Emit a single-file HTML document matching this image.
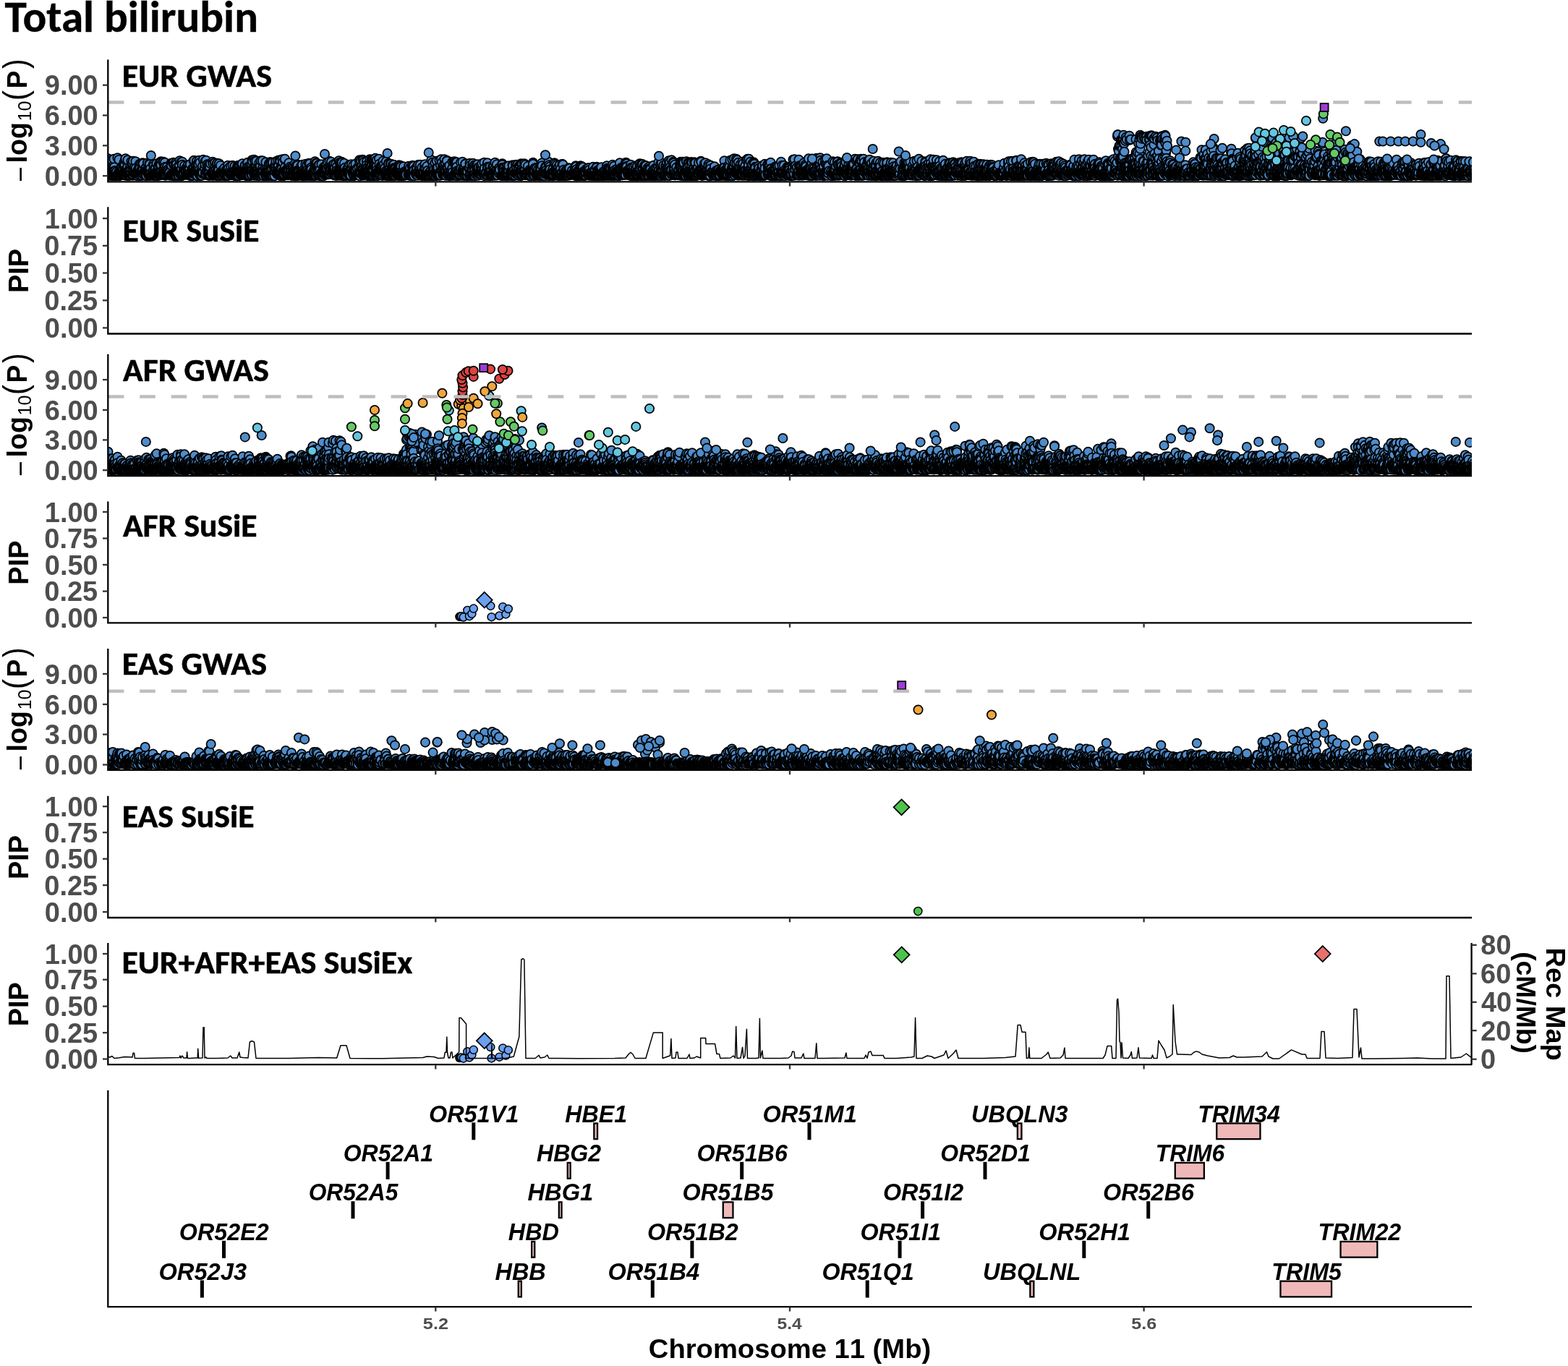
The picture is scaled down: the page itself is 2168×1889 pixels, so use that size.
<!DOCTYPE html>
<html><head><meta charset="utf-8"><title>Total bilirubin</title>
<style>html,body{margin:0;padding:0;background:#fff;}svg{display:block;}text{font-kerning:none;}</style>
</head><body>
<svg width="2168" height="1889" viewBox="0 0 2168 1889">
<rect width="100%" height="100%" fill="#fff"/>
<defs><marker id="mb" markerUnits="userSpaceOnUse" overflow="visible"><circle r="12.3" fill="#4e8ccb" stroke="#000" stroke-width="3.5"/></marker></defs>
<text x="6.47" y="43.70" font-family="Carlito,'Liberation Sans',sans-serif" font-size="59.99" font-weight="bold" textLength="350.47" lengthAdjust="spacingAndGlyphs" stroke="#000" stroke-width="0.35" style="font-kerning:normal">Total bilirubin</text>
<clipPath id="c0"><rect x="149.3" y="82.6" width="1885.7" height="168.7"/></clipPath>
<g clip-path="url(#c0)">
<g transform="translate(0 243.2) scale(.5)"><path d="M285-19l0-5 0-16 0 38 0-2 0 3 0-16 1 11 0-40 1 38 0-4 0 4 0 0 1 4 0-4 1 5 0-22 0 14 1 6 0-3 0 0 1 3 0 3 0-15 1-27 2 33 0 4 0-8 1 11 0-27 1 30 0-29 0-4 1 33 0-11 0-3 2-33 0 46 0-16 0 14 1-1 0-41 0 40 2 2 0-21 1 13 0-1 0 7 0-21 1 26 2-3 0-3 1 3 0-7 1 10 1-17 1-25 1 26 1 17 0-10 1 7 0-11 0-6 1-1 1 11 0-20 0 22 0-39 0 46 0-3 0-3 1-17 0 11 0-1 0 11 0 1 2-5 1-7 1 14 0-6 1 1 0 4 0 1 1-11 1 10 2-49 1 47 0 1 1-6 1 7 1-9 0-35 0 45 1-7 1 4 0-3 0 2 1 3 2-17 0 5 0 4 0 5 2-3 0-18 0 12 0 11 1-21 1 16 0 4 1-1 1-15 1 2 0 11 1-3 0-21 1-7 0 35 0-4 0-23 1 26 1-28 0 19 0 8 1-9 0-31 0 35 1-6 0 1 0-34 1 36 0-6 0 17 1-1 0-8 1 1 0-3 0-2 1 7 0 1 1-1 0-10 0 5 1 8 0-20 0-20 1 31 1 13 0-11 1 8 0-4 3 5 0-8 0 3 1-18 1 19 0-9 0-3 0 5 2 6 0-33 0 34 2-27 1-2 0 34 1-14 0 11 0-10 1-27 0 39 1-1 1-6 1-3 0-10 1-3 0 18 2-2 0-6 1-25 0 24 1 15 0-8 0 3 0-16 0 16 1 0 0 1 1-3 0 0 0 0 3 8 0-16 0 3 1 3 0-6 0 2 0 9 1-1 0-11 1-3 0 13 1-21 0 24 0-3 1-26 0 28 1-22 0 6 1 21 1-10 1 4 1 3 0-13 0 10 0-29 1 32 0 0 1 2 0-8 0-8 1-7 0 17 1-29 0 20 0 10 1-28 1 30 3-10 0 7 1-3 0 9 1-5 0 3 1-19 1-1 1 9 0-1 0 15 2-16 0 5 1-5 0-20 1 23 2-3 0 15 1-24 1 15 0 0 0-24 0 28 1-26 0 28 1 3 0-7 1 7 0-19 0 18 1-2 0-4 3 6 1-5 2-6 1 10 0-3 0 2 0-28 1 28 0-23 1 23 0 3 0-4 1 5 0-10 0-1 1 5 0-15 0 18 1-5 0 5 0 1 1-19 0 18 2-8 0 7 1-30 1 27 0 6 0-6 0 0 1 7 0-5 1-5 1-4 0 10 1-23 0 20 1-4 1 10 0-32 0 31 1-9 1-22 0 30 2-35 0 33 0-7 0 9 1-37 0 3 0 31 0-24 1 19 0 0 3 5 1 3 0-1 1-7 0-27 1 26 0-27 0 34 1-16 0 13 1-12 1 18 0 0 1-35 0 28 1-16 0 20 1-11 0 3 0 12 1-2 1 0 1-11 1-11 1 8 1 7 0-3 0 9 1 0 0-1 1-4 0 7 1 0 1-2 0-2 0-4 1-1 0 9 0-7 3 8 1-3 0-31 0 2 1 29 0-25 2 25 0 1 2-33 0 30 1 3 0-2 1-32 0 33 0 4 1-6 0-24 1 29 0 0 0-4 1 4 0-1 0-8 1-14 0 22 0 2 1-10 1 10 0-19 0 7 0 5 0-29 0 29 0-3 1 9 0 0 1 0 0-9 0 1 0-23 0 22 1-12 2 14 0 1 0-10 1 0 1 4 0 12 2-11 0 12 1-11 0-17 0-2 1-12 1 31 0 4 0 1 0-2 2-6 1 13 0-37 0 30 0 7 1-19 0 20 2-39 0 8 1 29 1-4 0 4 0-3 2-11 1 10 1-22 1 13 3 1 0 11 0-18 0 5 0 10 1 0 0-8 2-8 1-4 0 20 0-13 0-3 0 0 1 3 0-3 0 4 0 14 1-26 0 14 0 11 0-13 1 4 1 12 0-1 0-1 0-1 1-1 0 0 0-2 1-18 0 6 1 12 1-24 1 23 0 9 2-1 0 0 2-4 0 4 0-9 1 4 0-14 1 18 1 0 0 1 0-6 1-9 0-3 0 8 0-31 1 35 0 1 1-37 0 34 2-7 1 9 1-2 0-4 1-6 0-11 0 18 0-15 1 0 0 21 0 4 0 1 1-38 0 25 0 7 0-34 0 22 0 0 2 19 0-13 0 13 1-34 1 25 0-17 0 4 1-10 2-11 0 28 0 8 1 2 0 0 1 4 0-8 0-28 1 36 0-7 1 7 1-9 1-4 1 13 0-13 0 5 1 0 1-18 1 19 0 2 0-3 1-36 4 22 0 2 1-19 0 8 1 23 0 3 0 3 1 0 0-3 1-2 0 4 0-39 2 31 1-20 2 29 0-17 1-9 0 18 1-12 0 16 0 6 0-5 2-21 0 26 1-24 2 23 0-32 3 26 2 5 0-3 1 5 0-38 1 37 0 1 0-33 2 31 0-7 0 2 0 4 0-3 0 3 0-2 2 0 0-9 1-21 1 11 0 22 0-5 2-10 1 16 1-3 0-28 0 26 1 7 0-13 0 10 1-26 0-6 1 16 0 14 1-13 0 4 0 12 0-11 0-1 1 8 1-12 0 2 1-18 0 32 1 2 1-5 0 0 1 1 0-4 1 5 0-7 0-19 2 22 1 5 0 0 0 0 1-1 1-1 1-12 0 7 0 7 0 1 1-6 1-8 0 8 0-10 1 3 0 3 2 2 0-13 0 20 0-6 1 8 0-2 0-4 3-10 0 6 0 1 1 4 1 3 1 0 0 1 1-13 1-15 0 28 0-8 0 1 1-11 0 17 0-18 1 8 0 11 0-20 2 11 1 4 1-8 1 0 0 11 1-4 0-20 1 19 1 6 1-9 0 7 0-1 2-3 0 5 0-26 0 18 0 6 0 0 0-5 1 3 0 1 0-1 4 6 0-7 0-2 1 1 0-17 0 18 0-19 1 19 1 8 1-17 0 10 1 4 1-8 0 9 0-8 1 3 1 7 0-22 1 19 0-2 0-23 1 7 0 9 0-3 1-14 0 27 0 0 0 1 1-7 0 8 0-13 0-1 1-14 0 20 0-11 1-5 1 13 0-4 1 4 0 0 0-6 1-1 0-1 0 15 0 2 0-12 1 11 0-5 2-22 0 15 1 12 0-2 1-8 0-21 0 32 0-4 2-5 0-2 0 0 0 10 0-1 1-4 1-2 2 5 0-1 1 4 0-25 0 25 1-5 0-23 0 18 1 0 1 1 0 9 2 2 0-6 0-7 0 9 2-5 0-27 0 10 0 14 1-25 0 26 1 10 0 0 1-2 0-23 1 21 0-11 0 4 0 1 1-7 1 18 0-1 0-17 1 13 0-21 0 25 0-4 0 4 1-27 2 12 0 0 1 13 1-16 0-8 1-17 0 42 0-16 1-22 0 26 3 3 2-34 0 32 0 12 1-1 0-25 0 25 0-5 1-5 0 4 0-4 0-29 1 35 0-22 1 8 1 16 0-9 0 8 1-21 0-15 0 37 1-8 1 7 1-9 0 11 0-18 1 5 0 16 0-9 0 4 1 2 1-4 2-29 1 10 0 21 1 4 0-21 1 13 0-19 0 17 0 6 1-37 1 35 0-2 3 6 0-5 1-13 0 15 0-36 1 28 1 3 1 11 3-7 1-1 0-13 2-17 0 38 0-10 1-5 0 14 0-11 1 6 0-14 1 6 0 13 0-8 0 9 1-7 1 2 1-9 1 2 0 11 1 0 0-24 0 12 1-21 1 31 1-8 0 10 1-20 0-17 1 29 0 6 0-35 0 36 1-15 0-17 1 33 2-4 0 3 1-15 0-2 0-15 0 34 1-37 0 36 3-6 0 0 0 0 1-15 0 18 1-7 0 11 1-20 0-8 1 16 1-12 1 7 0-23 3 32 0-4 0 6 1-11 1 12 0-3 0 4 1-31 0-8 0 37 1-7 0-14 1 21 0-2 0-8 0 3 1 8 0-1 1 1 0 2 1 2 0-43 0 29 1 6 0-31 1 37 0-7 1 10 1-28 0 24 0 1 0-5 1-15 0 4 2-27 1 42 0-9 0-25 2 38 1-8 0 6 0-11 0 10 1-2 1-40 1-2 0 26 0-3 0 11 1 1 1 5 1-9 0 5 0 3 1 2 0-8 0 2 1 7 1-5 1 4 0-3 1 6 0-6 0 7 1 0 1-28 0 26 1-9 0-4 0-19 3 31 0-20 1 23 0 0 0-16 1 16 0-4 1-10 0-6 0 9 3 12 0-2 0-4 1 6 0-3 0-6 0-15 1 14 0 0 1 4 0 2 0-16 1 7 0 10 0 0 1 1 1-13 1 7 1-25 0 27 0-13 1 20 1-6 0 3 1-14 1 0 0-13 0 29 1-20 1-9 0-2 0 31 1-28 0 23 1-10 1 13 0 2 1-13 0 4 1-1 0 9 3-5 0 5 2-6 1-20 0 12 0 15 1-3 0-5 1 5 0-10 0-6 1 2 0 1 0-14 1 21 0 8 1-4 1 6 0-5 0 4 0 1 0-4 1 2 1-16 0 8 0 4 3-8 0 4 0 1 0 3 1 5 0-14 0-18 0 32 1-17 1 15 1-2 0-10 1 14 0-29 0 29 1-3 0-6 1-7 1 11 0-3 0 5 1 1 1-8 0-24 1 33 0-13 1 0 1 14 0 0 0-5 0-28 1 33 0-5 1-7 1-10 0 16 1-5 0-6 0 13 1 5 0-6 0 4 1 1 0-1 0 1 1-5 2-2 1 1 0 7 0-8 0-5 0 13 1-6 1 5 0-14 1 13 0-5 1-18 0-9 0 32 0-7 0-5 0-26 1 33 2-5 0-24 1 35 1-34 1 28 1-13 0-7 0 20 2 5 1-11 0 11 0 0 1-22 0-7 1 0 1 27 1-13 1 12 0 5 3-32 1 22 0 10 0-9 0 3 1 4 0-3 1-7 1 12 0-3 1 3 0 0 0-12 1 6 0-6 0-12 1 2 0 13 1-9 0 0 0-2 0-1 0 10 0-7 1 15 0-2 1-8 0 0 0 6 1-14 0 7 0-3 2-7 0 8 1 10 0-25 1 27 0-17 0 17 1-16 1-19 1 35 1 0 1-1 0-18 2-18 1 21 0 13 1 0 0-3 0 2 0 3 1-9 0-8 0 12 0-17 0 11 1-5 1-18 2 15 1 19 0-24 1 17 0-8 0 7 0-7 0-5 2-2 0 19 1-14 1-11 0 23 0 7 0 1 1-6 0-8 1-7 0 20 1-4 2 6 0-32 0 26 1-6 0 1 1-4 0 15 1-12 0-13 1 10 1 10 1-4 1 8 0 0 1-40 0 29 0-1 1 8 0 4 0-14 1-21 0 34 0-12 1-1 0 5 0 1 0 7 1-2 0 4 1-3 0-31 0 32 1 1 0-4 0-3 0 3 1-12 1-17 0 28 0-32 0 28 1 2 0-9 0-19 0 32 2-9 0 10 0 0 1-2 0-2 1 8 0-14 0 9 1 3 0-9 0-11 0 16 0-5 1 3 0-27 1 15 0 17 1-20 0 15 1 0 0 7 1-11 0 6 0 5 1-5 0 0 3-6 0 11 0-18 1 10 1-12 0 14 1-4 0-14 1 11 0-10 1 22 1-6 1-7 0-16 1 23 0-8 0 16 0-1 1-5 0-6 1 11 0-18 2-13 1 14 2 7 1 1 0 5 1 0 0 0 0-24 1 29 1-3 0-15 1 5 1-6 1 9 0-8 0 5 1 11 0-1 0-30 1 18 0 6 0 3 0-10 3 11 1-17 0 3 0 15 1 0 0-3 1 5 2 0 1 0 0-22 1-17 0 32 0-35 0 41 1-4 0 7 0-8 0-29 1 24 2-15 0-14 0 34 1-3 0 3 1-18 3 19 0-13 0-25 1 42 0-40 0 38 0-11 0 15 1-23 0 6 0 12 2-33 0 37 1-12 1 4 0 3 0 3 1-2 0-12 1 12 0 4 1-3 0 3 0-24 0 21 0-11 0 11 1-3 1 6 0-38 0 10 0 8 1 3 0 17 0-12 1 10 0-8 1 4 1 1 0 7 0-4 0-11 1 11 1-9 0 0 2-22 0 32 1-7 0-36 0 39 1-19 0 24 0-14 0 0 1 16 1-2 0-24 1 11 0-30 2 13 0 32 1-3 0-42 0 29 0 5 1 8 0 0 0-9 1-10 0 18 0-13 0-22 1-5 0 21 0 7 0 16 1 0 0-30 0-3 1 7 0-5 1-12 1 37 1-43 0 23 0-8 0 33 2-40 0 40 0-23 1 15 0-6 0 9 1-21 0-17 0 31 0-3 1 13 0-7 1 10 0-6 1-2 1-2 1 7 1-6 0-38 1 37 0 6 0-29 1 29 0-16 1 2 1 11 0-7 1-13 1 0 0 13 1-11 1 6 0 9 1-1 0 10 0-17 1 17 0-25 1-15 1 23 1 7 1-21 0 29 0-14 1 4 2-6 0 12 0-16 1 15 1 3 0 4 1-7 0-32 1 39 0-15 0 3 0 5 0 5 1 1 1 0 1-1 0 2 1 0 0 1 1-35 0 29 0-2 1 2 0 4 0-20 0-11 1 32 0-4 0 4 0-4 1 0 0 2 1-18 0 12 1 9 1-14 0-19 1 0 0 21 1 8 1-12 0 16 1-8 0-3 1 11 0-1 0 0 0-2 0-17 1-10 0 29 1-16 1 11 1-25 0 30 0-5 0-16 0 19 1-8 0 6 1-6 0-9 0 14 0 4 1 1 1-4 0 2 1-1 0-16 0 19 3-3 0-12 0 6 1 5 0-10 1 6 1 5 0-7 1-7 0 7 0 3 0-2 1-5 0 11 0-20 0 17 0-3 1 5 0 0 0-25 1 16 0-2 0 16 0-5 0-3 1 6 0-5 1-3 0-12 0-6 1 21 0-22 0 24 1-6 1-15 1 16 0 4 1 0 0 6 1 0 0-3 1-10 0 11 1-1 0-13 0 14 0-1 2-23 0 22 0 1 0 2 1-9 1 5 0 3 1-4 0 5 0-11 0 3 1 4 1-1 2 3 6 0 1-24 2 20 0 6 0-2 1-1 1-19 1 22 0-4 2-4 2 8 0-1 0 0 0-6 0-20 0 25 1-8 0 11 0-11 0-14 1-4 1 25 2-12 0-11 0 16 0 4 1-9 0 16 5-10 0 4 1-6 0-10 0 19 1-1 1-9 0-12 0 5 0 14 1 0 1-3 1 8 0-11 1-19 2 26 1-12 1 10 0-3 1-21 0 28 0-6 1-1 0 3 1-7 1 12 1-9 0 2 1-14 1 23 1-1 0-5 0 2 2 1 0-7 1 5 0-10 1 7 1-16 1-8 1 12 0 20 1-20 0 13 1 7 0-7 0 6 1-5 0 4 2-25 0 14 0 10 1-11 0 1 1-2 1 10 0 4 0 0 2-3 1 4 0-9 0 7 2-8 0 1 0 8 0-10 0 4 2-6 0 5 1-1 0-6 1 12 0-41 1 42 1 2 0-10 0 2 0-1 1-28 0 37 2-5 0-16 0 13 0-19 1 16 1 11 1-13 0-6 0 14 0 2 2-33 2 31 0-5 0 10 0-8 2-10 0-4 0 16 1-35 0 29 1 10 0-14 1 6 0-11 0 11 0 5 0-1 1-6 0-6 0 16 0-7 0-14 1 16 0 1 2 5 1-42 1 40 0-7 0 6 0-5 1 4 0 4 1-28 0 27 2-44 2 9 1 24 1 9 0-21 2 20 1-22 0 15 0-18 1 21 0 4 1-18 0-23 0 44 0-4 1 4 0-6 1 6 1-18 0-15 1 27 0 4 0-8 1 11 2-42 0 2 0 34 0-17 2 13 0 3 1 5 0-19 1 12 2-3 1-16 0 29 1-2 1-3 1-8 0 4 1-2 1 5 3-16 0 21 0-38 1 28 2 9 1-37 1 38 1-39 1 4 0 31 1-28 0 29 0-2 0 4 0-1 1-7 1-9 0-18 0 26 0-3 1 8 0-19 0 1 1 18 0-32 0 36 0-23 0 20 1-4 0-5 0 7 0 7 2-4 2-4 1 0 0-2 0 8 0-13 1 2 0 11 0-9 1 10 2-2 0 1 1-35 0 26 1-10 3 15 0 5 1-38 1 31 0-11 0 8 0 0 1-2 1 9 1-15 0 18 1-13 1 12 0-20 0 21 1-12 0 12 1-33 0 1 0 22 1-4 1 11 1-9 0 9 1 4 0-2 0-9 1-4 1 15 0-11 4-10 1 0 0 20 0-22 1-12 1 6 0 27 1-6 0 0 3-6 0-3 1 17 0-10 1-5 0-5 0-9 1 13 0 14 1-33 1 30 0 0 1-21 1 17 0 9 1-30 0 16 1 14 1-7 2-22 1 26 1-23 1 2 0 16 1 1 0-5 1 2 0 6 0-28 1 9 0 22 2-23 0 19 1-1 3 2 0-8 0 7 1-20 0 11 2-6 0 16 1 1 0-8 1-7 0-16 2 22 1 7 1-4 0-2 1 3 1-29 0 35 1 2 0-21 2 17 2-6 0 3 1-1 3 7 0-25 0-10 0 11 1 4 1 14 0 6 2-7 0-6 1 8 1-13 0 11 0 3 1-9 0 12 0-15 0-2 0-5 1 24 0-26 1 24 0-2 0-5 0 5 1 2 1-7 0-5 0 10 0-12 0 13 2-1 1 3 1-1 0-4 0 2 0-2 0 4 0-25 1 24 0-17 1 12 0 6 0-24 2 8 1 10 1 7 0-36 0 24 0 5 1 4 2-8 0 4 1 3 0-10 0 8 1-25 0 30 1-8 0 8 1-8 0 8 2-10 1 3 0 1 0-6 1-8 0 1 2 4 4 16 1-1 1 1 1-33 0 3 0 8 1 4 0 15 1 3 1-10 1 10 0-6 0-16 0 9 1 1 0-1 0-7 0 8 1 7 0 1 0-3 0-6 1 9 0 2 2-6 0 8 0-6 1 5 0 1 1 0 0-7 0 3 0-13 0 9 1 2 0 5 0-12 1 6 0-3 0 9 0-25 0 20 1 7 1-21 0 6 0 1 1 2 0 5 0 6 0-15 1 11 0-9 0 8 0 4 0-4 1-8 0-14 4 26 1 0 0-10 1 11 0-2 0-1 0 1 1-6 1-1 0 8 1 1 0-6 1-7 0 12 0-28 1 19 0-17 1 18 0 10 1-2 2-14 1 9 1 1 1 5 0-8 0-1 1 3 0-24 2 20 0-10 0-5 1 19 2 3 0-27 0 24 1 3 0 2 1-2 0 1 0-2 1-4 0 8 0-25 1 5 0 13 1 2 0-2 0 1 2-19 0 17 1 1 0-6 1 14 0-15 1 6 0-25 1 16 0 13 1-27 0 30 0-6 1-12 0-5 0-7 0 19 0 1 0 7 0-14 1 6 3 5 1-9 0 12 0-14 0 6 1 1 0 1 0-23 0 28 1 3 1-5 0-8 0 11 1-26 0 29 1-5 2 1 1 0 1 4 1-1 1-24 1 17 1-1 1 9 1 1 1-4 0 5 0-17 1 10 0 4 0-10 0 12 0-5 1-2 0-6 0 8 2 4 0-2 0-1 0 5 1-15 2 11 1-3 0-2 0-7 1-21 0 34 0 0 0-14 0-16 0 31 1-1 1-13 0 14 1-7 1 2 0 7 0-21 1 9 0-3 4 10 0-18 0 22 0-17 0 15 1-18 0 16 1-5 1 9 0-2 0 1 1-3 1 3 1-10 0-4 0 11 0-14 2 11 0 6 0-5 0 5 0 0 1 2 1-3 0-8 1 3 0-12 0 19 1-20 0 21 0-17 1 13 0-17 0 1 1 19 0-3 2-32 0 8 0 21 2 7 1-9 2 7 0-14 2 16 1-19 1-1 0 15 0-12 0-8 1 13 0-1 1-11 0 17 1-9 0 8 3-2 1 1 0-2 1-1 1 3 0 3 0-33 0 34 1-25 0 30 0-4 1-15 1 2 0 9 0 4 1-22 0 10 0 2 0-4 2 13 0 3 1-2 0-4 1 5 1 0 2-11 1 5 0-10 0 9 0 10 1-6 1 4 0 1 1-2 0 0 1-33 1 25 2-22 1 15 0 14 0 1 1 1 0-11 0 7 1-7 1-17 0 13 1 16 1-15 0 14 1-6 0 3 0-6 1-13 1 20 1-11 1 13 0 2 0-7 1-24 1 28 1-8 0-8 2 18 0 0 1-2 0-6 1-1 0 3 1-26 1 32 1-30 2 30 0-16 1 17 0-8 2 1 0-1 1 7 0-7 0-2 1 9 0-13 1 13 0 0 0-1 1-6 0 1 2 0 0-10 0 10 0 5 1 0 2-8 0-3 1 12 0-7 1-14 0 17 2 1 0-17 3 14 1 4 1 0 0-2 2-3 0-7 3 7 0 0 1 4 2-9 0 8 1-4 1-14 0 20 1 2 0-3 1-24 0 19 1-1 0-16 1 25 0-17 0 17 0 1 2-5 0 5 0-1 0-4 1-8 0 10 1 2 1-12 0 11 0-2 0-1 0-6 1 10 0-3 1 4 1-1 0-13 0 0 1 13 0-8 0 7 1 1 1-12 0-15 0 23 1 4 0-6 2 5 0-25 0 3 2 22 0-16 0 7 1 7 0-2 1-5 0-13 0 13 0 4 1 6 0-3 0-3 1 7 0-3 1 2 0-7 1 6 1-12 2 13 1-15 0 12 0 2 1-6 0-2 0 2 1-11 0 0 2 0 2 16 0-5 0-14 1 19 1 0 0-19 1 20 0 1 1-16 0 10 0 0 3 4 0 2 0-4 1 1 0 1 0 0 1 1 0-5 1 0 1 6 0-1 0-9 0 8 1-5 1 5 0 2 0-12 0 10 1-22 0 20 0 4 1-2 1 2 1-3 0-11 1 10 0 4 0-14 1 10 1-9 0-3 1 17 0-2 1-3 0 2 2-22 0 2 0 22 1-8 0 9 0-7 1-8 0 9 1-8 0 10 0 3 1-5 2 4 0-13 0 15 1-8 1 2 0 4 1 0 0-2 0-5 0 5 0 3 1-17 1-4 0 0 1 2 0 11 0 3 1-2 0-16 0 23 0-1 0-4 2 2 2 4 0 0 2-12 1 11 1-2 0 2 1-11 0-1 0 12 1 0 0-1 0-2 1-4 1 5 0-4 1-4 1 10 1-4 0 2 0-25 1 22 0 1 0-16 1 18 1-8 0 10 0-4 0-2 0-4 1 1 0-4 0-6 0 1 1 9 0-7 0 11 0-1 1-1 0 6 0 1 2-19 1-2 0 21 0-7 1 0 1-12 1 14 0 5 1 0 0-1 1-1 0-5 1 3 1-26 0 11 1 19 0-13 0 9 1 5 1-1 0-5 0-16 0 19 1-24 0 19 1 2 1 0 0-10 1 9 0 6 1-6 0-1 0 5 1-9 1 4 0-5 2 7 1-7 0 9 0 3 0-19 0 7 1 1 1 11 0-8 1 6 1-14 0 8 0 9 0-3 0 2 1-8 1-3 0 7 1-17 0 7 0 1 0-22 2 19 1 13 0-10 0 12 0-4 1-17 0 5 0 6 0-4 1 14 1-19 1 14 0-2 0 7 0-6 0 1 2 1 0-15 0 6 1 5 0-6 0 0 0 12 0 1 1-2 1 2 0-21 0 3 0 14 0-6 1-6 1 0 0-7 0 21 1-14 1 4 0-21 0 33 1-34 0 14 1 6 1-17 0 7 0 2 1 11 1 5 2-5 0 4 0 7 1-1 2-2 0 4 0 0 1-2 0-5 1 6 0-4 0-4 0-1 1 11 0-8 1-4 0-11 0-7 1 11 0-3 1 19 0 1 1-20 0 23 1-14 0 9 2 3 0-11 0 13 1-12 1 11 0-9 0-15 0 24 1-10 1 11 0-8 1 8 2-9 0-19 0 19 1 5 1-5 0-4 0 13 0-19 1 18 1 1 0-10 0-1 1-15 0 14 0-15 1 26 0-10 0 11 0-3 2-11 0 14 0-5 0 1 0 3 1-7 0 5 2-7 0-1 0-1 1-22 0 29 0-28 0 9 1 6 1 1 1-12 0 28 0-1 1-1 0 0 0 3 0-4 1 0 0 3 0-3 0-29 0 23 0 9 2-31 0 30 1-30 1 32 0-18 0 17 1-7 0 4 1 4 1-5 0 4 0-5 1 0 0-21 0-1 1 25 0 2 0-8 1 7 0-13 0 13 0-27 2 17 0-16 0 28 1-9 1 0 1-1 1 9 0-15 0 7 1-13 1 21 1-3 0-6 0-4 1-4 1 17 1-8 0-1 0-16 1 5 1 9 1-7 1 16 1 3 0-3 0 2 1-1 0-8 1 3 0 5 0-7 2-4 1-2 0 9 0 4 1-6 0-21 0 29 1-3 0-14 0 15 1-4 1-2 1 8 0-1 0-3 1-17 0 15 1 2 0-8 1 4 1-3 1 10 0-20 1 18 1-4 1 1 0 5 1-25 0 22 0-6 0-3 1 9 0 3 0-13 0-24 1 33 0-10 0 13 3-7 0 7 1 1 0-27 0 21 0 0 1-27 1 20 0 14 1-10 0-1 1-25 1 30 0 1 0 2 1-9 2-13 0 21 1-25 0 24 1-2 1 6 1-2 0 2 1 0 1-1 1-26 0 1 1 23 0-15 2-17 1 13 1 4 0 17 0-3 1 2 0-11 0 13 1-10 1-31 0 37 1 4 1-5 1 5 0-37 0 15 1 11 1 3 1-9 1 13 0-13 1 2 0-28 2 41 3-36 0 34 1-11 0-14 0-6 0 29 1 0 0 1 1-16 0 3 1-12 0 24 0 5 1-1 0 1 0-1 0-4 0-1 0-1 0 7 2-2 2-20 0 17 3 4 1-5 0 6 1-1 1-15 0 2 2 10 1-26 1-1 0 28 0 2 0-20 1-3 0-13 0 38 1-21 1-6 1-9 1 36 1-18 0 1 0 13 1-34 1 4 0 34 0-13 1 10 1-32 1 34 1-10 0 6 0 0 0 6 1-13 0 10 0 1 1-14 1-1 1-3 0 20 1-10 0-30 0 29 1-3 0-2 1 3 2 12 0-3 0-8 1-25 0 19 0-7 2-11 0 35 0-2 1 2 1-8 0 4 0-11 0-13 1 23 1-6 0 8 1-13 1 9 0 8 0-38 0 0 0 38 1-10 0 9 0-8 0-18 2 23 0-33 1 35 0-16 1 11 0-13 0 19 0-11 1 1 1 0 0 9 0-4 0 1 0 5 1-23 0 20 0-19 0 21 1-37 0 36 1-8 0-27 0 30 1-3 0-7 0 14 1-6 0-5 0-22 0 35 2-3 0 4 0-2 2-17 0 6 0 8 2-19 0 17 1-15 1 18 0 0 1-3 0-30 1 24 1-1 1-1 0-2 1 2 0 7 0-5 2 7 0-35 1 23 0-21 1 26 0-4 0 7 0 5 1 0 0-10 0-2 0 16 1-2 1-7 0 7 0 2 2-2 0-10 0-8 0 4 1 6 1 7 1-29 0-1 1 18 0 2 1 9 0-15 0 18 0-2 1-1 0-31 0 22 2 8 0-6 0 9 0 1 2-1 1-2 0-8 0 11 0-3 1-1 2-26 0 6 1 21 0-4 1-1 0 10 1-4 0-16 0 19 1 1 0-5 1 4 0-17 0 7 1-18 0 9 3 9 1 3 3 7 1-3 0-7 0 7 1 1 1-1 1-22 0 23 1 1 1-1 0 0 0-5 1-5 1 6 1-2 0 5 0-4 0 8 1-1 1-15 2 12 0 0 1 1 0-14 1 11 1 6 0-3 0-2 0-13 1 10 0-1 0 2 1 1 1 5 0-1 0 0 1-10 0-3 1 4 1 3 0-8 0 7 2-5 0-1 2 14 0-1 0-2 0-10 1-2 1 8 0 5 0-3 1-5 0-13 0 16 1 0 0-5 1-11 0-18 0 27 0 5 0-13 1 22 0-14 1 12 0-1 0-1 1-3 1-5 0 1 0 11 1 0 1-16 0 15 0 0 1-2 0 2 1-1 0 2 1-16 0 17 0-25 1 22 0-6 0 5 1-24 2 18 1-15 1 20 0 2 1-40 0 33 1 2 0 8 1-2 0-10 1 6 1 4 0 0 1-18 0 14 0-3 1-15 0-21 0 35 1-17 0 27 1-5 2-3 0-18 0 3 1-25 0 22 0 19 0-2 1-2 0-1 1 10 0-33 1 26 1 1 0-1 1-5 0-3 1-30 0 32 1-14 0-6 0 24 0 6 1-7 1-4 0-28 1 27 0 4 0 8 1-11 0 15 1-7 0-3 0-26 1 14 0 18 0 2 2-3 1 4 0-15 1-11 0-3 0 9 0 17 2 1 0-1 1-2 1-14 0 6 1 11 0-4 0 2 0 5 1-38 0 30 0 5 0-4 0 0 0-3 1-6 0 13 0-5 1 6 0-31 1 16 1 7 0-4 1 4 1-2 0 12 0-23 1 12 1 7 0-24 1 25 0-12 0 2 2 12 0-42 2 34 1-5 0 11 0-43 1 32 1 3 1-13 0 22 0 3 0-7 0-23 1-17 1 31 0 15 0-5 1-5 1 1 1-29 1 36 1 1 1-6 0 2 0-17 0 8 1 11 1 0 0-7 0-22 1 30 1 3 0-4 0-8 1 8 1-5 0-29 1 28 0-26 0 24 1 11 0-32 0 31 1 2 0 0 1-7 0-18 0 6 1-3 0 0 0 14 1 0 0 6 0-4 0 3 3 2 1-6 2 6 1-26 0 17 0-5 1 6 0 1 0 2 1 2 0 0 0-3 0-15 1 17 0 0 1 4 0 1 2-2 1 2 0 0 0-1 1-17 0 12 1-6 1 11 0-1 0 1 0-25 0 23 1 3 1-5 0-24 1 23 2 4 0 2 1-2 1-7 1-24 0 12 1 19 1-1 6-1 0-28 1 8 0 12 1-8 0 12 1 1 0 2 1-28 0 21 1-8 0 13 0-23 3-7 0 17 1 19 0 1 0-18 0-1 1 9 0-2 1 12 0-1 1-11 0 4 0 0 0-2 0-3 1 12 0-11 1 1 0 11 1-5 0-2 0-6 1 5 1 0 2 8 0-9 1 5 0-21 0 14 1-11 0 13 1 9 0-13 0 10 0-14 2 14 0 1 1-10 1-15 2 17 0-18 0 23 1-3 0 6 1-7 0 8 1-9 1-19 0 28 1 1 1-2 0 2 0 0 1-3 0 3 1-1 1-13 0-25 0 28 0 5 2 0 0 1 1-24 1 22 1 3 0-6 0 6 2 3 0-8 1-20 1 28 2 1 0-7 1-11 0 8 0 0 0 5 1 0 1 1 2-6 1-1 0-14 0 22 0-7 0-5 1 12 0-12 0 2 0-9 0 0 2 18 0-4 1-14 0 21 0-7 2-14 0 6 1 11 0 4 1-8 0 1 1 3 1-7 0 6 1 6 0-9 0 7 1-9 0 8 3-25 0 6 1 11 0-34 1 43 2-2 0 3 0-5 1-40 1 19 1 10 1-11 3 26 1-2 0-5 0-15 2 21 0-3 1-6 2-2 0-31 0 44 1-27 0 26 2-25 1 2 1 21 0-7 0-9 1 16 0-12 1 5 0-15 1 23 0 0 1-7 0-5 0 12 0-10 0 12 1-11 0-6 1 8 1 8 0-8 0-16 1 20 0-4 0-13 1-13 1 18 0 11 1 5 0-8 2-21 0 11 1 14 0-13 1-8 0 15 0-14 0 24 1-12 0-1 0 9 1-2 0 5 0-13 1 12 1 1 1 1 0-11 0-4 0 14 1-7 1 9 0-47 0 31 0 12 2 2 0-15 1 17 1-14 1 11 0-24 0 1 1 10 0 3 1 10 0-12 0 15 0 0 0-22 2-12 0 34 1-7 0 4 0-3 1 3 0 3 0-46 0 24 3 13 0 5 0-14 2-4 0-23 0 33 1 8 1 2 0-12 0 12 0-42 0 36 0-30 1 30 0 8 1-3 0-41 2-4 0 48 1-23 1-6 1 26 0 2 0-42 0 7 1 31 1-1 1-30 0 28 1-21 0 28 0-18 1-7 1 26 0-4 0-44 1 16 0 24 0-41 1 31 0-24 0 34 1-9 1-2 0 1 3 5 1-25 0 33 0-3 2 0 1-17 0 26 3-10 0 8 0-6 0 3 0-5 1-26 0-10 2 33 1-19 0 23 0 5 1 2 0-8 0-38 2 39 0-20 0 16 1-1 0 13 0-8 2 1 0-13 0 14 0-20 2 13 5 2 2 11 0 1 0-5 1-2 0 7 2-40 0 31 1-3 0 7 0 1 1-6 2 2 0 7 0-7 0 4 1-34 0 30 1 0 1 4 0-14 1 17 1-25 0 22 2 1 2-37 0 1 0 37 1-4 0-25 1 20 1 9 0-16 0 8 0-22 0 31 1-12 0 2 3-22 0 31 1-16 0 4 1 5 0-28 1 31 0-1 0-27 1 13 0 12 0 6 1-25 1 13 0 7 2 3 1 0 0-12 0 11 0-13 1-2 1 15 0 5 0-2 1-26 0 18 0 10 0-18 1 15 0-24 0 28 1-13 0 2 1-31 0 31 0 5 1-2 0-30 1 27 0-8 1 3 0 6 0 8 2-16 0 7 0 6 0-1 1-2 0 5 0-12 0-7 0 16 1-12 1 7 1 2 0-25 1 26 0-5 1 1 1 7 0-36 1 28 0-5 0 14 0-17 0 18 1-3 0-19 1 24 0-3 0-12 1 10 0-2 0-14 0 20 0-20 1 9 0-3 1-7 0 19 0-6 1-6 1-3 0-11 0 23 0-20 0 20 0-25 1 12 0-2 0 18 1-9 1-12 0-7 2 29 1-44 1 34 0 1 0-4 1 3 0 5 0 7 1 0 0-13 1-28 0 35 2-17 0 14 0-10 1-25 0 35 1-36 0 36 1 9 1-1 0-13 1 14 0-10 0 2 1-27 1 33 0-11 0 7 1-28 1 33 0-41 0 25 0 8 1-9 0 15 0-1 1-14 0 10 0-38 1 46 0-1 1-3 0-38 0 40 0-8 2-2 1 12 1-25 1 13 0-34 1 45 0-30 1 4 0 14 0-24 0 27 1-2 2-4 0-1 1-6 0 2 1-6 0 13 1 13 0-5 0-13 2-3 0 19 1-28 0 23 1-9 0 10 0-33 0 39 1-40 0 39 1 2 0-10 0-10 1-21 0 0 0 30 2 6 0-39 1 40 1-15 0 11 1-13 0 21 2-10 0-24 1 18 1 11 0 5 0-22 1 20 0-6 1 8 1-10 0 4 1-34 0 16 1 22 0-16 2 12 1 4 0-22 0 17 0 4 1-9 0 12 0-2 1 2 0 1 0-10 1-12 0 19 0-33 0 11 0-2 1 22 0-5 0 5 0 3 1-12 1-1 1-23 1 36 0-39 1 33 0 7 0-3 1-14 1 15 0-25 1 16 0 6 1-9 1-14 0-8 1 24 0-13 2 24 1 2 0-2 0-9 0-2 1 13 1 0 1-2 0 0 0-12 0 10 0-33 3 33 1-31 1 24 0 4 1 2 1 3 0-1 1 2 0-20 0 21 1-17 0 13 1-9 0 3 0 6 1-25 0 21 0-4 1 9 0-35 0 31 0-29 2 15 0 21 0-2 0-5 1 0 0 0 0-2 1 1 0 0 1-4 0 11 1-6 0-10 1-9 0 7 0 19 1-19 0 11 1-1 1-6 0 14 0-8 0 2 0-7 1-1 0 4 0-2 0-24 1 25 1 10 2-11 0 12 0-7 1 4 0-3 0 5 0 0 1-34 1 16 0 20 0-26 1 24 0-5 0-1 0-6 0 7 1 1 0-14 1 4 0 12 2 3 1-19 0 12 0-17 1 21 0 3 1-6 0 1 0-10 0-1 1 7 0-19 3 17 1-8 0 14 1-6 1 9 0-2 1 3 0 1 1-35 0 30 1-14 2-20 3 40 2-10 0-10 2 20 0-9 0-3 1 12 0-2 1-19 0-4 1 8 0-19 2 10 0-4 0 21 0 8 1-29 1 7 0 21 0-41 1 24 0 5 1-16 1-10 0 17 0 14 1 6 0-3 0-16 1 3 0 9 2-28 0 30 0 3 1-10 0 3 1-10 0 8 0 6 1 5 0 1 0-20 2-17 0 37 1-8 1 4 0 0 1 1 1-4 0-7 1 11 1-22 0 24 0-9 1-1 0 12 0-3 0-15 0 7 0-6 0 13 1-15 1 10 0 1 2-32 0 24 1 6 3 5 0-16 1 18 0 3 0-1 0 0 0-15 0 9 2 8 0-42 1 35 2-18 0 11 0 3 0 9 1-12 1-1 1-32 0 35 0 8 1 3 0-3 1 2 0 0 1-11 1 0 1-6 0 13 0-8 0-11 1 5 0 13 2-3 0-31 0 19 2 10 0 6 1-16 0 11 0 6 2-15 0 11 1 7 0-18 1-6 0 25 0 0 1-1 0 1 0-28 0 27 1-22 1-16 0 3 1 36 0-19 0-8 3 5 0 20 0-4 2 4 1-26 1 19 0-12 0 13 0-1 0 8 1-33 0 11 3 24 1-23 0 17 1-2 0 5 0-28 0-15 1 11 0 25 1 10 2-4 0-22 0 22 1-4 1 5 0-7 0 9 1-4 0 1 0-26 0 17 0-13 1 20 0-39 1 43 1-21 0 21 1-5 0-19 0 18 1-7 0-9 0 21 0 0 1-22 0 9 1 5 1-9 1 11 1-1 0-34 1 17 1 21 0-21 0 18 0 6 2-4 0-16 0 22 0-8 2-5 1 4 0-3 1-27 0 13 0 26 2-2 1-12 0-6 0 10 0-4 3-4 0 13 0 6 1-4 0-1 0-5 0 4 0 2 1 2 0-7 0-12 2-22 1 35 0 8 0-8 2-12 1 12 0 5 1 3 0-30 1 16 0-19 0 27 0 4 1 0 1-16 0 7 1 4 0 5 0 2 1-16 0 14 1-18 2-4 0 17 1 4 0 0 2-8 0 11 1-14 0-10 0-12 1 17 0 6 0 7 0-8 1 13 0-33 0 11 1 18 0-15 0 18 1-13 1 11 0-6 0 9 1-22 0 18 0 1 0-7 0 11 1-10 0 5 0-26 1 21 0 2 2 4 0-18 0-10 1 30 0-36 0 25 1 12 2-3 1-4 0-27 0 12 1 21 0-31 1 23 0-5 1-10 0 15 1-7 1 4 2 7 1-5 1 10 0-14 1-20 0 29 1-30 0 30 1-2 0 3 1-15 0 5 0-7 0 14 0 2 1 3 1-14 0-19 0 30 2 0 1 4 0-36 0 29 0-5 1 14 0-5 1 0 0-25 1-3 0-3 0 27 1 2 0 4 0-20 2 21 2-4 0 1 0-22 0 2 1 24 0-6 1-19 0 16 1 9 0-4 0-24 0-7 0 27 2 3 1-22 0 24 0 2 0-15 1 11 0-35 2 31 0-11 0 1 0 15 2-14 1 3 1 14 0-4 0-10 2 7 0 6 1-34 0 31 0 1 1-36 2 28 1 12 0-9 0-26 0 34 0-6 0 5 1-18 0 8 0 2 0 9 3-3 1 3 0-15 1 10 0-30 0 36 0-3 0-24 1-11 1 12 1 25 0-2 0-5 1 2 0 4 0-4 0 0 2-7 1-12 0 22 0 1 2-1 0-1 1 5 0-4 1-11 0 15 1-3 1-18 0 8 0-20 1 26 0-7 0 10 0 0 0 4 0-3 3-7 0 8 1-29 0 16 0 6 0-24 0 29 0 1 3-29 1 28 0 0 0-5 0 9 1-11 1 8 0-11 0-9 1 20 0 0 0-26 2 23 1-26 1 31 0-5 0-25 1 21 0-10 1 11 0-10 0 3 0 6 1 3 1 2 1 4 0 0 1-1 0-1 1-18 0 20 0-4 1-26 0 29 0-29 0 22 1 1 0 5 0-2 0-13 1 9 0-1 2 6 1 0 0-17 1 20 0-1 0 1 1-27 0 22 1 5 1-3 0 2 0-4 1-8 1 0 0 6 0-23 1 17 0 2 0 5 1 4 2-27 0 16 0-11 0 16 0-2 1 1 0 0 0 5 0-6 1 4 0 4 0-19 1-1 0 21 0-10 1 2 1 4 0 1 1 1 0 0 0 2 1-3 0 5 1 0 0-4 1-2 3-5 1 2 0 8 1-22 0 12 0-2 1-9 1 1 0 16 1 1 1 1 0-2 0-25 2 21 0 5 1 3 1-3 0-3 2 3 1 4 0-3 1-3 0 5 0-2 1-4 0-1 1 4 0 1 0-1 0-6 0 6 2-2 1-15 1 14 0-11 0-5 1-12 3 21 2 13 1-4 1 4 0 0 1-20 1 17 1 1 0-2 0 1 1-33 0 34 0-4 0-31 1-2 0 28 0-11 1 0 0-3 0 20 1-3 0 7 1-8 0-3 0 8 1-7 1 3 0 7 0-16 0 17 2-40 1 39 0-1 2 1 0 2 1-5 1-10 0-4 0-22 0 36 0-15 1 14 0-8 1 7 1 3 0-6 1-2 0 12 1-2 1-1 2 2 0-11 0 11 1-42 0 31 0-1 1 8 0-37 0 41 1-23 1 9 1-1 0 16 1-18 0-3 1 18 0 0 0 2 1-27 0 28 1-25 0 22 1 0 1-23 0 21 0 0 0 3 0 2 1-10 0-4 1-6 1 14 0 5 0-15 1 15 0-45 0 33 0-4 1 16 0-26 0 19 1 7 1-1 0 2 0-20 1-7 1 27 0-16 0 14 0 1 2-7 1 8 1-36 0 33 0-16 0 15 1-14 0 7 1 2 1-20 0 10 0 5 1 11 0-2 1-13 1 14 0 1 1 0 0-7 0 9 1-10 0-6 1 15 0-31 0 31 1-7 0 8 2-12 1 2 0 1 0 0 1-4 1 12 1-15 1-21 0 38 0-12 0-3 1 13 0-6 1-8 0 14 0-4 1-19 1 14 0 6 0-7 1 7 1-2 0-9 0-15 0 30 0-5 0-33 2 25 0 8 0-8 1 10 0-34 1 36 1-3 1-28 0 28 0 5 1-12 1 10 0-4 2 1 1-11 0 15 1-2 1 1 0-6 1 7 0-16 0 9 1 8 1-11 0-15 1 23 0-8 0 11 1-10 0 9 0-32 1 28 2 2 0-3 0-16 1 5 0 4 1-20 0 22 1 11 0-10 1 2 0 5 1-8 1-8 1-4 0 19 1-10 0 10 0-27 1-2 1 23 1 4 1-6 0 6 1 0 1 1 0-12 2-18 1 31 1-3 0-1 1 2 0 3 0-28 0 30 1-10 0 11 0-5 2 1 0-1 1-25 0 14 0 14 0-4 1-3 0 2 0 4 1-2 1 0 0 4 3-1 0-7 0 3 0 5 1-33 1 29 1-9 0-12 0 13 1-12 0 24 1-9 0-22 2 16 0 13 1-19 0-11 1 25 0 1 0-21 0 18 1-18 1 9 1 11 0-1 1 4 2-5 0-11 0-18 1 17 0 19 2-10 0 9 1-3 0-16 0-15 2 22 0 3 1-27 1 24 0 15 1-5 0-21 1 17 1-23 0 25 1 4 0-26 2 18 0-4 0 10 0-30 1 18 0 0 1 12 0 2 1-7 0 10 1-4 0-10 2 8 0-26 0 27 1 5 1 0 0-15 1-4 0 11 0 0 0 4 0-23 1 26 0-8 0 6 1-7 0-12 1 9 0 14 2-11 0 7 3-3 1-9 1 8 0-7 1 13 1-21 1 16 0-12 1 14 0-3 1-23 2 27 0-11 0-15 1 25 0-12 2 4 0 5 1 6 0-13 0-2 2 16 0-10 1 9 0-10 0-1 0 5 0 7 1-27 0 26 0 0 1 2 1-45 1 33 0 10 0-6 0 7 1-1 0 0 1-1 1 2 0-2 0 2 1-17 1 11 0-18 2 20 1-2 0-22 1 25 1-15 0 17 1-23 1 25 0-46 2 32 1 10 1-30 0 26 0-6 1 5 2 7 0-7 1-32 0-2 1 18 0 21 1-11 0-7 1 11 0 9 2-8 0-27 1 20 0 17 0-9 0 5 1-42 0 34 1-3 0 6 0-19 0 18 1-3 0 6 0-5 2-2 0 4 1-18 1 23 0 3 0-10 0 5 1 5 1-19 0 21 0-10 1 0 0-6 0-24 1 37 0-12 0 10 1-6 0-4 1-30 0 36 1-8 0 7 0-3 1 5 0 6 1-16 0-12 0 13 1 14 0 2 1-25 0 18 0 1 1 5 2-38 1 22 0 8 1-3 0 11 0-16 1-11 1 25 1-41 0 19 1 15 0 9 0-20 1 17 0-11 1-6 0 21 1-6 0-26 0 26 0-15 1 14 0 7 1-5 0 0 2-11 0 12 1-9 1-7 0 13 1-5 0-6 1-7 0-7 0 24 2 4 0-16 0 18 0-3 0-4 1-22 0 24 0 0 1-30 0 28 0-15 0-6 1-3 0 32 0-7 1 8 0-2 0-4 0 4 1-4 0 6 0-21 1 21 1-26 1 16 1 11 0-11 1-18 0 23 1-19 1 5 1 20 0-7 0 4 2 3 1-1 1-3 0-1 0 0 1-6 0 11 1 0 0-8 0-22 1-12 1 38 0 2 0-2 1-14 0 13 0-12 0 15 1 0 1-29 0 17 0 13 1-13 0 13 0-18 1-1 0 10 0 7 0-10 0-22 0 33 1 0 0-24 1-6 1 24 1 8 0-16 1-2 1-3 0 18 2-3 0 2 0-7 0-28 1 38 1-20 1-22 0 42 1-38 0-2 0 40 3-45 0 43 1 1 1-6 2-9 0-24 1 15 0 20 0-13 0 7 1-16 1 12 0 5 0 2 0-23 1 14 2-19 0 25 1 2 0-99 1-5 0 0 0 113 1-52 0-21 1 66 0-4 0 0 1 8 0-64 1-15 1 79 1-45 0 38 0-74 1 65 0 17 0-14 0-23 1 29 0-4 0-23 1 26 0-35 0-53 0 60 1 29 0-37 0-35 0-14 1 63 0 5 0-71 0 79 1-2 0-3 1-73 0 80 0 18 0-47 0 28 0-55 1-26 0 101 1-1 0-60 0 8 0-47 1 10 0-23 0 96 1 12 1-23 0 15 0-77 0 23 1 56 0-21 0 7 0-10 0 33 1-25 0 9 0-18 0 7 1-68 1 69 0 19 1 3 0 6 0-14 0-93 0 96 0-15 1 20 1-95 0 64 0 36 1-27 1 25 0-4 1 3 0 1 0-28 0-3 1 28 0-22 0-4 0 24 0-7 1-13 0 24 0-12 0 15 0-23 1 9 0 15 0-20 0 11 1-10 0-7 0-85 0 80 1 21 0-89 0 83 0-30 1 0 1 41 1-96 1 55 0 41 0 4 0-9 0 6 1-7 1-10 2 9 0-16 0 23 0-41 1 21 0 24 0-23 0 22 0-1 1-26 2 10 0-21 0 20 0 2 1-4 0 21 0-1 1-23 0 25 0-48 0 33 1-22 0 1 0 10 0 16 0-20 1 21 0-11 1-13 0-29 0 57 0-96 1 35 0 64 0-20 1-36 0 56 0-3 1-19 0 24 2-64 1 51 0-24 0 33 1-86 0 72 0 4 1-7 0-9 1 24 0 2 0-37 1 15 0 3 0 19 0-97 0 40 0 50 0-22 0 18 0-22 1 15 1-25 0 39 0-101 0-4 0 38 1 46 0 13 0-73 0 81 0 6 0 2 1-6 0-101 0-2 1 105 0-102 1 100 1-97 1 77 0 14 1-7 0 10 1-24 0 15 0-24 1 40 1-103 0 65 1 23 1 16 1-9 0 5 1-98 0 102 0-101 0 102 1-8 1 4 1-30 1-75 0 84 0 7 0 11 0-92 0 96 1 0 1-20 1 22 0-42 1 5 0-18 0 47 1-14 1 10 1-86 0-11 1 45 0-34 0-1 1 98 0-18 0-65 0 81 1-14 0 1 0 10 0-6 1 11 0-109 0 96 1-64 0 24 0 20 1-77 0 2 1 74 1-74 1 100 0 4 0 5 0-31 1 9 0-3 0 14 1-36 0 31 0-18 0-18 0 49 0-8 0-12 1 19 1-81 0-18 0 87 1-86 1 41 1 50 0-4 1-28 0 42 0-4 0-44 1-59 0 97 1 6 0-4 0 1 1-27 1 35 1-29 0-76 0 53 0 49 1-52 0 36 0-78 1 89 0-19 0 17 0 11 0-20 1 19 1-69 0 1 0 44 1 15 0-27 0 28 0-39 1 32 0 5 1 10 0-16 1-80 0 89 0 8 0-1 0-19 1 8 0 10 0 2 0-99 1 14 0 72 0 6 0-2 1 3 0 4 0-96 0-6 0 92 1-28 0-46 1-24 0 1 1 100 0 6 1-99 0 101 0-25 1-25 0 49 0-49 3 27 1 6 0-83 0 92 1-89 0 91 0-47 1-59 0 107 0-98 0 5 1-11 0 20 1 28 0 28 1 23 0-59 0 26 0 40 0-16 0-29 1 43 0-19 1-15 0 33 0-90 1 14 1 74 0 4 0 0 0-4 1 9 0-24 0-10 1 26 1-7 0 5 0-18 0 0 1 21 1-4 0 0 0-3 1 9 1-37 0 41 0-35 0 33 1-6 2 2 1 5 0-2 1-1 1 2 0-4 0-25 1 6 1 20 1-4 0-21 0 26 1-13 0-4 0 13 2-6 0 8 0 3 1-11 0 15 1-18 0 14 0-20 0 19 2-3 0 4 1-23 0 23 0-7 1-2 1 8 0 3 0-7 2 7 1-17 0 11 0-3 1-13 0 17 1-5 0 8 0 0 2 3 0 1 0-11 0-6 1 8 0-17 0 22 0-14 1 2 0-11 0 14 1 10 0-5 0 0 1 3 0-14 1-13 0 23 2-8 1 8 0 0 1 2 1-22 0 15 0 11 0-4 0 4 1-7 0 3 1 5 0-4 1 4 0-16 0 6 0 12 1-1 0-12 1 7 0-2 1-22 0 16 1-5 1 6 0-1 3-6 0 19 2 0 0-7 0 7 1-3 1-6 0 7 3 2 1-6 3 1 0-8 0 6 1-15 0 12 1 7 1-12 1 16 0 0 1-5 1-33 1 15 0 20 1-15 0 7 0 6 1 4 0-20 0-12 1 31 1-17 0-14 0 11 1 13 0 1 0 3 1-16 0-3 1 9 1-1 1 1 0 15 1-4 0-16 1-1 0 6 1-7 0 19 1-6 0 6 1 1 0 0 0-22 1 10 1 7 1-13 1-31 0 40 0 2 2 6 0-3 0-1 0-1 0-13 1 11 0-39 0 42 1-65 3 68 1 3 0-26 0 19 1 4 0 2 1-5 0-19 0 11 0-37 0 22 0-29 1 29 2 27 0-1 0-12 1 14 0-25 0-22 1 46 0-34 0-35 1 70 0-44 0 44 0-9 1-26 1 2 0 11 1 15 0 3 1-1 0-54 1 47 0 4 0 9 0-32 0 30 2-3 1-7 0-37 1 36 2 4 1 9 1-18 0-6 0 20 1-43 0-21 0 39 0 11 1 8 0 8 1-42 0 44 1-28 0-4 1-7 1-40 1 69 1-32 0-30 0 52 0-34 1 37 0 18 1-4 0-34 1 27 1-5 0-21 1 6 1 28 1-46 0 3 2 40 0-42 0 30 0-23 1 15 0 14 0-3 0-9 1-25 0 18 2 29 0 0 1-9 0 9 0-5 0-17 1-1 0 24 0-5 0-2 1 8 0-49 1 28 0 16 0-10 1 4 0-10 1-50 0 67 1-41 0-3 1 24 0 9 1 9 0 5 0-24 1-7 0 3 0-8 1 30 0 1 0-71 1 56 0 20 0-12 0-8 0 18 1-31 0 0 1 33 0 0 2-12 0 13 0-42 1 32 0 5 1-18 0-22 1 39 0-40 0 24 1 14 0 1 1 2 1-8 1 2 0-20 0 21 0-27 1 1 0 34 1-11 1-8 0 18 0-10 0 4 1-2 2 8 0-3 3-15 0-17 1 35 0 1 1-20 1 18 0-61 1 22 0-32 0 46 1 17 0-1 0-49 0 37 1 15 1-31 0 36 0-5 0-20 0-17 1 47 0-44 0 3 1 38 1-14 0 7 1-3 1-2 0 0 0-9 1 11 1-2 0-13 0 23 2 4 1-13 0 8 0-8 2-40 1 4 0 49 0-13 0 6 1 5 1-60 0 60 1-8 1-12 2 23 0-22 0 18 0 3 0-49 0 24 1 23 0-36 0 35 1-34 0-14 1 49 1-44 1 46 0-24 0 7 1 2 0 7 1 5 1-14 0 16 1-4 0-6 0 2 0-2 1-3 0 0 1-24 0 37 1-6 0-37 0 43 0-20 0 10 1-6 0-1 1 7 1-26 0 29 0-1 0 7 0-39 0-28 1 16 0 42 0-19 1 10 0 11 0-13 0-19 1 29 0-6 0-42 0 59 1 1 0-5 0-1 0-4 0-45 1 53 0-4 1 2 0-35 1-36 0 72 0 3 0-13 0-53 1 42 0 5 1 15 0-40 0 33 2-23 0-3 0 3 1 7 0-49 0 74 1-47 0 46 0-49 0 42 0-31 0 23 1-29 0-16 0 57 0 7 0-26 1 18 0-62 1 59 0-47 0 46 0-50 1 42 0-16 1 35 1-8 0-1 0-21 1 27 1-48 0-5 0 55 0-6 0-6 2-2 1-1 0-8 1-9 0 32 1-47 0 45 1 2 1-24 0 14 0-53 0 14 0-2 1 29 0-6 0-41 0 2 0 11 1-46 0 98 0-64 0-36 1 103 0-17 1-3 0-31 0 42 1-24 1 11 1 16 1-27 0 7 0-48 2 17 1 26 0-2 0-38 0 69 0-72 1 73 0-15 1 14 0-12 0 7 1 3 0-4 0-58 0 47 1 19 0 2 0-36 0 32 0-22 0 15 0-8 1-1 0 19 0-23 1-21 1 37 1-4 1 0 0-34 0-34 2 29 0 50 1-23 0 20 0-20 1 18 0-97 1 77 1 13 0 0 0-80 1 91 0-42 0-4 0 38 1-4 1-13 2 7 0-16 1 20 1 7 0-43 1 45 1 8 0-11 0 2 1 0 0-21 1 27 1-20 1-47 0-39 0 68 1 14 0 5 0-6 1 9 0-27 1-32 1 32 0 24 0 10 1 6 0-5 1-48 0 31 0-26 1-54 0 104 0-8 2-23 0-54 0 64 0 4 0-3 1-49 0-31 1 99 0-38 1 2 1 34 0-78 0 72 0-67 0 69 0-36 1 47 0-48 1 42 1 6 0-1 0-75 0 64 0 10 1-21 0-36 0 8 1 20 0-2 1 28 0-69 0 20 0-26 1 21 0-33 0 79 1-4 0 16 0-79 1 35 0 45 0-7 1-5 0-5 0-29 0 35 1 10 0 1 0-9 1 8 0-27 1-21 0 48 1-6 0-36 0 18 1 23 0-60 0 28 1 31 1-3 0-93 0 91 0-21 0 15 1-14 1 10 0 14 0 0 0-3 2-29 0 23 0-16 1 27 0-4 0-6 0-33 1 41 0-8 1-12 0-26 0 41 0-20 0 5 0 7 1 15 0-39 1 16 0-18 0 28 1-55 0 68 0-65 1 32 0-15 0-9 1 58 0-8 0 7 1-51 0 36 0-15 1-26 0 33 2 25 0-8 0-20 0 1 0 18 0-10 1 14 0-10 1 4 0-2 1-7 0-5 0-2 1 1 0 25 0-64 1 20 0 40 1-13 0 11 0-34 1 12 0-15 1 1 0 19 2-82 1 44 1 48 0 6 2-14 0-20 1 40 1-1 0-3 0-68 1 66 1-33 2 27 0 3 0 6 1-37 0-18 0 38 1-22 0-22 0 60 1-60 1 59 0-60 1 12 1 33 0 12 0 6 1-52 1 4 1 38 1 9 0 2 1-72 1-19 0 42 0 40 1-4 1-78 0 90 0-2 0-31 1 18 0 6 0-39 0 46 1-30 0 33 0-32 0 15 1 17 0 2 2-24 0-58 1 77 0-62 0 62 1-6 0-19 0 23 0 6 0-27 1-27 0 55 1 0 0-8 0-40 0 16 1-72 0 91 1-16 1-30 0 47 0 9 1-17 0-39 1 55 0 4 0 0 0-60 1 47 1 1 0-7 1-5 1 13 0-10 1 22 0-13 0-17 1 15 2 9 0-6 0-40 0 27 1 17 0 7 1-2 1-8 1-47 0 29 1-38 0 37 1 1 0 8 1 1 0 2 0-14 0-6 0 38 1-4 0-62 1 54 0-20 0-44 1 34 0 41 1-17 1-30 2 18 3 23 0 2 0-5 0-7 0-22 1 31 0 4 1-4 0-12 1-8 1 14 1 2 0-24 2 8 1 23 0 2 1 1 0-45 0-23 0 30 1 36 1-11 0 12 0-1 0-9 1 10 0-47 1 46 1-49 0 44 0 6 1-11 0-4 0 15 0-1 0-15 2-9 0 23 0-23 0 13 0-52 1 54 1-48 0 3 0 40 1 17 0-6 1-8 0 9 0-6 0 11 1-2 2-3 0-35 1 25 0 7 1-32 0 38 0-18 1 13 0 2 1-31 0 5 0 25 1-82 1 84 0 3 0-12 0 8 2-19 1-27 0-7 1 16 1-17 1 57 0-12 1 6 1 5 1-34 1 17 3 20 0-4 1-18 0-31 0 19 1 13 0 2 0 18 1-45 0 10 0 10 1 20 0 3 0-44 0 48 0-1 1-10 0 11 0-1 1-26 0 10 0-17 0 32 1-7 0-12 0-15 1-42 0 8 0 67 0-35 0 14 0-12 1 36 1-17 0 15 0-11 1-44 0 54 0-31 0-41 0 41 2-24 1-9 1 21 1 18 0-7 1-11 1 7 1 3 0 34 0-64 1-23 0 88 1-39 0 7 0-30 1 37 1 23 0-34 1 22 0-56 1 69 1-15 0-2 1 9 1 5 0-46 0 50 0-8 0-5 1 2 0-3 1 6 4-15 0 21 0-33 0-18 2 44 1 1 0 4 1-38 1 6 0 23 0-37 1 50 1-8 0-21 1 25 0 3 0-7 0-6 1 3 1 10 0-56 0 37 1 16 0 5 2-21 0-20 1-32 0 60 1 12 0-12 0-6 1-12 0-34 0 53 1 12 0-5 1-1 0-38 1 38 1-12 0 12 0-29 0-26 1 14 0 21 0 15 0 4 0-9 1 14 0-25 0-32 0 3 0 36 1 19 0-62 0 33 1 27 1-31 0 31 1-23 0 23 2-59 0 8 0 15 2 35 0-4 1-39 0 38 0 1 1-51 0 33 0-25 0-5 0 25 1-19 0 49 0-83 0 66 0 11 0-1 0-12 1 12 0-7 1 9 0-3 0 9 0-56 1 38 0 3 1-9 1 2 0 10 1-26 0 33 0-6 0-12 1 4 0 2 0 8 2-16 0 15 0 8 1-16 1-5 0 12 0-6 0 16 3-20 0 11 0-11 1 20 1-4 0-14 1 19 0-31 1 17 0-24 1 4 0 20 1 4 0-19 1 22 1-13 0-26 0-1 1 45 1-7 0-35 1 36 0 4 1 3 0-28 1 26 1 1 0-16 1 17 1-12 1 10 0-25 0 14 1 2 1 4 0-11 1 7 1 0 0 7 2 3 1-11 0-12 1 13 1 12 0-27 0 20 1 7 0-10 0 4 0-1 0-5 3-13 0 3 1 10 2-2 0 4 1-9 0-21 2 12 0-11 1 12 0 24 0-17 1 20 0-3 0-30 0 2 0 24 1 2 1-7 0-27 0 38 1-26 1 15 0-14 0 11 1 4 0 4 1-11 0-1 0 19 1-1 0-16 1 15 1-10 1-19 0 29 0-3 1-28 1 33 0-1 0-24 1 14 0 0 0 4 2 5 1 0 0-16 1 16 1-2 1 0 0 4 1-11 0 8 0-16 0 5 1 6 0-32 0 30 0-3 1 10 0-8 1-13 0 16 2-3 0 1 2 7 0-19 1-17 1 34 0-4 1-1 1-9 0 15 0 0 0 3 2-23 1 8 0-3 0 14 0-4 1-23 0 28 1-6 1-8 1 17 0-34 0-3 0 31 0-12 1 19 0-14 0 3 1-28 0 10 0 9 1 8 1-4 0 15 0-11 1 8 1 3 0-41 3 6 0 16 1 14 0-1 0-8 0-7 0 11 1 10 1-40 0 38 0-11 0-5 0 16 1-22 0-16 0 35 0 6 1-1 0-33 1 33 0-33 0 20 1-4 0 18 0-24 0 22 1-2 0-13 0 13 0-18 1 15 0 3 0 0 0-3 0 2 1 3 0-1 1 0 0-36 2 28 0 0 0 2 0-13 0 18 1 2 2-15 0 13 0-31 0 31 2-2 2-7 1 9 1 1 0-10 1 2 2-34 1 30 0-8 1 0 1 17 0 2 0-5 1-3 0-15 0 19 0 6 1-11 1-4 1 15 0-7 1 6 0-3 2 0 1-5 1 8 1 3 1-27 2-10 1 32 1-15 0 12 1-16 0 4 1 20 0-39 1 9 2 25 0 5 1-10 0 8 0-26 0-11 2 26 0 6 1-6 3 13 0-35 1 35 0-5 0 4 3-20 0 14 0-13 0-9 1 14 1 10 2-12 0 10 0 6 1 1 1-4 0-2 0-30 1 30 0-13 1 14 0 3 0-9 0-9 1 15 1 1 0 0 0-18 1 12 0-4 0 3 0 6 1-25 0 9 2 8 1 9 1-6 0-6 0 10 1-15 0 17 1-2 0-3 0 1 1 6 0 1 0-30 1 0 0 23 0 6 3-3 1 3 0-25 2 20 0 4 1-6 1-26 1 10 0-2 4 26 1-7 0 4 0-2 0 3 1-4 1-4 0 4 1-12 0 4 0 10 1 2 0-13 0 4 0 2 0-6 1-1 1 16 1-35 0 19 1-2 0 15 0 3 0-6 1 2 0-15 1 13 0 7 1-3 0-10 0 1 0 4 1-29 0 25 0 2 0 7 0-5 1-5 1 12 0-3 0-1 0-25 0 18 1 4 1 3 0 1 1 0 0 0 1-9 0 2 0-3 2-24 0 37 1 0 0-2 0-2 0-1 2-2 0 6 0 1 1-8 1 7 1 2 0-3 1-15 0 10 0 0 0-24 1 24 1-3 0 5 2 2 0 4 0-2 2 1 0-38 1 27 0 6 1-15 0-14 0 18 1 14 2-3 0-24 1 1 0-2 1 26 0-1 1-4 0 9 1-9 1-16 0 12 0 13 0-6 1-12 1-10 0 18 0-32 1 38 0-11 1-4 0-19 1 36 0-24 0 26 0-35 1 33 1-38 0 39 2-9 0-17 0 20 1 7 0 0 0-9 0-18 1 23 1-1 0 4 2-2 0-37 1 38 1-4 1-5 1-4 0 14 0-1 0-9 2 2 0 5 1-23 1 1 0 3 1 3 0 5 0 16 0-29 1 29 0-5 1-4 0-35 1-4 0 39 0-39 1 38 0-5 1 7 0-33 3 34 0 0 1-15 0-5 1-12 0 36 0-7 1 1 1 0 1 5 0-2 2-37 0 23 1-6 1 24 0-1 0 0 3 2 0-19 1 15 0 0 0-12 0-2 0 16 1-22 0 8 0 10 0-10 1 12 1-12 1 13 0-7 1 6 0 5 0-27 1 25 0-11 1 4 2-35 1 41 0-13 0 13 0-35 0 34 1-5 1-5 0-6 0 14 1 1 0-34 1-2 0 36 0-4 1-22 0 18 1 4 0-2 0 10 1-5 1-15 0 11 0 8 0-2 1-22 0 7 0 13 1 6 0-15 2 11 0-37 1 2 1 31 0 6 0-23 1 20 0-1 0-3 2-4 1 4 0-8 0-15 0 24 0-23 1-9 0 0 0 35 0 3 0 1 1-13 1 11 0-10 1 9 0-12 0 14 0-23 2 11 0 11 1-37 1 39 0-16 1 1 1 12 1-1 0-16 1 18 1 0 0-4 0 5 1-13 0 11 0-19 1 21 0-17 1 19 0-8 2-32 1 25 0 3 2 8 0-10 1 4 0 5 0-2 0 5 1-1 1 2 0-9 2 9 2-6 0 1 0 0 1-32 1 21 0 11 1 3 0 0 1 2 0-16 0 10 2-3 0 7 0 1 0-8 1-3 1 11 2 0" fill="none" stroke="none" marker-start="url(#mb)" marker-mid="url(#mb)" marker-end="url(#mb)"/></g><g fill="#4e8ccb" stroke="#000" stroke-width="1.75"><circle cx="208.8" cy="214.9" r="6.15"/><circle cx="408.4" cy="215.4" r="6.15"/><circle cx="449.0" cy="213.0" r="6.15"/><circle cx="535.6" cy="211.9" r="6.15"/><circle cx="592.7" cy="211.0" r="6.15"/><circle cx="754.0" cy="214.2" r="6.15"/><circle cx="911.0" cy="215.8" r="6.15"/><circle cx="1123.0" cy="219.6" r="6.15"/><circle cx="1171.0" cy="218.0" r="6.15"/><circle cx="1206.7" cy="206.0" r="6.15"/><circle cx="1242.7" cy="209.5" r="6.15"/><circle cx="1252.0" cy="214.9" r="6.15"/><circle cx="1626.2" cy="207.4" r="6.15"/><circle cx="1633.4" cy="195.5" r="6.15"/><circle cx="1639.3" cy="196.7" r="6.15"/><circle cx="1639.3" cy="208.6" r="6.15"/><circle cx="1631.0" cy="218.2" r="6.15"/><circle cx="1678.6" cy="192.0" r="6.15"/><circle cx="1673.9" cy="199.1" r="6.15"/><circle cx="1788.2" cy="188.4" r="6.15"/><circle cx="1801.3" cy="188.4" r="6.15"/><circle cx="1800.0" cy="203.9" r="6.15"/><circle cx="1828.7" cy="196.7" r="6.15"/><circle cx="1860.9" cy="181.2" r="6.15"/><circle cx="1872.8" cy="199.1" r="6.15"/><circle cx="1876.3" cy="209.8" r="6.15"/><circle cx="1878.7" cy="219.4" r="6.15"/><circle cx="1866.8" cy="205.0" r="6.15"/><circle cx="1907.3" cy="195.5" r="6.15"/><circle cx="1912.0" cy="195.5" r="6.15"/><circle cx="1922.8" cy="195.5" r="6.15"/><circle cx="1933.5" cy="195.5" r="6.15"/><circle cx="1943.0" cy="195.5" r="6.15"/><circle cx="1953.8" cy="195.5" r="6.15"/><circle cx="1964.5" cy="186.0" r="6.15"/><circle cx="1964.5" cy="196.7" r="6.15"/><circle cx="1978.8" cy="197.9" r="6.15"/><circle cx="1991.9" cy="199.1" r="6.15"/><circle cx="1996.6" cy="206.2" r="6.15"/><circle cx="1983.5" cy="201.5" r="6.15"/><circle cx="1918.0" cy="219.4" r="6.15"/><circle cx="1945.4" cy="220.5" r="6.15"/><circle cx="1982.3" cy="220.5" r="6.15"/><circle cx="1829.2" cy="163.8" r="6.15"/></g><g fill="#62c6df" stroke="#000" stroke-width="1.75"><circle cx="1740.6" cy="182.4" r="6.15"/><circle cx="1749.0" cy="184.8" r="6.15"/><circle cx="1760.8" cy="183.6" r="6.15"/><circle cx="1775.0" cy="180.0" r="6.15"/><circle cx="1784.6" cy="182.0" r="6.15"/><circle cx="1735.8" cy="202.7" r="6.15"/><circle cx="1778.7" cy="201.5" r="6.15"/><circle cx="1778.7" cy="209.8" r="6.15"/><circle cx="1806.0" cy="167.0" r="6.15"/><circle cx="1745.0" cy="195.0" r="6.15"/><circle cx="1770.0" cy="192.0" r="6.15"/><circle cx="1790.0" cy="198.0" r="6.15"/><circle cx="1755.0" cy="215.0" r="6.15"/><circle cx="1765.0" cy="222.0" r="6.15"/></g><g fill="#66c866" stroke="#000" stroke-width="1.75"><circle cx="1765.6" cy="201.5" r="6.15"/><circle cx="1752.5" cy="208.6" r="6.15"/><circle cx="1759.6" cy="205.0" r="6.15"/><circle cx="1819.2" cy="193.2" r="6.15"/><circle cx="1839.4" cy="186.0" r="6.15"/><circle cx="1849.0" cy="189.6" r="6.15"/><circle cx="1852.5" cy="196.7" r="6.15"/><circle cx="1838.2" cy="200.3" r="6.15"/><circle cx="1829.9" cy="157.4" r="6.15"/><circle cx="1812.0" cy="200.0" r="6.15"/><circle cx="1845.0" cy="212.0" r="6.15"/><circle cx="1860.0" cy="222.0" r="6.15"/></g><g fill="#a03cd6" stroke="#000" stroke-width="1.75"><rect x="1825.6" y="143.1" width="11.0" height="11.0"/></g>
</g>
<path d="M149.8 141.5H2035.0" stroke="#bebebe" stroke-width="4.4" stroke-dasharray="21.6 21.82" fill="none"/>
<path d="M149.3 82.6V251.3H2035.0" stroke="#000" stroke-width="2.3" fill="none"/>
<path d="M142 243.2H149.3" stroke="#333333" stroke-width="2.3"/>
<text x="61.80" y="256.80" font-family="'Liberation Sans',Arial,sans-serif" font-size="38.00" font-weight="bold" textLength="73.96" lengthAdjust="spacingAndGlyphs" fill="#4d4d4d">0.00</text>
<path d="M142 201.3H149.3" stroke="#333333" stroke-width="2.3"/>
<text x="61.80" y="214.90" font-family="'Liberation Sans',Arial,sans-serif" font-size="38.00" font-weight="bold" textLength="73.96" lengthAdjust="spacingAndGlyphs" fill="#4d4d4d">3.00</text>
<path d="M142 159.5H149.3" stroke="#333333" stroke-width="2.3"/>
<text x="61.80" y="173.10" font-family="'Liberation Sans',Arial,sans-serif" font-size="38.00" font-weight="bold" textLength="73.96" lengthAdjust="spacingAndGlyphs" fill="#4d4d4d">6.00</text>
<path d="M142 117.7H149.3" stroke="#333333" stroke-width="2.3"/>
<text x="61.80" y="131.30" font-family="'Liberation Sans',Arial,sans-serif" font-size="38.00" font-weight="bold" textLength="73.96" lengthAdjust="spacingAndGlyphs" fill="#4d4d4d">9.00</text>
<path d="M602.3 251.3v6.3" stroke="#333333" stroke-width="2.3"/>
<path d="M1092.0 251.3v6.3" stroke="#333333" stroke-width="2.3"/>
<path d="M1581.6 251.3v6.3" stroke="#333333" stroke-width="2.3"/>
<text x="168.88" y="120.30" font-family="Carlito,'Liberation Sans',sans-serif" font-size="45.03" font-weight="bold" textLength="207.00" lengthAdjust="spacingAndGlyphs" stroke="#000" stroke-width="0.6" style="font-kerning:normal">EUR GWAS</text>
<g transform="translate(37.2 -0.35) rotate(-90)"><text x="-252.44" y="3.88" font-family="'Liberation Sans',Arial,sans-serif" font-size="37.50" textLength="21.76" lengthAdjust="spacingAndGlyphs">−</text><text x="-225.82" y="0.00" font-family="'Liberation Sans',Arial,sans-serif" font-size="39.00" font-weight="bold" textLength="56.34" lengthAdjust="spacingAndGlyphs">log</text><text x="-167.80" y="6.20" font-family="'Liberation Sans',Arial,sans-serif" font-size="25.30" textLength="27.78" lengthAdjust="spacingAndGlyphs">10</text><text x="-139.67" y="0.00" font-family="'Liberation Sans',Arial,sans-serif" font-size="46.00" textLength="14.32" lengthAdjust="spacingAndGlyphs" font-weight="normal">(</text><text x="-122.89" y="0.00" font-family="'Liberation Sans',Arial,sans-serif" font-size="39.00" font-weight="bold" textLength="24.87" lengthAdjust="spacingAndGlyphs">P</text><text x="-95.34" y="0.00" font-family="'Liberation Sans',Arial,sans-serif" font-size="46.00" textLength="13.56" lengthAdjust="spacingAndGlyphs">)</text></g>
<clipPath id="c1"><rect x="149.3" y="286.3" width="1885.7" height="175.2"/></clipPath>
<g clip-path="url(#c1)">

</g>
<path d="M149.3 286.3V461.5H2035.0" stroke="#000" stroke-width="2.3" fill="none"/>
<path d="M142 453.4H149.3" stroke="#333333" stroke-width="2.3"/>
<text x="61.80" y="467.00" font-family="'Liberation Sans',Arial,sans-serif" font-size="38.00" font-weight="bold" textLength="73.96" lengthAdjust="spacingAndGlyphs" fill="#4d4d4d">0.00</text>
<path d="M142 415.4H149.3" stroke="#333333" stroke-width="2.3"/>
<text x="61.30" y="429.00" font-family="'Liberation Sans',Arial,sans-serif" font-size="38.00" font-weight="bold" textLength="73.96" lengthAdjust="spacingAndGlyphs" fill="#4d4d4d">0.25</text>
<path d="M142 377.5H149.3" stroke="#333333" stroke-width="2.3"/>
<text x="61.80" y="391.10" font-family="'Liberation Sans',Arial,sans-serif" font-size="38.00" font-weight="bold" textLength="73.96" lengthAdjust="spacingAndGlyphs" fill="#4d4d4d">0.50</text>
<path d="M142 339.8H149.3" stroke="#333333" stroke-width="2.3"/>
<text x="61.30" y="353.40" font-family="'Liberation Sans',Arial,sans-serif" font-size="38.00" font-weight="bold" textLength="73.96" lengthAdjust="spacingAndGlyphs" fill="#4d4d4d">0.75</text>
<path d="M142 302.0H149.3" stroke="#333333" stroke-width="2.3"/>
<text x="61.80" y="315.60" font-family="'Liberation Sans',Arial,sans-serif" font-size="38.00" font-weight="bold" textLength="73.96" lengthAdjust="spacingAndGlyphs" fill="#4d4d4d">1.00</text>
<text x="169.58" y="334.20" font-family="Carlito,'Liberation Sans',sans-serif" font-size="45.03" font-weight="bold" textLength="188.78" lengthAdjust="spacingAndGlyphs" stroke="#000" stroke-width="0.6" style="font-kerning:normal">EUR SuSiE</text>
<g transform="translate(38.7 0) rotate(-90)"><text x="-405.03" y="0.00" font-family="'Liberation Sans',Arial,sans-serif" font-size="39.30" font-weight="bold" textLength="61.03" lengthAdjust="spacingAndGlyphs">PIP</text></g>
<clipPath id="c2"><rect x="149.3" y="489.7" width="1885.7" height="168.5"/></clipPath>
<g clip-path="url(#c2)">
<g transform="translate(0 650.2) scale(.5)"><path d="M284-25l1-1 1 25 0-5 0-34 0 8 1 20 0 9 0-3 1 1 0 5 0-8 1 3 0 4 2-9 0-7 0 4 0 0 1 8 0-1 1-1 0 6 1-6 0-23 0 27 0-22 1-3 0 28 1-4 0 3 0-2 0-4 0 6 1-10 0-35 1 26 0 18 0-9 0 2 0-5 1 2 0 8 0-47 1 46 1-13 2 7 1-21 2 24 0-7 0 9 1 5 0-11 0-17 1 18 0 10 0-16 1 1 1 16 0-12 0 10 1-12 0-18 0 26 0 5 1-18 0 6 1 0 1 5 0-2 0 7 1-2 0-9 1 14 0-6 0-7 1-15 0 16 1-9 0 15 0 4 0-27 0 12 1 12 0-4 0 0 1-1 0 5 0 1 0-7 1 8 3-6 1-28 0 25 0 5 0-1 0-12 1 17 1-5 1-3 0 4 0 1 0-4 1 4 1 6 0 0 0-4 1 0 0-3 0 6 0-1 1-2 0 3 0-5 1 2 0 3 0-17 0 9 0 8 1-18 0 6 0 4 1-18 1 26 1 1 0-1 1 0 0-2 1-13 0 11 0-5 0-2 0-8 1 16 0-6 1-1 0 6 0 5 1-2 0-13 0 15 0-3 2-15 0 12 0 2 0-2 1 0 1 5 0-12 0-5 2 18 0-9 1 9 1-9 2 6 0-2 0-9 1 7 0 7 1-3 1-1 0 3 0-8 0 8 1-6 0 1 0 6 0-3 1 0 1 0 0-4 1 3 0 1 0-16 1 14 0 3 0 0 1-25 1 27 0-20 1 18 0-6 0 0 1 2 0 4 0-2 1 3 0-3 0 0 1-13 1 17 0-13 1 12 0-5 1 1 0-3 1 6 2 0 0-7 0 6 0-14 0 13 1-1 3 5 0-5 0-1 3 5 0-26 2 22 0 0 0-4 0 6 0 0 0-9 1 10 1-1 0-3 0-22 0 19 0-13 1 20 1 1 1-19 0 16 0-14 1 9 0 9 0-1 1 0 0 0 1 0 0-16 0 15 0-8 1-11 0 16 0 0 0-1 2-16 0 17 0-1 1-6 0 2 0-1 1-4 2 11 0 3 0-6 0 3 1-5 0-1 0 10 0-3 1-9 0 11 1-4 0 3 0-16 0 13 1 4 0-1 0-26 0 27 0-6 0-23 0 23 1 7 0-3 0 2 0-21 2 15 0-8 0 6 2 1 0-27 0 26 1-3 0 7 1-6 0 9 0-17 1 8 1 10 1-6 1-23 0 29 1-28 0 20 0 6 1 2 0-12 0 10 0-10 1-4 0 12 1-3 1-22 0 29 1-8 0-4 0-10 0 19 0-5 1-5 0 12 0-1 2-1 0-21 1 24 0-20 1 21 0-9 0-9 0 17 1-19 0 18 0-14 1 13 0-3 1-6 1 10 0-1 0 1 0-1 1-5 0-7 0 15 0-10 1 6 0-2 0 6 1-19 0-22 0 39 1-3 0-1 0-2 1 7 0-4 1 3 0 1 0-3 1-16 0 8 0-34 0 33 1 9 0 1 0-10 1-4 1 7 0 3 0 2 1 2 3-11 0 8 0 2 0-11 1 14 1-2 0 1 0 1 1-6 0-9 0 4 1-3 0 15 1-1 0-4 0-9 1-3 0 10 0 3 0 2 1-8 0-12 0 16 0 1 1 0 0 5 1-8 0 7 1-8 0 7 0-15 1-10 0 20 0 6 1-12 0 4 0 7 0-10 1-33 0-2 0 37 1-29 1 17 0 16 0 6 0-43 1 28 0 5 0-16 1 19 0 6 0-9 0 9 1-8 0 3 0-5 1 10 0-13 1 5 0-23 0 30 0-3 0 4 3-1 0-10 1 7 0-13 1 7 0 11 1-2 0-15 0 1 3 14 0 2 0-2 1-5 1-11 1 16 1-19 0 14 2 2 0-22 0 26 1-1 0-15 0 16 1-21 0 21 0-33 1 15 0 16 1-13 0 11 0-1 0-9 1 6 0 3 1-24 0 29 1-24 0 14 0 3 0 4 0-11 0 3 1 2 0-15 0 19 0 1 0 2 1-10 2 12 0-6 0-8 1-3 1 10 0-20 1 26 0 1 0-11 0 1 0 5 2-37 2 33 0 8 0 2 1-12 1-2 1 9 0-19 1 20 2-31 0 30 0-8 1-31 0 6 0 24 0-3 1 6 0-2 0-11 0-4 1 1 0 22 0 0 1-23 0 19 1 6 0 2 0 0 1-18 2 13 0-5 0-3 0 10 0 1 0-2 0-1 1 1 0-22 1 17 0 1 0 9 1-4 0-40 1 40 0-13 0 16 0-3 2-14 0 14 1-11 0 9 0 4 1-10 0 8 0-12 0-8 1 24 1-1 0-2 1 1 0-19 1-4 0 21 0-6 1-2 1 6 0-24 1 23 0 5 0-12 0 10 0-3 1-14 0 11 1 4 0-9 1 5 1-2 0-2 0 9 0 3 0-3 2-19 0 15 1-10 1 15 2 3 1-12 0 13 0-3 0-1 0-2 0-2 1-4 0 9 1 0 0 1 0-8 1 6 0-7 0-15 0 3 1-15 0 36 0-6 1-16 0 9 0-10 0-16 1 35 1-8 0-1 1 6 0 4 0-16 1 21 0-10 1 1 1 3 1 3 0-9 2 7 0 2 0-5 0 4 0-2 0-14 1-8 0 6 0 21 0 0 2-4 1 3 0 0 0 2 1-7 0 7 0-14 0-19 1 24 0 2 1 6 0-4 0 2 2 1 0-4 0-5 1 10 1-35 0 36 0 0 1-10 1 6 0-13 1 9 0-25 1 33 0-8 1 0 0-23 0 22 1-4 0 0 0 2 1 3 0 7 0-8 1-12 0 9 0 5 1 2 0-2 1 5 1-32 0 30 1-1 1-20 0 23 0-4 0-8 0 10 1-24 0 25 2-9 0-7 0 19 1-18 0 16 1 1 0-8 0 2 1-1 0-24 0 31 1-1 0-8 0 5 0-3 1 1 0 1 1 3 1-14 1 12 0-5 1 8 0-10 1 5 0 5 0-4 1 3 1-1 1-2 0 5 0-13 1 11 1-5 0 6 0 1 1 0 1-5 0-3 0 1 1 5 1 3 1-20 0 17 0-20 0 22 2-36 0 31 1-6 0 4 0 8 0-28 1 10 0 15 0 3 1-20 0 18 1-5 0 5 1-11 0 10 1-10 0 6 2-10 0 3 1-8 0 18 0 2 2-11 0 3 0 3 0-31 2 36 1 0 0-4 1-8 0 13 0-6 1-33 0 32 1-11 0 15 0-25 1 21 0-8 0-10 0 9 0 8 1-18 1 25 0-4 1-9 0 8 1 1 0-15 1 0 0 12 0 2 1-12 1 5 1 13 0-1 0 0 2-6 1-10 0 2 0 14 0 0 2-6 0 6 1-9 0 2 0 8 0-17 1 13 0-4 1 4 0-3 0 6 0 0 1-36 0 37 0-1 0-8 0 7 1-8 0 1 0-4 1 11 0 2 0 1 1-3 0 2 1 1 0 0 0-3 2-5 0 2 0-21 0 26 2-12 0-25 1 29 0 0 0 0 1-1 0 7 0-8 0 7 2-37 0 36 1 3 0-10 0 5 3-5 0 8 1 3 0-6 1 3 0-3 1-25 0 23 0 5 1-16 0 20 1-9 1 7 0-1 0-1 1 1 0-1 0-11 0 6 0-11 0 12 1 4 1 4 1-11 0 1 0 6 1 3 0-4 2 1 1-2 1-8 0-1 1 2 0-4 0 13 2 0 1 1 0 1 1 1 0-18 0 16 1-2 0 4 0-11 1 0 0 1 1 9 0-6 0 5 1-35 0 33 1-1 1-3 1 7 1 0 0 2 1-15 0 9 0 4 1-20 1 19 1 3 0-7 0-2 0 8 0-12 1 13 0-12 1-9 0 20 0-2 0 0 1-2 1 3 0 2 0-9 0 5 1-1 1-7 0-6 1 17 1-21 0 20 0-5 0 1 1-6 0 3 0-30 1 28 0 8 0-14 1 12 0 3 1-1 0 0 1-27 1 29 0-18 0 13 2 5 0 1 1-3 0-2 1 2 0 2 1 0 0-10 1 3 0 2 0-3 2 4 0 3 1 0 0-17 1 14 1 1 0-11 0 13 0-1 1-11 0 5 0 8 0-7 0-1 1 5 1-7 1 2 0 8 1-5 0-20 0 24 0-1 1-4 0 3 1 4 2-3 0-2 1 4 0-11 1 1 0-15 1 21 0-24 1 3 1 15 0 7 0 4 1 0 1-9 0 8 0-2 1-6 0 9 0-8 0-11 0-15 0 25 0-23 1 32 0-17 2 9 0-9 0 14 0-19 0 21 0-31 1 22 1 10 0 0 0-6 0-13 0-13 1 10 0-3 0 22 1 1 0-15 0 15 0 1 0-2 1 0 1-5 0-3 0 9 1-3 0 0 0 3 1-13 0-5 0 20 1-3 1-4 0-3 0-1 0 9 0 1 0-1 1-35 0 36 0-33 1 23 0 7 1 3 1-31 0 31 0-6 2-25 0 28 0-22 0 16 2 5 0 0 0-8 1 5 0-1 0-21 0 21 1 7 0 1 0-6 2 6 0-12 1-5 0 4 0 3 1 9 0-1 0 3 0-17 0 9 1 7 0-5 1-17 0 22 0-19 0 15 2-10 0 9 0-10 0 9 1 1 0-4 1-6 0 9 0 7 0-13 1-6 0 8 0 9 0-10 1 3 0 8 0 0 2-1 0-14 0 15 0 0 1-5 0-4 1-3 1 11 0-2 0-1 1-2 0-5 0 5 0-5 1 8 1-1 1-3 1-14 0 22 1-31 0 26 0 2 0 3 2-5 0 4 0-10 0 8 1 0 0-6 0 1 1 7 0-2 1-13 0 8 1 3 0 3 0-1 1 0 0-12 1 13 0-17 1 18 1-1 0-4 1-5 0 6 0 1 0 4 0-5 0 5 0-1 1-15 0 2 1 12 0-2 0 0 1-11 1 9 0 3 1-10 1 0 0 11 0 1 1-1 1-6 0-3 1 8 1-1 0-3 1-7 0 0 0 2 1 10 0-3 1-9 0 6 1 3 0-10 0 8 0 5 1-7 2 4 0-13 0 3 0-3 0 15 0-3 1-6 1-6 0 15 0-6 0 4 0-3 0 7 1-7 0-2 0 10 2-5 0-2 0 4 1-1 0-15 2 12 0-3 0-11 0 11 0-29 1 32 0-1 0 5 1-37 1 3 0 23 0 10 0 0 1-20 0 14 0 9 0-7 1 3 1-5 0-2 0 1 0 2 0 5 0 1 0-3 0-1 1-6 0 8 1 1 0-3 0-4 0 7 1-16 0 19 0-6 0-7 0 11 1-12 0-12 0 15 0 9 1-2 0-3 0-19 0 23 1 4 1-6 1-2 0 1 0 6 0 0 1-19 0 18 0 0 0-12 1 10 0 0 0-9 0-3 0-10 1 21 0-17 1 12 0-2 0-15 0 20 2 6 0-11 1-4 0 16 0-3 0-14 1 5 0 4 1 5 0 0 1 3 0-5 1 2 1-1 0-3 0 1 0 2 1-1 0 1 0-18 1 22 0-28 0 13 0 11 1-7 1-10 1-21 0 15 0 23 0 4 0-8 1 5 0 2 1 1 2-17 1-20 0 9 0 24 2-9 0 10 0-5 0 4 1-4 0 2 0 0 2-11 0-19 1-1 1 34 0-27 1 28 0 2 2-10 0 0 0-23 0 18 1-22 0 28 1-1 0 7 0-21 0 16 0 1 1-17 0 0 0-7 1 30 0-8 2 6 0-25 0 10 0 18 1 0 0-8 0 0 0-11 1 5 1 6 1-12 0 11 0-22 0-23 1 47 1 1 0 2 0-1 1-8 0 0 1-8 0 11 2-56 1 30 0 26 0 3 1-14 0-11 1 19 0 4 0-18 0 17 1 8 0 0 0-8 0 10 2-57 0 43 1-9 0 10 0-6 0 12 1-3 1-12 0 20 0 1 1-51 0 50 0-4 0-5 0 9 0-31 1 20 0-8 0 4 0-12 1 27 0-20 0 10 1 12 0-3 2 0 1-1 0-27 0-1 2 28 0-57 0 57 2-1 1-15 0 18 1-17 2 8 0 6 2-40 1-32 0 70 0-2 0-20 0 19 1 10 0-26 1 24 0 0 1-2 0-2 1 2 0-1 0-40 1 7 0 32 0-19 1 25 0-28 1-1 0-24 0 30 1 19 0-10 0-10 0 15 1 7 0 1 0-7 0-2 1 4 1 4 0-51 0 34 0-25 1 35 1 4 0-9 0-21 2 17 0 17 0-25 1-38 0 33 0 28 0-6 0-17 0 1 1-14 0-38 0 71 1-1 0-37 0 11 5 27 1-27 1 31 0-5 1-2 1-4 0-22 0 27 1 7 0-74 2-8 0 66 1 11 0-28 0 8 0 14 1 2 0 0 2 7 1-48 0 33 1-63 1 60 0-1 0 12 1-27 1-24 0 10 1 39 0-12 1-12 0 32 3-35 0 25 1 10 0-15 0 0 1-2 0 1 0-4 1 9 0-26 0-41 1 60 0 16 0-50 3-23 1 55 0 15 1-61 0 69 0-5 0 1 1-12 0 0 1 15 0-6 1-10 0 15 1-9 0-7 1 6 0 3 1-12 0 7 1-15 1 28 0-1 0-8 1 10 2-3 0-51 2 26 0-17 0 22 0 23 0-7 0-11 0 6 1-23 0-25 2 57 1-8 1 9 0-20 0 3 1 18 2-31 1 2 1 22 1-15 0 12 1 1 0 3 0 8 0-31 0 15 2-20 1 17 0-9 0 27 0-2 0-25 2 19 0 6 0-2 0-1 2-9 0 10 0-3 1-1 0 8 1-9 1 7 1-13 0 7 0-1 0 7 1-20 0 16 0 3 1 1 1-8 0-23 1 28 0-9 1 14 0-9 0 6 0 1 0 1 1-8 0-11 0 4 1 17 0-3 0 1 1-6 1-12 1 18 0-14 2 16 0-18 0-9 1 18 0-3 0 8 0-6 0-3 1 5 0-9 0 8 2-10 0-20 1 38 0-9 0 1 1 5 0 2 0-11 1 9 0-7 0 1 0 9 1-2 0 2 0-34 2 26 1-23 0 29 0-1 1-3 0-9 1-24 0 37 0-3 0-4 1 0 0 2 3 3 0 4 1-2 1-2 0 1 0 2 0-32 1 9 0 25 2-1 0-7 0 6 0-3 1-2 0-4 0-1 1 10 0-13 0 14 2-25 0 22 1 3 0-2 1 1 1-29 0 23 0 3 0-2 0-21 0 25 1-2 0 0 2-6 0 1 1-5 1-3 0-18 0 32 1 2 0-2 1-2 1 4 0-2 0-15 0 18 0-11 0 4 1-19 0 26 0-8 0 8 1-4 0 2 0-3 0-17 0 20 1 0 0 2 0-21 2 18 0 0 1-7 1 8 1-1 0-27 1 24 0 2 0 0 0 3 0-1 1-12 1 13 0-1 1-8 0-1 0 11 0-1 1 1 0-2 0 3 1-11 0 5 0 1 1-6 0-24 0 31 0 3 0-5 1-1 0-6 0 11 1-17 0 9 0 9 0-8 1 5 0-9 0 13 0-2 1-5 0-8 0 9 1-1 0 2 1 1 0 2 0-13 0 1 0-7 1 20 0-9 1-24 0 25 2 6 1 0 0 1 0-21 0 22 1-2 0 1 0-14 0 6 0-7 2 16 0-15 1 4 1 7 0 0 0-7 1 8 0 3 0-4 1 4 0 1 0 0 1-32 1 31 0-6 0 3 1 0 0 0 0 3 0-9 2-7 0 15 0-2 0 3 0-5 1 5 1-31 0 30 1-2 0 3 0-5 0 6 1-8 0 6 0-17 0 6 1 1 0 10 0-20 2-12 0 28 0-5 0 7 1 3 0-6 0 1 0 4 1-4 1-1 0-20 0 24 0-7 0 7 0 0 0-6 2 8 0-2 1 2 0-6 0-4 0 6 1 3 0-5 1 1 0-2 0-8 0 15 1 0 0-11 0 10 0 2 2-1 1 1 0-6 0 1 1 0 0-27 0 15 0 14 1-20 1 18 1-1 0 5 1-13 0 3 0-1 0 7 0-17 1 21 0-2 0-3 0 6 1-31 0 27 0-6 0-1 1-6 0 7 0 6 1-7 0 9 0 0 1-2 0 0 0-8 1-2 0 12 0-21 1 14 0 1 1 2 0 5 1-5 0 0 0-15 0 9 1-18 0 22 0-10 0 18 0-30 1 21 0-5 0 12 1-10 1 7 0-13 0 18 0-3 1-2 0-2 1 4 0 2 1-5 0-14 0 0 1 14 0 5 0-2 1-17 0 11 0 8 0-1 1-5 0-25 1 31 1-24 1 23 0 0 1-4 0-10 1-29 0 43 0-32 1 18 0 14 0-2 0-4 1 5 1 3 1-14 0 5 0 8 0-2 0-44 0 11 1 22 0-10 1 20 0-12 0 4 0-2 0-37 1 50 0-11 0 7 1-52 0 50 0 6 0-104 0 21 0 80 0-40 1-59 0 76 1-61 0 85 1-6 0 9 0-8 0-17 1 13 0 9 1-3 0-9 2 13 0-90 1-11 1 98 0-12 0 13 0-16 0-2 0 12 1-6 0-79 0 94 0-61 0 36 1 24 2-2 0-55 0 58 0-56 0 6 0 7 1 43 0-95 0 9 0 74 0 6 0-12 0 14 1 0 0-3 1-83 0 84 1-25 0 27 0-5 1 6 0 3 0-5 0-10 1 14 0-2 0-2 0-46 0 41 0 8 1-30 2 14 0-2 1 20 0-1 0-4 0 6 0-1 0-73 1 69 0-1 0-18 0 19 1 4 0-2 0-96 1 94 0 0 0-4 0-69 1 63 1 9 1 0 0-1 0 6 1-22 2 17 0-9 0 3 0-3 1 14 2-25 1 23 1-92 3 77 1-38 0 52 0 2 0-12 1 8 0-14 0 19 1-16 1 5 0 12 0-1 1-7 0-9 0-39 1 53 0-76 0 68 0-3 1-6 0 17 0-66 0 59 1 10 1-13 0-3 0 8 0-7 0-30 0 31 1 14 0-6 0 4 0-6 0 7 1-30 0 23 0-34 1 24 1-70 0 84 0-8 0 9 1-3 1 4 1-97 0 74 0 25 0-6 0-6 1 6 0-11 0 7 1 8 0 1 1-2 1-62 0 30 1 28 0-6 0 3 0 9 1-1 1-3 0-16 0-33 0 52 1-7 0-36 1 40 0-73 1 67 0 8 0-19 1 20 0-11 2-56 0 19 0 9 1 36 0 2 0 2 1-6 0-72 1 71 0-9 1-11 1 26 0-6 0-5 1 6 0-40 0 43 1 1 1 1 0-2 1 3 1-1 0 0 1-7 0-40 0 46 0-29 1 23 1-13 0 10 0-10 0-1 0 3 1-36 0 40 1-33 0 30 0 19 0-9 1-18 0-15 0 24 1 12 0-74 0 76 1-23 0 23 0-18 0-38 0 46 1-16 1-17 0 4 0 26 0 17 0-55 1-41 0 95 0-40 0 33 0-17 0 23 1-12 0 10 1-11 0-11 1-1 0 27 0-2 1-17 0-27 1 7 0 0 0 32 0-2 2-15 0 19 0-3 0-11 0 15 1-13 1 7 0-6 0 10 1-9 0 1 2 4 0 1 0 9 0-9 1-1 0 6 0-7 1 5 1-6 0-7 0 12 2-32 0-1 1 11 0 13 1-31 1-21 0 31 0 22 1-4 0 15 0 1 1-16 0 17 1-4 0 2 1-11 0-4 0 15 1-66 1 59 0 8 0-6 1 9 0-44 1 0 0 32 1 10 0-3 0-9 1-9 0 1 1 19 0-2 1 2 0-47 1-1 0 44 0 0 0-2 1 7 1 1 0-8 0 2 0-21 1 2 0 14 0 8 0 0 0-56 0 26 0-34 0 41 0 14 1-15 1 5 0-17 0 38 1-36 0 8 0-56 0 60 1 15 0-48 0 53 0-60 0 66 1-11 0 2 0-66 1 58 0 14 0-3 1 1 0 3 0-40 0 23 0 10 0 7 1-22 0 15 0-3 1-2 0 4 0 1 0 4 0-65 0 25 0 31 0 13 1 0 0-18 1-9 0-49 1 74 1-3 1-46 0 38 1 9 0-36 0 24 1 16 0-4 1-9 0-31 1 30 0 5 0 1 1 1 0-51 0 48 1 2 0-17 1 4 0 20 0-11 1-8 0 15 1-10 0 4 2-1 2 5 0 3 1 2 1-55 1 52 1-11 0-40 0 54 0-12 1 12 0-89 1 78 0-42 0 47 0-27 0 21 0 13 1 0 0-10 0 2 0-42 1 50 0-71 1 56 0 3 0-26 0 34 1 3 0-6 0 3 0-61 1-9 0 75 1-81 0 36 0 40 1-53 1 37 0 22 1-34 0 13 0 12 0 8 1-17 0 13 1-63 0 62 0 5 0-25 1 23 0-60 0 33 0-5 0 16 1 15 0-18 0-52 0 71 1-55 0-2 0 56 1-7 2 5 0-28 0 33 0-16 0 15 0-46 1-4 1 27 0 22 2-7 0 2 0-5 0-3 1 14 1-50 1 41 0-11 1 0 0 19 0-7 0 2 1-38 0 42 0-85 0 72 1-22 0 37 0-17 1 19 0-42 1 15 0 15 0-10 0-2 1 14 0 1 1-10 0-9 1 18 0-11 0 0 0-7 1 18 0 5 0 3 1-4 0 3 1-11 0 5 1 7 0-11 0 7 0-19 2-14 0 26 1 5 0-18 0 26 0-27 0-42 1 54 0-14 1 29 0-11 1 1 0 1 1-45 1 41 0 8 1 5 2-25 1 2 0 8 0-19 0 9 1 16 0 9 0-24 1-47 0 23 1 43 0-12 1-19 0 35 0-6 0-21 0 27 1-14 1 4 0-15 0 16 1 8 0 1 1-11 1-24 0 16 0 17 1-25 1 25 1-73 1 67 0-33 0 32 1-75 1 69 0 0 0-13 0 23 1-30 0-15 1 13 0-42 1 43 0 27 0 10 1-19 0-67 0 82 2-7 0 10 1-95 1 88 0-3 1-37 0 25 1 0 0 17 1-22 0-14 0 33 1 2 0-8 1 14 0-3 1-4 0 5 0 0 1-4 1-63 1 55 0-6 0-38 0 49 0-27 1-40 0 57 0 3 0-12 0 21 1 2 0 4 0-29 1 21 0-6 0 13 0-20 0-4 0 17 1-51 0 60 1-82 0 21 1 37 0-67 0 42 0 45 1-13 0-39 0 9 0 8 1 39 0-7 0 8 1-10 0-25 1 14 0 6 1-4 0 14 1-31 1-4 0 3 0 29 0-6 1-21 0-44 0 46 1 9 1 9 0 10 0-58 0-4 1 66 0-16 0 7 0 8 0-11 0-1 1-13 1 22 1-42 0 6 0 21 1-23 0-30 0 59 0-1 0-18 1 1 0 23 1-6 0-19 0 32 0-17 0 14 0 1 1-40 0-47 0 72 0 17 0-15 1 11 1-68 0 69 1-1 2-65 0 53 0 9 0 6 0-83 1 58 0-3 1 23 0 3 0 1 1-9 1 12 0-26 1 23 0-33 1 25 1-1 0-24 1 25 0-57 0 65 0-39 1 21 1 19 0-1 0-32 0 0 0 2 2 33 0-71 0 47 1-44 0 59 0 0 1 9 0-7 0-40 0-15 0 42 1 15 0-26 1 26 0 0 0-14 1-33 1 51 0-25 1 20 0-3 1 10 0-27 0-26 0 30 0 18 0-63 1 67 0-22 1-11 0 18 1-20 0 36 1-5 0-31 0 2 1 32 0-51 1 41 0-17 0 11 0 4 0-56 0 44 0-39 0 31 0 30 1-51 0 40 1 9 0-69 1 36 0 30 0-67 0 53 1-4 0 10 1 11 0-80 0 83 0-44 0 20 0 21 1-75 0 48 1 21 0-74 0 85 2-63 1 57 0 0 1 5 0-38 0 20 0-8 1 14 2-43 1 54 0-17 1 20 0-22 1 13 0-30 0 18 0 5 1-67 0 79 1-25 1 28 1-41 0 21 0 16 1-12 1 9 1-9 0-3 0-6 0 15 1 9 0-13 0-18 0 24 1-9 0-6 0 1 1 5 0-28 0 19 1 25 0-31 0-6 1 34 1-15 1 7 0 12 1-30 0 29 0-3 0-1 0-33 1 26 0-20 0 11 1 14 1 2 1-5 0 2 0 5 0 3 0-6 1-14 0-3 0-2 0 21 0 1 0-9 0-8 1 0 0 2 0 11 0-27 2 10 0-14 1 30 0-7 0-3 0 11 0-6 1-17 0 18 1 5 1 7 0-11 1 9 0-10 1 6 1 0 0-1 0-36 0 36 1-34 0 27 0 3 1 11 0-10 0 5 0-24 0 19 0 9 1-5 0-6 1-24 0 36 1-25 1 23 1-21 0 19 1-3 0-21 0 1 1 23 0-20 0-25 1 36 0-21 0 17 1 16 0-8 0 5 0 5 1-1 0-14 1 6 1-6 1-1 0 13 0-6 1 2 0-2 1-2 0 7 0-23 1-15 0 36 0-4 1-25 0 32 1-6 1-4 0-19 0 23 1-3 1 10 0-7 1-19 0 18 1 1 1 8 1-1 0-31 1 27 0 6 0-3 1-6 0-25 0 8 0 17 1-1 1 8 0-16 1 15 0-12 1-1 0 8 0 1 0-10 1 14 1-1 0-8 0 12 0-9 1-23 1-1 0 6 2 16 0 10 1-17 0 11 1 4 0-8 1-22 0 29 0-5 0-11 1 19 0-12 1 13 0-26 0 25 0-42 0 41 1-11 0 9 0-18 1-24 0 31 0-14 1 25 0-9 1-2 0 9 2-6 1-9 1 20 0 0 0 0 1-15 0 11 0-15 1 2 0 16 2-43 0 17 1 23 1 3 0-5 0-7 1 6 2 1 0-20 0 8 1-4 0 9 0-17 1 6 1-13 0 19 1 10 1-5 0 10 2-10 0 11 1-38 1 13 0 20 2-23 0 30 0-15 0-2 0 11 1-20 0 19 0 0 0-2 0 10 0-39 1 38 0-8 2-13 0 14 1-32 0 33 1-2 0-10 1 18 0-5 0-21 0 22 1 3 0-6 1 5 2-5 0-34 0 30 1 0 0 7 0 2 0-6 0-2 1 5 1-10 0 4 1 7 0 1 0 2 0-10 0 12 0-6 0 2 0-10 0 13 0-5 0-6 1 8 0 1 0 3 0-9 0 9 2-11 0 4 0 5 1-2 0-23 0-1 1 26 1 0 0-1 0-5 0-14 0-21 0 42 0-10 0 0 0 10 1-7 0 5 1 2 0-12 0 1 1 3 0-5 0 6 1-14 0 20 1-41 0 33 0 9 1-7 1-32 1 22 1-10 0 25 0-5 0 6 1-15 0 9 0 6 0-41 1 40 0-15 0 2 0-12 0 20 3-8 0 15 0-25 0 11 1 6 0-6 0 13 1-22 0-1 0 24 0-26 1 13 1-25 1 37 2-3 0 4 0-2 0 1 1 0 1-11 0-5 1 9 0 4 0 4 1-4 1-32 0 36 0-3 1 1 0 1 0-45 0 16 0 17 0 10 0-9 1-8 1 14 0-13 0 20 1-10 0 8 1-10 1 6 0-5 1 9 1-8 0 2 0 2 1 0 0-5 1-31 0 40 0-18 1 14 0 5 0 1 0-7 1-7 0 14 2-6 0-3 1-7 1-23 0 22 0 13 0-1 0-6 2-4 0 14 1 0 0-10 1 5 0-10 1-16 0 27 0-6 0-33 1 26 0-2 0-1 0 16 0-10 2-12 1-2 0 27 0-3 0-9 1 10 0 1 1-7 0-16 1 25 1-21 0 20 0-1 0-22 0 21 1 0 0 0 1-1 1-2 0 3 0-14 1 14 0-7 0 1 1-5 1 9 0 1 1 3 0-24 1 21 0 2 0-1 0 2 1 1 0 0 1-1 0 0 0 2 1-1 1-8 0-9 0 6 1 6 0-3 1 5 1 4 0-14 1 0 0 13 2-14 0 15 1-18 0-14 0 32 0-15 1 9 0 3 1-40 0 31 0 0 1 4 0-2 1-9 1 13 0-36 0 42 0 0 1-3 0-5 0-13 1 16 1-5 0 2 0-13 0 10 1 2 0 8 1-22 0 18 1 4 0-3 0-5 1-8 0 16 0-9 1 4 0 2 0 3 1-16 0 13 1 2 3-10 0 12 0-7 1 5 0-1 0-29 2 22 1-1 0-6 1 7 0 4 0-1 1 3 0 1 0-8 1 2 1 3 1-13 0 16 1-12 1-5 1 16 0-41 0 41 1 2 1-4 1 5 0 0 0-3 1-7 1-22 1 23 1-23 1 30 0-10 0-14 1-22 0 47 0 0 1-4 1-5 0 10 1-3 0-39 1 33 0 10 1-12 0 11 0 0 0-2 1-10 0 12 1-11 0 11 0-25 1 24 0-7 1 1 0 3 0 5 1-16 1 16 0-39 1 36 1-7 0 3 0 0 0-39 1 41 0 5 0-6 2-3 1-16 1 15 0-11 0 7 1 11 1-32 0 35 0-2 0-53 1 43 1-7 0 16 0-20 0 13 0 7 1-13 1 16 1-25 0 25 0-9 2-2 0-18 1 19 0-6 0-3 0 15 1-10 0-2 0-2 1 14 0 3 1-3 0-4 0-23 0 30 2-1 0-3 0-8 0-2 1 2 0 4 0-2 0-9 1 17 0-8 0 0 1-1 0 2 1-3 0 1 0 6 1-32 0 21 0-23 1 17 1 20 0 3 1 0 0-41 1 26 0 2 0-5 3 8 2-24 0 27 0-5 2-1 0 12 1-6 2 4 1-11 0 10 0-4 0-5 0 3 1-1 0-3 0-4 2 8 0 4 1 0 1-10 0 5 0 1 1 9 0-4 0-1 0-10 0-6 1-12 0 20 0 2 0 8 1-6 0-2 0-28 0 39 1-23 0-8 1 30 0-7 0 3 0-4 1-13 0 19 1-6 2-6 0 6 0-32 1 36 0 5 1-20 0 20 0-10 0 11 1-14 0 2 0 7 0 5 1-26 2 11 0 13 0-4 0-8 1 7 2-6 1-8 1 12 0 9 0-8 0-13 1 8 0 11 1-14 1-7 0 13 0 0 1-6 0 0 2 0 0 5 0 2 1-3 0-13 0 13 0 10 3-5 0-21 0 10 0 17 0-14 1 0 0 14 1-11 0 11 0-11 1-33 0 44 0-5 0-6 2-28 0 39 1-8 1 6 0-3 0 6 0-2 0 1 0-4 0 5 1-5 0-13 0 12 0 6 1-13 0 10 0-3 0 5 1-39 1 24 0-3 1 10 0 2 2-1 0-3 0 5 2-3 1 7 1 0 0 0 0-4 0-2 1-15 0 17 0 2 1 4 0-17 0 17 2-7 0-2 0-4 2 10 1-3 0-20 0 17 1-1 0 5 0-16 1 5 1 5 1 10 1-8 0-3 0 10 2-2 1 4 0-8 1-2 0-2 0 5 0-4 0 10 1-1 1-2 1-2 1 1 1 2 2 2 0-15 0 15 0-10 2 9 1-7 2-19 0 26 0 1 1-8 0 8 1 0 0 0 0-26 0 19 1 6 1 1 0-13 0 14 1-3 0 3 0-7 1 4 0-11 0 8 0-13 0-1 1 16 0-13 0 10 1-1 1 4 1-9 1 0 0 12 0-3 0-17 0 18 1-2 0-22 1 15 1 11 0-36 0 30 0 3 0-6 1 7 0-4 0 4 1-1 0 4 0-23 1 14 0 8 1-4 0 0 0-1 1-26 0-9 0 1 1 15 0 9 1 8 0-8 1-23 0 29 1 8 0 0 0-2 0 3 0-5 1-29 1 9 1 18 0 0 1 5 0-2 1-8 1-31 1 36 0 2 0 5 1-5 0-5 0 3 1-17 0-2 0 19 0 7 1-16 1-6 1-1 0 18 0-4 0 10 1-22 0-3 1 14 1-5 0 6 0 3 0 6 0-19 1 18 1-1 0-6 0-32 1 36 0-6 1-24 0-15 0 38 0-35 3 47 0-14 0 11 1 0 0-12 1-28 0 21 1 16 0-15 0-3 0 21 1 1 2-19 0 2 1 12 1-11 1 14 0 0 1-15 1 10 1 8 0-5 1 2 1 3 0-3 1 0 0-16 1 12 0 5 0-8 0-14 0 16 0 3 0-3 1-5 0-11 0 16 1-4 0 9 0-39 1 37 0-4 1 8 1-3 0-6 1 9 0-6 1-3 0 2 0 2 1 4 0-39 1 29 0-11 2 23 1-37 1-11 0 39 1 3 0-5 0 7 0 0 0 5 2-14 1 8 0-3 1 7 0-9 0 7 0 0 1-7 0 10 0-1 0-3 0-1 1-1 0 2 1-10 0 12 1-8 0-6 2 15 1-14 0 9 1 6 0-8 1-7 1 15 0-22 1-14 0 30 1 4 0-34 0 30 0 6 0-12 1-24 0 21 1 15 1-45 0 31 0 9 1-11 0 8 1 0 0 7 0-3 1-6 0-18 1 28 0-10 1 5 0-39 0 27 0 15 0-1 1 4 0-1 2-6 1-8 0-24 1 33 0 1 0-6 1 1 1 1 0-2 2 8 0-9 1-36 0 48 0-22 3 17 1 4 1-18 0 15 0 2 1-15 0 17 1-1 0-3 2 0 1-8 0 11 1-3 1-33 0 3 1 26 1-3 0 6 0-21 0 15 1-16 0 24 0-36 1 32 0-8 1 4 0 11 0-12 0-4 0 10 0-18 0 20 1-4 0 6 1-22 0 14 0 8 1-1 0-17 1 4 0 12 1-2 0 1 0-1 1 4 0 1 0-18 1-2 0-27 0 38 0-9 1 9 0 0 1 4 0 3 3-7 0 8 0-8 0 6 1 4 2-6 0-7 0-11 0 23 0-4 1-5 0 3 1 6 0 0 1-9 0 9 2-2 1-5 0-5 0-4 1-14 1 9 0 21 1-26 1 17 0-5 1 0 0-1 1 10 0-5 1-1 0 0 0-12 1 10 0 4 0-34 2 44 0-7 0 4 1-4 1-7 0 8 0-17 0 7 0 5 1 5 0-7 0 5 0-5 0 3 0 6 1-7 1-21 0 30 0-24 0 13 2 9 1-49 1 52 0-3 1-1 0-31 0 34 1-6 0-4 0 7 0 4 0-8 1 8 0-17 0-22 0 37 1-2 0-24 1 12 0 4 1 6 0-4 1-13 2 19 0-12 1-10 2-1 0 20 1-2 1 1 0-3 0 2 0 10 1-25 0 23 0-3 0-10 1 12 0-4 1-28 0 27 1 5 0-13 1-12 1 0 0 27 1-40 0 18 2 17 0-39 0 36 1-29 1 33 0-9 1 11 0-27 0 23 0-4 2 0 0 8 0 1 1-5 0-7 1 12 0-15 1 14 0 0 1-6 0 9 1-1 0-10 0 1 1-14 0-8 0 17 1-21 0-8 0 8 0 31 3 5 0 0 0-5 0-4 1-22 0 9 1 17 0-6 1 3 0 8 0-9 0-17 1 9 0 16 1-34 0 24 0 6 1-7 0 1 1 8 0-13 0 13 1-24 0 15 1 11 0-2 0-16 1 3 0 7 1 4 1-21 0 6 0-4 0 22 1-19 0 17 1-13 0 8 0-4 0-5 1 7 0-3 0 7 1-5 0 10 0-11 0 12 0-2 1-10 0 13 0-2 0-5 1 0 0-14 0 8 0-17 0 14 1 15 0-2 0-29 1 23 0-1 1 2 0-16 0 17 0-7 1 12 0-3 0-8 0 1 1 10 1-16 1 16 0 0 1 1 1-22 0 22 0-4 0-4 0-9 0 16 0 0 1-6 0 0 1 2 0 4 0-7 1 4 0-20 0 14 0-33 1 38 2 2 1-4 1-5 0-24 0 22 0 10 0-13 0 15 1-11 0 14 2-20 1 9 1 5 0 5 0-6 1 3 1-5 0-12 0 21 0 0 0-26 1 23 0-3 0-9 2 7 0 0 1-38 0 31 1-2 0 16 1 0 0-11 1-10 0 20 1-22 0 17 0-20 1 26 0-44 0 39 1-6 0 7 0-13 2-13 0 30 0-6 0 1 0-1 1 0 0 4 0-8 1-21 0 20 0-14 1 19 0-2 0 8 1-17 0 10 1 1 0 0 0-2 0-18 0 19 1 7 0-24 1 0 0 17 0 5 1-2 0-13 0 9 1-7 0 5 1-5 0 15 0-4 1-16 0 20 0-1 1-17 0 6 0 3 0 2 1 4 0-8 0 0 1-2 1 9 0 4 0 0 1-5 0-19 0 24 1-22 0-16 1 16 0 20 1 2 1-19 0 9 0 10 0-7 0-1 0 8 0-23 0 13 1 9 0-14 0 16 0-5 1-11 0 11 1-2 0 1 0-36 1 3 0 18 0 18 1-7 2-21 0 27 1-13 1 10 1-31 0 22 1 15 0-3 0-19 0 13 1 9 1-4 0-12 0 16 1-9 0 9 0-2 1-2 0-32 0 36 1-13 0 1 0-13 0 4 0-10 0 21 0-18 1 10 0 1 0 16 0-7 1-25 1 15 1 13 0 3 1-5 0-9 0 16 1-34 0 0 1 30 1 1 0-13 1 15 0-9 1 0 1 11 0-11 1 2 0-5 1-3 0 5 0 6 0 1 1-11 1 10 0 1 1 3 1-14 1 8 0 2 0-17 0 14 0-8 1 3 1-5 0 14 2-9 1-13 0 21 0 0 0-5 1 3 1-14 0 21 1-7 1 6 0 0 0-30 1 1 0 5 0 25 3-5 0 0 1-1 0-7 0 12 0-4 0 5 1-4 0-1 0 1 0 4 0-1 0-2 0-14 0 2 1-3 0 13 0 3 1 2 1-7 0-7 3 3 0 8 1-2 0 5 0-30 0 24 1-2 0-14 0 23 1-17 1 14 1-1 1-5 0 4 0-1 0-2 1-44 2 46 0-24 0 27 0-41 1 32 0 9 1-13 0-17 0 32 1-1 2-12 1-29 0 20 1 22 0-26 1-7 0 26 0 4 0-10 0 9 0-8 1-2 0 9 0 6 0-29 0 15 0-13 1 21 0-19 1 11 0-6 1-5 1 23 0 2 1-8 0-11 1 12 0 1 0 3 1-14 1 15 0 0 1-10 0 8 1-5 1 7 0-3 0-4 0 8 0-31 1 3 0 18 0 0 0-7 0 16 0-17 1-13 0 27 1-2 1-7 0 3 1 3 1 5 0-25 1 20 0 4 1-4 0 5 0 2 0 0 1 0 2 0 0 0 0-11 0-11 1 18 1 5 0-26 0 16 0-3 0-7 1 15 0 3 0-23 0 8 0-22 0 26 1-5 0 15 1-8 0-11 2 13 0-8 0-16 0 17 1-10 0 13 1-6 0 10 0 2 0-43 0 48 1-3 0-31 1 20 0 3 1 10 0-6 0 3 0-4 1-8 0 14 1-19 1 12 0 1 1 5 0-5 0-9 2 5 0 3 1 11 0-6 0 1 1-2 1 1 0 2 0-1 1-23 0 28 0-18 1 4 0 13 0-26 1 26 0-7 0 5 0 0 0-8 1-2 1 8 0-33 0 37 1 0 0 0 0-1 1-22 1 20 0 0 0-15 0 5 0 6 1 4 0-7 0-6 1 5 0-3 0 10 1-6 1-7 0-2 0 19 0-15 1 13 2-1 0-6 2 9 0-40 0 31 0-16 1 13 1 7 0-5 0 4 0 2 1-1 0-5 0 8 0-16 1-18 0 14 2 21 0-3 0 4 1-7 0 2 0 6 1-8 1 7 0-2 0-3 0-11 0 8 0-3 1 11 1-3 0-10 1 11 1 2 0-2 0 0 1-2 2-2 0 5 0-5 1-23 0 24 0-10 2 11 0 4 0-3 0-3 1-1 1-22 0 19 1 0 0-4 1 6 0 7 1-2 0-13 0 12 1 0 0 4 0-12 0-2 0 10 1 5 0-5 1-8 0 9 0 2 0-3 0 5 1-16 0-8 0-2 0 19 1-13 0 20 1-18 0 11 1 7 0-1 0-1 1-8 1 8 0 1 1-5 0-7 0 8 1-17 0 11 1-2 0 13 0-8 0 7 1-22 0 10 1 0 0 8 0-3 1-3 0 6 0-1 1-5 1 0 0 10 0-2 0 0 2-4 0 5 0-20 1 14 0 5 0-1 0-8 1 9 0 0 2-23 0 19 0-10 0 16 1 0 0-1 0-10 0-7 2 7 0-27 1 38 1 0 1-1 1-14 0-4 1 18 0-5 0 3 0 2 1-17 1 14 0-17 1 11 2 7 0-5 1 8 0-14 0 3 1 11 0-34 0 14 1 8 2 12 0-4 0-22 0 26 1 1 1-48 0 45 0 3 0-30 1-12 0 42 0-9 0 3 0-40 0 45 0 1 2-3 0-7 1 8 0-14 1-12 0 22 0 6 0-11 1 2 1-1 0 7 0-29 2 18 1 12 0 2 0-20 1 17 1-1 2 3 0-8 0 4 0-15 1 8 0 11 0-6 0-10 1-2 1 17 1-32 0 31 2-28 0 8 0 22 0-7 0 7 0-2 1 1 1-5 1 5 0-11 0 9 1-19 0 12 0 11 1-13 0 11 1-36 0 35 0-17 0 10 1 5 1 2 0-2 0-39 1 33 0 9 0 0 1-1 1-4 0 7 0-1 1-18 0 11 0-7 1 5 0-1 0 10 1-11 1 11 0-3 0-41 0 26 1 19 1-27 0 0 0-1 0 10 0 6 1 6 0-10 1-2 1 14 0-2 1 4 0-8 1-5 0 11 0-9 1-14 0 7 1 6 0 6 0-15 0 17 0-1 1 5 0-3 0-4 0-27 0 25 0 0 1 3 0 7 0 0 0-29 0 11 1 8 1 11 0-5 1-14 1 9 0-3 1 4 0 3 1-3 0-3 0 12 0-31 0 27 0-6 1 1 0 7 0-12 1 8 2-2 0-1 0-9 1 14 0 0 0-24 0 25 1-25 0 2 0 17 0 7 1-23 0 19 0 1 0-6 1 10 0-41 0 41 1-22 0 8 0 3 1 8 0-11 1 8 0-9 1 13 0 2 1-1 0-1 1 0 1-33 1 31 0 3 1 1 0-12 0-5 1-9 1 24 2 2 0-21 0 3 1 15 0-1 0 2 0-27 0 9 1 14 0 5 1-9 1 3 0 4 0-1 0-23 0 28 1-14 0 10 0 1 0-8 0-1 2 8 1 4 0-3 0-21 0 23 1-3 0-1 0-3 1-2 0-2 1-2 0 8 1 5 0-5 1-2 1-2 0 9 0 1 1-2 0-28 1 6 1 5 1 11 1-3 0 8 1 2 2-5 0 3 0-8 1 8 0-31 0 2 1 20 0 12 0-3 1-13 0 0 1 10 0 5 1-5 0 3 1-1 0-12 1 14 2-2 1 1 1 2 1-13 1-1 0 12 0 3 1-8 0-20 1 24 1 3 1-7 0 7 0-1 0 0 1-6 0 7 0-1 1-6 0 3 0-1 1-4 0-1 0 6 1-24 0 25 0 4 2-13 1 12 1-17 0 16 0 0 0-6 1 5 0-2 0-12 0-3 0 15 1-4 0-2 2 8 1-10 1 9 0-18 1 12 1 0 0-18 1 26 1-24 0-14 1 23 0 16 1-11 0 9 1-12 0 14 0-20 1 11 1 3 0-14 0 9 1-19 1-11 0 32 1-5 0 7 1-2 0-6 1 9 0-14 1-2 0 20 1 0 0-24 0 13 0 13 1-21 1 20 0-1 2-4 0 0 0 0 1-10 1 9 0-6 1 13 0-10 0 10 0-3 0-6 1-9 0 14 0-2 2-4 0-4 0 7 1 7 1-8 0-23 0 25 1-9 1 12 2-25 0 17 0 11 1-21 0-1 0 11 1 11 0-30 0 28 0 3 0-15 1 11 0-9 1-12 1 25 0-3 0-1 0-5 3-4 0-12 0 11 0-5 1 16 1-14 0 3 1-21 1 28 1 5 1-4 0 5 1-16 0 9 0 5 1 3 1-11 1 7 0-4 0-6 2 3 0 11 1-9 0 6 0-19 1 15 0-29 0 16 0 16 1-29 0 28 0 0 1 1 0 2 0-3 1 3 0-28 1 22 0 4 0-1 0-1 0-15 1 1 0 8 0 6 0 1 1-3 0-11 0 12 0 7 0-16 1 14 0-2 1 0 0-32 1 24 1 10 0-2 0 0 1 0 0-22 1 1 0 18 1 0 0-10 0-9 2 25 1 1 0-14 1-5 0 9 0 3 1 0 0 7 1-2 1-2 1-8 0-14 1-18 0 16 1 12 1 7 0-15 1 16 0 2 1-18 0 17 1 5 0-4 0 4 1-15 0 16 0-4 0 5 1-28 0-8 1-1 0-10 1 30 0 13 0 3 1-17 0 10 0 6 1-3 0-12 1 7 0-8 0 17 0-5 1-14 0-3 0 18 0 1 0-7 1 3 0-8 0 8 0 2 1 5 1-2 0-8 0-19 1 28 0-1 0-13 1 10 0-6 0 8 1 1 0-11 0-22 2 27 0-6 0 9 1-44 1 38 1 9 0-14 0 16 0-5 0 6 1-1 0 0 0-4 1-13 0 17 1-5 0 4 1-1 0-45 2 30 0 15 0-19 1-7 0 10 0 17 1-2 0-7 1 11 0-2 0-8 0 8 1 1 0 0 0-5 0 5 0-18 1-4 2 14 2-6 0 7 0 5 1-7 0-23 0 7 0 18 1 4 0-3 1-39 0 41 0-2 1-2 1 1 0 5 0-4 1-8 1 10 0 3 2-27 2 20 0-18 1 26 0-2 1-2 1-19 0 14 0 4 1-12 1 13 0-6 0-8 0 15 1 1 1-5 0 4 0 0 0-15 0 15 0-2 0 2 1-1 1-11 0-23 1 32 0 2 0-9 1 13 0 0 0-4 1-4 0-8 0 16 0-1 1-17 0 7 0-2 1 13 0-6 0 4 1 1 0-9 0 0 1-12 0 17 0-1 0 6 1-29 0 0 1 22 0 0 1-6 0 8 0-3 1 4 0-1 0-3 0-34 1 37 1 0 0 4 0-17 0-4 1-2 0 16 1 2 0 6 0 1 1-12 0 9 0 0 0-4 0 7 0-23 1 22 0 0 0-8 0-7 0 15 0-10 1-19 0-8 1 26 0-27 0 27 0 11 1-16 1 8 1 1 0 4 1 0 0-3 0-5 1 10 0-3 1-8 0 7 0-23 1 25 0 1 1-3 1-42 1 21 0 18 0 6 1-12 0-34 0 30 0-32 0 42 0-21 0 27 1-51 2 38 0 8 0-2 0 2 3 5 0 1 1-31 0 11 0 17 1 2 1 1 0-25 0 25 0-3 0 3 1-1 0-20 0 20 1-8 0-2 1 9 0-11 1 9 2-15 0-13 0 0 1-12 0 23 1 18 0-14 0-20 1 27 0 0 0-31 1-12 0 52 0-8 1-5 1 3 1 5 0 6 1 0 1-11 0 11 0-9 1 0 0-23 2 28 0 4 0 2 0-27 0 23 1-2 1 3 0-34 0 29 0 6 0-10 0-2 1-5 0 17 0-12 0 11 0-38 0 31 0-7 0 5 2 6 2-22 0 21 0 5 0-7 1-26 1 32 1-24 1 22 1-12 0 6 2 8 0-14 0 15 0-2 0-1 1 2 0-5 0-14 0 8 1 6 0 7 1-14 0-2 0-7 0-17 2-8 0 41 0 1 1 7 1-13 0 10 0-32 2 21 0 8 1-3 1 5 0-3 1-19 0 20 1-17 0 4 1 5 0-38 1 49 0-18 1 5 0-35 1 43 0-15 0 16 1 5 1-4 0 0 1-8 0 13 1-1 0-1 0 0 1-50 0 1 1 44 0-18 2 17 0 5 1 2 1-14 0 8 0 8 1 0 0-6 0 3 0-2 1-12 0 0 0-40 0 52 0-14 0 14 1-48 0 27 0 13 1-43 0 6 1 48 2-4 0-13 1 17 0-17 0 17 0-27 0 12 0 3 1-17 0 22 2 3 1-6 0 12 0-3 1-6 0 1 1-6 0 3 0-1 0-20 0 3 1 9 1-1 1 10 0-6 1 11 0 2 0-6 1-6 1 7 1-12 0 13 1-11 0 5 0-2 0 13 2-1 0-12 1-2 1 14 0-27 0 28 1-64 0 67 1-19 0-4 0 5 0 18 0-36 2 29 0-1 1-10 1-9 0 23 0-7 1 4 1-8 0 14 1-1 1-24 0 7 0-19 1-13 1 38 1 2 0-18 0-42 0 65 0-12 1-40 0 48 0 8 0-6 0-62 0 63 0-10 1 14 0-7 0 7 1-16 1-36 0 46 0 6 1 0 0-46 0 20 1 2 0-35 0 59 1-4 0-16 1 6 1-11 0 12 0 0 0 1 0-27 1 29 0-6 0 17 0-32 0-7 1 33 1 1 1 4 0 0 0-16 0 18 0-12 1-3 0 12 0-10 1-35 1-1 0 46 0-10 0 6 1-1 0-33 1 6 0 22 1-16 0 28 0-2 0-4 0 0 1 7 1-19 1 15 0-24 0-15 0 30 1 4 1-2 0-13 0-20 1 25 0 4 1 14 0-23 0 14 1-55 1 57 0 9 0-13 1 11 0-6 1-28 0-33 0 62 1-14 0 14 0-31 0 6 1 3 0 24 1 1 0 0 0-12 1 16 3-8 1-65 0 59 1 13 1-40 0 33 0 8 2-2 0-40 1 36 0-6 0 8 1-53 0 49 0 7 0-5 1-14 0-10 1 24 0 2 2-13 1 7 0 3 0-9 0-10 0 9 1 14 0-44 1 17 0 8 0 5 1-11 0 20 1-50 0 55 0-47 1 47 0-6 0-38 0 33 1 13 0-11 1 4 0 0 0 5 1-24 0 12 1-25 1 36 0-8 0 11 0-27 1 26 0-1 1-17 0-42 0 60 2-18 0 17 1-11 0 8 0-46 1 12 1 2 0-12 0-12 1 46 1-2 1-20 0 20 0 9 0 2 1-9 1-38 0 44 2-1 0 7 2-67 0 43 1 13 0-11 1 13 0 5 0 5 0-10 1 9 0-62 1 16 2 36 0 9 0-9 0 0 0-15 0-25 1 52 0-4 0 2 0-11 1-7 0 4 1 18 0-8 0-27 0 32 1-22 0 7 0-13 1 16 0 14 0-4 0-2 1-7 0-10 0 19 0 4 1-10 1 8 0-30 0 4 0 22 1 2 1 4 0 0 0-20 1 19 0-30 0 19 0 6 1-10 0-15 1 30 0 1 1-13 0 6 1-8 1-3 0 12 0 5 0-1 2-45 1 19 1 26 0-5 0-6 0 6 1 0 0-15 0 19 1-12 0 12 1 3 0-56 1 43 1 12 0-20 2 10 0 8 0 0 0 0 2-12 0-8 1-12 0 33 1-7 0 7 0-3 0-19 0 16 0 8 0-12 0-14 1 23 0-2 0 0 1 5 0-19 1-1 0 2 0-21 1 32 0-1 0-57 1 63 0-14 1-11 0 28 1-31 0 0 0-34 1 62 1 0 0-14 0 17 1-51 1 51 0-5 2 1 0-22 0-38 1 22 0 33 0 8 1-6 0-57 0 51 1 9 0-57 0 50 0 7 0-23 0 22 2-53 0 36 0-20 1 41 1-36 0-11 0 47 1-4 0-28 2 2 2 26 1-8 1-8 0 15 0-6 2-21 1 26 0-19 0 11 1 0 0 11 1 4 0-1 0-35 0 32 0-3 2-5 1-39 2 48 0 1 0 0 1-6 1 6 0-10 0 12 1-19 0 12 0-24 1 9 1-3 0-11 0 27 1-3 0 11 1-35 0 21 0-52 0 20 0 30 1 12 2-6 1-38 0 49 1-24 0 10 1 0 0-14 0 23 1-37 0 31 0 4 1-2 0-15 1 18 0 4 1-58 1 15 0 26 0-4 0 11 0-69 1 68 0-20 0 18 2-10 0-21 1 23 0-21 1 25 1 18 0-38 0 9 1-20 1 31 0-7 0 18 0 5 0-2 1-20 0 2 1 21 0-65 0 45 0-1 1-28 0 46 1-2 1-55 0 59 1-3 3-20 1 10 0-1 1 15 0-3 1-5 0-27 0 4 2 6 0 26 0-71 1 68 0-7 1-30 0 7 1 23 0-5 1 5 0-30 0-2 1 25 0 5 0-25 1-26 0 40 1-34 0-12 0 62 1-5 0 3 1-30 1 6 0 28 1 3 0-66 0 67 1-10 0 7 0 0 0-10 2 13 1-33 0 27 1 2 0-24 0 7 0 21 0-75 1 70 0-8 0-12 0-4 1 18 0 2 0-1 1 5 0-2 1 6 0-9 0 8 1 3 2-23 0 22 0-11 1 2 0-10 0 8 0 11 0-12 0 11 1-4 0 6 1-2 1-22 1 16 0-2 0-5 0-10 0 6 0 8 1 6 0-3 1-31 0 19 1 17 0-21 1-3 0 5 0 3 0 5 0 13 0 1 1-14 0-19 0 31 0-4 1 6 1-11 0 10 1-20 0 16 0 5 1-3 1 2 0-5 0-12 1 11 1-15 0 23 0-28 0 26 1 1 0-12 1-4 1 10 0 0 1-18 0 25 2-68 0 2 3 62 0 3 0-20 1-17 2 24 0 3 1-10 0 19 2-12 0 14 1-37 1 37 0-9 1 1 0 6 1-19 0-13 0-11 0 28 0 15 0-3 1-18 1 13 0-2 0-28 0 35 1 1 1-4 0-32 1 17 1 8 1-5 1-16 0 32 1-6 1-9 2 16 0-8 2 0 0-24 1 30 0-17 2-9 0 9 0 21 1-3 0-3 1-4 0 10 0-13 0-24 2 26 0 8 1-3 0-3 0-11 1 18 0-7 2 5 0-13 1 12 0 5 0-38 1 34 0-4 0-5 1-13 0 24 1-41 0 30 0 11 0-9 0-41 0 43 1 9 1-38 1 24 0 11 0-31 1 29 0 5 0-1 0-2 0-4 0 3 0-49 1 44 0 3 1 1 0-14 0 11 0-2 0 0 1 5 0-6 0-13 1 22 1-47 0 44 1 3 0 0 1-53 1 46 0-18 1 23 0-4 0-4 0 4 0-31 1 40 0-3 0-8 1-10 0-7 1 16 0 6 0-7 1-2 0 5 1-5 0 11 0-4 0-4 0-4 1 2 0 11 1 1 1-47 0 42 1 2 0 1 0-27 0 31 1-20 0 18 0-2 0-11 1 11 1-4 0-21 0 16 1 12 0-20 1 6 0 0 2 14 1-1 0-7 1 4 0-13 1 13 0 1 0-3 1-9 0 13 0-14 0 7 1 8 0-4 1-8 1 11 0-10 1-7 0-4 0 15 1 7 0-1 0 1 1 0 0-6 0-1 1-30 0 27 0 11 0-4 1-6 0 7 1 0 1-5 0-17 0 25 0-15 1 13 0-15 0 15 1-4 0 0 1-21 0 25 0 0 1-13 1 10 0-6 1-9 0-14 0 29 1-3 0 1 0-9 0-29 1 44 0-14 0-35 1 36 0 11 1-2 1 4 0-10 0-5 3 13 1-4 0-13 0 17 1 0 0 1 0-13 0 11 0-2 1-10 0 14 0-11 1 11 0 2 0-1 1 1 0-34 0 23 0 8 2-2 1 4 0-3 3 0 1-12 0-4 1 11 0 5 0 3 0-4 1-1 0-3 1-3 0-4 0 15 0-17 2-6 1 24 0-18 0-3 0 11 0 1 0-27 1 32 0-15 1-2 0 5 1 16 0-14 0 14 0-58 1 44 0 12 0-12 1-5 0-2 1 5 0 9 0 2 0 4 1-2 0 2 0-8 1 9 1-5 0-13 0-1 0 6 1-5 1 17 0-3 0-19 1-32 0 53 0-3 0 6 1-24 0 7 0 8 0 5 0-7 1-3 1 13 1-11 1 3 2-55 0 30 1 30 0-2 2-1 0 5 1-6 0-55 0 55 0-1 0 1 0 1 1-24 1 16 2 11 0-24 0 12 0 8 1-10 0 7 0 4 1 2 0 0 0-3 0-31 1-13 0 25 0 20 1 6 0-10 0-7 0-12 1 20 0-18 0 14 0 1 0-4 1-13 0 16 1 1 0 10 0 2 0-8 0-1 1-6 0 3 1-34 0 28 1 10 1 1 0-2 0 7 1 0 0-67 1-4 0 67 0-4 0-54 1 59 0 3 0-44 1 47 1-18 1-11 0 26 0-15 1-15 1 13 0 19 1-28 1 5 0 17 0 6 1-21 0-21 0 33 1-2 1 10 0-11 0 6 1-1 1 0 0 3 1-20 1 10 0 7 0 0 0 6 0-30 1 2 0 1 2 18 0 6 0-25 1 6 2 15 1 9 0-48 1 34 0 12 1-21 0 20 0-22 1 15 0 7 1 3 0-9 0 4 1-13 0 1 0-2 1 18 0-6 1-41 0 34 1 13 0-10 0 1 1-11 0 17 1-26 0 18 0 9 0-24 1 24 0-26 1 29 1-21 0-4 2 22 0-15 0 12 1 1 0-21 0 19 0 0 0-11 1 18 0-8 0 3 1 4 0-1 0-20 1 18 1 3 0-4 1 0 0-17 1 22 0-3 1-13 0 11 0-1 1-3 0 8 1 0 0-10 0-1 0 3 0 9 1-6 0-3 0 7 1 2 0-4 1-2 0 3 0 2 0-23 0 10 1 12 0-2 0 2 0-5 0 2 2 2 0-14 1 6 0 8 1-7 0 9 0 1 1-1 0-14 0 14 1-2 0-1 0 4 1-4 1 2 1-4 1 5 0-6 0 6 0-2 1-14 0 15 0-3 1 4 1-16 1 17 0-10 0 9 0-2 2-3 0 0 0 1 1-8 0 7 0-24 0 23 2 4 1-2 0 2 1-5 0 5 0 2 1-5 0 4 1-33 0 32 0 3 1-9 0-10 0 17 1-1 0-14 0-21 1 38 0-2 0 0 1-5 0-4 0-3 0 6 1 1 0 2 0-4 0 0 1 4 0-4 1 2 0 6 1 0 1-1 2-9 0 1 1-14 0 10 0 6 1-22 0 25 1-5 0 3 1-17 1 17 0-1 0 3 1-5 1 5 0-12 0-9 1 26 0-21 0 3 1 16 0-27 0 12 1 7 0 6 0-1 1-33 0 36 0-20 0 7 1-1 0 0 0 7 1 8 1-1 0-4 1 3 1-8 1 5 0-29 0 28 0 5 0-31 1 29 0 1 1-1 0-8 1-8 0 11 0 7 0-4 1 5 0 1 0-12 1 10 0-5 1 2 1-15 0 15 0 3 1-8 0 10 1-16 0 13 1 2 0-9 1 10 0-2 0-7 0 5 2-2 0-5 1 8 0-2 0-7 1 6 0-2 0 2 0 0 1 3 0-13 0-8 1 17 0 5 1-7 0 6 0-16 0 5 0 13 1-8 0 5 1 2 0-1 0 2 0 0 1-32 0 7 2 25 1-13 0 11 0-7 0-7 1-7 1 10 0 3 0 4 0 4 1-7 0 2 0 8 0-2 0-3 0 3 0 1 1-7 1-4 0 5 1 5 0-6 1-1 3 0 0-20 0 28 0-2 0-4 1 0 0 0 1 0 1-17 0 14 0-22 0 31 2-1 0-16 1 12 0 2 1-3 0-9 2 15 0-6 0-5 0 10 1-1 0-5 0-4 2-23 0 2 0 31 1-15 1 9 1 7 0-17 0-20 1 14 0 24 0-13 1-3 0 6 0 0 1 8 0-1 1-5 0 2 0 4 1-6 0 2 0-15 2 13 0-30 0 22 2 14 1-1 1-21 1 18 0 5 0-8 0-13 1 14 1 5 1-24 0 24 0-8 0-11 0-9 0 18 0-5 0 12 1 4 0-1 0-3 0 2 0-22 1 9 1 3 0-6 1-15 0 28 0-12 0-4 0 17 0-13 1 2 1 7 1 6 0-9 0 10 0-12 1-2 0 7 0 6 1-1 1-8 0 8 1 4 0-2 0-16 1 2 0-32 0 43 1 4 0-5 0-17 1-4 0 9 1 19 0-15 1 8 0 5 1-5 0-5 1-1 0-3 0 14 0-4 1-3 1-5 1 0 0 8 0-34 1 23 0 8 0-12 1 20 0-3 1 2 1-7 0 3 1-1 1 4 0-10 1-6 0-1 0 13 1 2 0 0 1-7 0 7 1-37 0 37 0-8 1 10 0 0 1 1 0 1 0-8 1 5 0-13 0 14 0-19 1 21 1-16 0 14 0-9 1 2 0-12 0-17 0 38 0-16 1 13 0-1 0-7 1-14 0 25 1-15 0 5 2 11 0-13 0 10 0-24 0 21 1-9 0 7 0-17 1 21 0-33 0 31 0-2 0 0 2 5 0 2 1-12 2-3 1 9 1 6 0-5 1-4 1 3 0 5 0-2 1 3 2-11 2-11 0 19 0 2 1 0 0 1 0-17 1 13 0 3 0-13 3 8 0-7 1 13 0-7 0 3 0-5 1 5 1-8 1-9 1 19 0 3 1-21 0 21 0-11 1-4 0 6 0 8 2-12 0 13 0-2 0-7 0 6 1-3 1 3 0-28 0 20 1-20 0 9 0 10 1-3 0 13 1-5 0 2 0-32 1 6 0 28 0-8 0 7 1 3 0-2 0-4 0-22 0 25 1-10 1 7 0-1 0-5 0 10 1-2 0-13 0 13 0 0 0-4 0-20 0 25 1 4 0-7 0-5 0 7 2-35 0 39 0-7 1 4 0-6 1 8 1 1 0-2 0-5 1 2 0 2 1 3 1-1 0 0 1-11 0 1 0 1 1-3 0 11 2-14 0-1 0 14 0-1 0-7 1 9 0-18 0 18 0 2 0-24 0 23 1-20 0-12 1 5 0 10 0 17 1-8 0 8 0-11 0 5 1 4 0-2 0 5 1-11 1-4 1 7 0 8 0-17 1 16 1-13 0 3 0-10 0 21 1-4 0-22 0 12 0 14 1-12 0-19 0 22 0 8 1-11 0-5 1 13 0 0 0-12 1 14 0-7 1 1 0-7 1 8 0 8 0-16 2 15 1-18 0 11 0 6 0 1 0-6 1 4 0-8 1 4 0-13 0-1 0 15 0-18 1 23 1-2 0-17 0 13 0-17 0 7 0 2 1 4 1-1 0 3 1 2 0-24 0 23 0 7 1 0 1-12 0 10 0-7 1-6 1-8 0 6 0 13 1-7 0 11 1 1 0-10 1-20 1 14 0 10 1-13 0 16 1 2 0-18 0-13 0 17 1 3 0 2 0 2 1-7 0 10 0 5 0-4 0 3 1-2 0-10 0 2 1 4 0-1 0-2 1 9 0-16 0-28 1 44 1-14 1-25 0 39 1-22 0 13 0 8 0-1 0-5 1-13 0 19 1-14 0 9 0-5 1 0 0-19 0 21 1-33 1 19 0 4 0 1 1 9 0 5 1-11 0 16 0-3 1-6 0-26 1 25 0 5 3 0 0-12 0-8 0 9 0 14 1-2 0-37 0 21 2-7 0 1 0-14 1 39 0-1 0-11 0-17 1 28 0-3 0 0 2-1 0-15 1 20 0-4 1-1 0-18 1 16 1 8 0-11 0 10 0-5 1 0 1 2 0-34 0 32 1 5 0-2 1-13 2-23 0 36 1 0 2-4 0 0 1-5 0-17 0 19 2 7 0-16 1 17 0-2 0 3 0-24 0 17 1 3 0-7 0-26 1 27 0 10 0-3 0 3 2-1 0 0 1 2 1-1 0-15 1 4 1-6 1 3 0 7 1-7 0 2 0 12 0 1 1-5 0 5 0-6 1 1 1-17 0 6 1-9 0 25 0-10 1-14 1 10 2 9 0 3 1-21 0 17 0-5 1-16 0 26 0-2 1 1 0-29 0 28 0 3 0-19 1 18 0-15 0 13 1 1 0-17 0 15 0 1 1 2 0 1 1-10 0-12 2 17 0-10 0-5 0 8 2-11 0 18 0 1 0 1 0-3 1 0 1-18 0 24 2-4 0 4 0-16 0 12 1-6 1 6 0 4 0-12 0-5 0 4 0-26 0 30 1-2 0 7 0 1 1 1 0-18 0 17 1-8 0 10 0 0 0-8 1 5 0-4 0 6 1-17 0 15 0-2 0 5 1-5 0 1 1 3 0 1 1-1 0-3 1 4 1-6 1-8 0 2 0 7 1 3 0 1 0-14 0-20 1-4 1 33 0 3 1-4 0 4 1 3 2-7 1-4 0 4 1-18 0-8 1 32 0 1 2-3 0-36 0 27 0 13 0-36 1 27 1 7 0-1 2-25 0 17 0 4 0 3 1-11 0-9 1 22 0-1 1-4 0-3 0 8 1-2 0-35 0 17 1 20 1-9 0 0 1 6 0 2 0-12 0 9 1-14 0 13 0-16 0-1 0 24 0-42 1 35 1 1 1-11 0 8 0-6 1 9 0 4 1 0 0-22 1 10 0 8 0 4 0-12 0 14 0 0 0-17 1 9 0 8 2-21 0 14 1 5 0 0 1-6 0 6 0-9 2 3 0-14 0 20 1-14 0 9 1 4 0-13 1 13 0-7 1 5 0 0 0-10 0 15 1-3 1 2 2-17 1 17 1-17 1 17 1-5 0 5 0-7 0 4 0-35 1 35 1-4 1-3 0 4 1 2 0-14 0 14 0 1 0-2 1 0 0-8 0 8 1-3 1-7 1 5 0-14 0 22 0 2 0-25 1 14 0 11 0-5 0-7 1-7 0 17 0 3 1-12 1 2 1 4 0 6 1-10 3-9 0 15 0 4 1-8 0 0 0-2 1 1 0 1 0-8 0 9 1 5 0-7 0 6 1 0 1-2 0-5 1-27 1 28 1-1 1-12 0 6 1-10 1-9 0 26 1-29 1-2 1 40 0-10 0-3 1 11 0-8 1 4 0 6 1-10 1 2 0 3 0 2 0-21 0 18 1 0 1 5 0-3 1-2 0 6 0-2 1-1 0-8 0 6 2 1 1-6 0-8 1 15 0-14 0 12 1-3 1 0 0 3 0 3 0 2 0-3 1-24 1 22 0-15 0 15 1-11 0 14 0-7 0 9 0-26 0 20 1-21 0 0 0 17 1 1 0-3 0 5 1 2 1 0 0 3 0-1 0 1 1-36 1 33 1-32 0 11 1 10 0 5 1 7 0 1 0 2 1 1 0-10 0 5 0-6 0-15 1 25 0 0 1-9 1 9 0 0 2-12 0-8 2-13 0 33 2-1 1 0 0-3 1 1 0-12 1-22 1 34 1-13 0 9 2-13 1 10 0 10 0-1 0-4 1 3 0 1 0-2 0 3 0-6 1-7 0 10 1 1 0 1 0-3 0-1 1-3 0 0 1 4 0-2 0-3 1 8 1 0 0-5 0 7 0-14 0 8 3-7 0 4 0-1 0-7 1 15 0 1 0 1 1-7 0 5 0-16 0 7 1 8 1 0 0-3 1 4 0-6 0 6 0-10 1 11 0-2 0-13 1 13 0-1 1 0 0 1 0-15 1 7 1 0 0 7 1 1 0 0 0-17 0 17 1-2 1 1 1-28 0 12 1 18 0 1 0-18 0 3 1 7 1 7 0 1 1-9 0-2 0-1 1 12 0 1 0-30 1 30 0-4 0-5 1-5 0 10 0 3 1-21 0 19 0-12 1 7 0 2 0-13 1 18 0-24 0 21 1-1 0 1 1-6 0 10 1-1 1-16 1 3 0 4 1 2 0 4 0 0 1 0 2 2 1-22 0 17 1-25 0 31 0-24 1 20 0-2 1 7 0-10 1 3 0 7 0-10 0 9 1-12 0 8 0-22 1-1 0 26 1-1 0-1 0-7 1 9 0-8 0-4 0-6 1 17 0 1 1-7 0 5 0-28 2 31 0-4 0 1 1 2 0-12 1 12 0 1 1 0 0-8 0 8 1 0 0-10 0 11 1-1 0-12 1 11 1-16 0 7 1 9 1-1 0-2 1 3 0-25 0-1 0 23 1-1 0 0 1-5 0-2 1 5 1 8 0-25 1 19 0 4 0 0 1-4 0-18 1 13 0 7 0-12 2 4 0 7 0-2 1 6 0-13 0-7 0 15 1-1 1-3 0 6 3-11 0 10 1 3 0-5 2 1 0 5 0-2 0 3 0-1 1-9 0 2 1 1 1 4 0-1 1-13 0 2 1 8 0 4 0 2 0 0 1-6 0 3 1 4 0-10 1-2 0 6 1 0 0-14 0 14 0-3 0-3 1 9 0-3 1-11 0 16 1-2 0-2 1 0 0-12 0 16 0-10 1 2 0-4 0 8 1-2 0-4 1 9 1 1 0-3 0 4 0-12 1 10 0-8 0-2 0-2 1 7 0 1 0 5 1-5 1-1 0 2 0-14 1 14 0-6 1 9 0-2 1 1 0-21 1 24 0-6 0 5 0 0 2-2 0-11 1 13 0-5 1-9 1 13 0-22 0 19 1-3 1 0 0-5 0-26 1 31 0-4 1 6 1 5 1 0 1-7 1-3 1-7 0 16 1-28 1 28 0-4 1-2 1-2 0 8 0-40 1 38 0-6 1 2 1 4 0-20 0 18 0 3 1-35 0 37 0-1 0-37 0 32 1 2 0 1 1-12 0 6 0-37 1 47 0-4 0-27 1-8 0 29 1-20 0 15 0 13 1-2 1 2 0 2 0-7 0-7 0 4 1 6 0-3 0-8 1 10 1-1 0-6 1 2 0-5 0 10 1-5 0-3 1 11 0-6 0 2 1 2 0 3 2-4 0-8 1 4 0 3 1-13 0-8 0 17 1-25 0 31 1-5 0 6 1-5 1 4 0-14 0-11 0 18 1 6 1-10 0 8 1-1 0-13 1 2 0 18 0-1 0 0 0-16 1 17 0-2 0-30 0 25 0 2 0-26 0 27 0-3 1 6 0-20 0 0 0 16 1-12 1-13 0 18 1 5 0-56 0 57 0-4 1 2 0-17 1-10 0 32 1-15 0 6 1 8 0 2 0-5 0 5 1-1 1-6 0-38 0 15 0 28 0-2 1 5 1-72 0 59 0-49 1 53 0 9 0-33 1-9 1 31 1-39 0 35 1 9 0 7 1-33 0 31 1 3 0-28 0-32 0-8 1 2 0 43 1 0 0-10 1 12 1-7 1-14 1-36 0 52 0-4 0 10 1-21 0 40 0-40 1-2 0 41 0-52 1 51 1 2 1-8 0 6 0-66 0 65 1-11 0 11 0-6 0-12 0 6 0 11 2-10 0 0 0-45 0 17 1 34 0 0 2-8 1-39 0 53 0-4 0-21 1-3 0-26 1 38 0 15 0 4 1-32 1 3 0 28 0-9 0 9 0-6 0-56 1 55 0-7 0-37 1 43 0 5 0-42 0 39 1-42 0 20 0-50 2 70 0 4 1-10 0-8 0-46 1 16 0 23 1 30 0-12 0 3 1 1 1-1 0 1 0-62 0 48 0 15 0-9 1 3 1-9 0 20 0-3 0-3 0 2 1 5 1-6 0 2 0 2 0-4 0-62 1 41 1 21 0 0 0-48 1 52 0-72 1 65 0 9 0-34 1-24 0 40 0 7 0 8 1-17 3 7 0 2 1 11 0-2 0-3 0-4 1 3 0 7 0-21 0-13 1 14 1 13 0 3 1-1 0-2 1-42 0 37 0-15 0 20 1 1 1 2 0-12 1 2 0-21 0 14 0 3 0 15 1-1 0-3 1 3 1-7 2-19 0 22 1 5 0-5 1-3 1-37 1 46 0-3 0-18 0 17 1 3 0 1 0-19 0 16 0-10 0 0 2-28 2 39 0 4 1-6 1-29 1 33 0 0 1-9 1-5 0 11 0 3 1-14 0 3 0-27 0 33 1-26 0-24 1 32 0 15 0 6 0-60 1 61 0-31 0 32 0-17 2-10 0 3 1 22 0-17 3 8 0 9 0 2 1-73 0 73 1-39 1 26 1-7 1 14 0-55 0 16 0 20 1 20 1-3 0-59 0 60 1 3 0 5 0-20 0-22 1 25 0-44 0 50 1 8 1-69 1 53 0 5 0 11 1-3 0 4 1-16 1 14 0 4 0-74 2 60 0 12 1-20 0 20 1-18 0-7 0-26 0 1 0 3 0-10 1 2 0 46 0-2 2-30 0 44 0-1 1 0 0-2 1 2 0-45 0 41 0 2 1-44 0 4 0 17 1-50 0 75 1-31 0 24 1 7 1-5 1-23 0 21 0 7 0-5 1 5 0-18 2-38 1 44 1-14 0 26 0-2 1-72 0 66 2-27 0-9 0 18 0 19 1 8 0-10 1-10 1 15 0 5 0-18 1-9 0 5 0-2 0-19 1 16 0-6 2-15 0-12 1 14 0 32 0-16 0 10 0 11 0-38 1 35 0-31 0 39 0-2 1 1 0 2 0-53 0 55 1-7 0-1 1 6 0-4 0-2 0-42 1-10 0 61 0-10 0-22 2 17 0 9 0 4 1-17 0-2 0 11 0-19 0 26 0-16 1-20 0 29 0-46 0 49 1-2 0-14 0 0 0 3 1 16 0-38 0 39 0-4 2 2 0-4 1-4 0 2 0 5 0 0 1 3 2-21 0 21 0-9 1 2 1 7 0 1 0-45 0 30 1 15 0-4 0 3 0-11 0-8 1 18 0-4 0 2 1-12 0 6 0 10 0-15 0-3 1 11 0 6 0-16 0 11 1-7 0 15 1-3 0-2 1 4 1-1 0 2 1-3 1 0 2-9 2 9 0 2 1-19 0 14 2-18 0 22 0 1 0-2 1 2 0-19 0 7 1-3 0 8 1-30 1 37 0-13 0-9 0 3 1 17 0-6 0-1 0 9 2-5 0 3 0 1 1-7 0 9 0-2 1-5 0-12 2-6 0 14 1-2 0 1 1-7 0 9 0 2 1 1 0-16 2-25 0 44 0-10 0-13 1 16 1 8 0-5 0 5 0-2 0-21 1 22 0-11 0-10 0 21 1-2 0 6 0-1 1-13 0 13 1-4 0-1 0-14 0 19 0-2 1 0 0 3 1-15 1 8 1-27 0 26 2-5 0 4 1 7 1-2 0-24 0 16 1-25 0 35 1-41 0 20 0 12 1 5 0 6 0-17 1 16 0-8 0 7 0-26 0 26 0-3 0-3 1-7 0 15 0-44 0 41 1-7 1-9 0-5 0 18 0 4 1-1 0-17 0-15 0 34 1-27 0 6 0 18 0-3 1 5 1-10 0 10 1-2 1-2 0 1 0-15 1 10 0 2 1 2 0-5 0 2 1 2 0 6 1-21 0 20 1-16 0 6 0 9 1 0 0-4 2 4 0-30 0 19 1 3 0 5 1 1 0-4 0-3 2 4 0 6 1-25 0 22 0 3 0-12 0-21 1 17 1 5 0-11 0 22 1-4 0 1 1-3 0 2 0 6 0-6 0 0 0 2 0 4 0-9 1 7 1-1 1-1 0 1 0 1 0-5 1 3 0-3 0-14 1 16 1-2 0-9 1 1 2 5 0 7 1 0 3-2 0 3 0-5 1 4 1-1 0-1 1-2 0 6 1 1 1-4 0-4 1 2 1 4 1-6 0-22 0 28 0 2 1-16 1 8 1-1 0-5 1 6 0 5 0-9 0-7 0 0 0 16 1-3 1-20 0 22 1-12 0 3 0-2 0-10 1 9 0 8 0 7 0-6 0 3 1-4 1-10 0 0 0 14 1-3 0-6 0 10 0-1 0 2 0 0 1-7 0 8 0 0 0 0 0-8 0 2 1 1 0-10 1-7 0 9 1 14 1-6 0-2 1-20 0 24 0-2 1-13 1 12 0 7 1-17 0 6 0 3 0-22 1 29 0 1 1 0 0-5 0 2 1 3 0-9 1-12 0 17 0 1 0-1 0-21 1 23 0-1 0-12 1 14 1-20 0 21 1-3 0-7 1 8 0-3 0 4 0-14 0-1 0-11 1 23 1 0 1-8 0 5 0 1 0-5 1 3 0 6 1-21 2 19 1-9 1 4 0 9 0-2 1-30 1 24 0 8 0-18 0 14 0-11 0 14 0-9 1 8 0 1 1 0 0-18 1 17 0-40 1 26 0 11 1 3 0-18 0 17 0 2 0-6 0 1 1-1 1-3 0 8 1-10 1 5 0-9 0 16 0-1 1-1 0-7 0-28 1 33 0-11 1 11 0-25 1 24 0 3 0-4 1 3 0-3 0 5 0-12 1 12 0-12 1 8 1 3 0-5 0 3 0 4 0-2 3-8 1-5 0 11 1-2 0 5 1 1 0-6 0 0 0-19 0 23 2-5 0-3 1-8 0 16 1 0 0-10 0 8 0-5 2 9 0-5 0-1 1-5 0 0 1 10 0 0 1-7 0 0 0 6 0-5 0 3 1 2 0-3 1 1 0-4 1 8 0-1" fill="none" stroke="none" marker-start="url(#mb)" marker-mid="url(#mb)" marker-end="url(#mb)"/></g><g fill="#4e8ccb" stroke="#000" stroke-width="1.75"><circle cx="201.8" cy="610.9" r="6.15"/><circle cx="338.8" cy="604.4" r="6.15"/><circle cx="361.7" cy="602.0" r="6.15"/><circle cx="1320.2" cy="589.9" r="6.15"/><circle cx="1292.2" cy="601.5" r="6.15"/><circle cx="1294.5" cy="609.0" r="6.15"/><circle cx="975.0" cy="611.4" r="6.15"/><circle cx="977.4" cy="619.5" r="6.15"/><circle cx="990.2" cy="621.9" r="6.15"/><circle cx="1033.4" cy="611.8" r="6.15"/><circle cx="1082.4" cy="606.0" r="6.15"/><circle cx="1064.9" cy="621.4" r="6.15"/><circle cx="1174.6" cy="619.5" r="6.15"/><circle cx="1203.7" cy="623.5" r="6.15"/><circle cx="1245.7" cy="618.4" r="6.15"/><circle cx="1272.6" cy="611.4" r="6.15"/><circle cx="1618.9" cy="606.2" r="6.15"/><circle cx="1609.5" cy="616.0" r="6.15"/><circle cx="1635.2" cy="594.6" r="6.15"/><circle cx="1646.9" cy="597.8" r="6.15"/><circle cx="1644.6" cy="604.4" r="6.15"/><circle cx="1672.6" cy="592.2" r="6.15"/><circle cx="1684.2" cy="601.5" r="6.15"/><circle cx="1683.0" cy="609.0" r="6.15"/><circle cx="1740.2" cy="610.9" r="6.15"/><circle cx="1723.9" cy="617.9" r="6.15"/><circle cx="1764.7" cy="609.8" r="6.15"/><circle cx="1774.3" cy="619.4" r="6.15"/><circle cx="1824.6" cy="612.4" r="6.15"/><circle cx="2012.8" cy="610.9" r="6.15"/><circle cx="2032.0" cy="611.9" r="6.15"/><circle cx="749.2" cy="591.5" r="6.15"/><circle cx="799.9" cy="611.9" r="6.15"/><circle cx="569.4" cy="600.0" r="6.15"/><circle cx="569.4" cy="610.0" r="6.15"/><circle cx="583.4" cy="597.4" r="6.15"/><circle cx="572.0" cy="605.0" r="6.15"/><circle cx="588.0" cy="600.0" r="6.15"/></g><g fill="#62c6df" stroke="#000" stroke-width="1.75"><circle cx="355.9" cy="591.5" r="6.15"/><circle cx="431.7" cy="623.5" r="6.15"/><circle cx="494.3" cy="603.2" r="6.15"/><circle cx="560.0" cy="595.0" r="6.15"/><circle cx="620.8" cy="567.6" r="6.15"/><circle cx="619.7" cy="596.2" r="6.15"/><circle cx="628.4" cy="595.0" r="6.15"/><circle cx="633.1" cy="604.3" r="6.15"/><circle cx="676.3" cy="547.2" r="6.15"/><circle cx="720.6" cy="568.2" r="6.15"/><circle cx="721.8" cy="596.2" r="6.15"/><circle cx="840.8" cy="597.8" r="6.15"/><circle cx="853.7" cy="609.0" r="6.15"/><circle cx="864.2" cy="607.9" r="6.15"/><circle cx="832.7" cy="619.5" r="6.15"/><circle cx="828.0" cy="614.9" r="6.15"/><circle cx="879.3" cy="589.9" r="6.15"/><circle cx="898.0" cy="565.1" r="6.15"/><circle cx="874.7" cy="624.2" r="6.15"/><circle cx="853.7" cy="625.4" r="6.15"/><circle cx="660.0" cy="610.0" r="6.15"/><circle cx="700.0" cy="612.0" r="6.15"/><circle cx="735.0" cy="615.0" r="6.15"/><circle cx="690.0" cy="620.0" r="6.15"/><circle cx="760.0" cy="618.0" r="6.15"/></g><g fill="#66c866" stroke="#000" stroke-width="1.75"><circle cx="485.9" cy="590.3" r="6.15"/><circle cx="518.0" cy="581.0" r="6.15"/><circle cx="518.0" cy="589.2" r="6.15"/><circle cx="560.0" cy="564.2" r="6.15"/><circle cx="560.0" cy="579.8" r="6.15"/><circle cx="617.3" cy="560.0" r="6.15"/><circle cx="617.9" cy="563.5" r="6.15"/><circle cx="618.5" cy="579.8" r="6.15"/><circle cx="653.5" cy="593.8" r="6.15"/><circle cx="687.9" cy="557.7" r="6.15"/><circle cx="684.4" cy="557.7" r="6.15"/><circle cx="691.4" cy="583.3" r="6.15"/><circle cx="706.0" cy="583.3" r="6.15"/><circle cx="710.7" cy="589.8" r="6.15"/><circle cx="696.7" cy="599.7" r="6.15"/><circle cx="750.3" cy="595.6" r="6.15"/><circle cx="814.5" cy="602.0" r="6.15"/><circle cx="815.2" cy="602.0" r="6.15"/><circle cx="703.0" cy="602.0" r="6.15"/><circle cx="712.0" cy="608.0" r="6.15"/></g><g fill="#efa63e" stroke="#000" stroke-width="1.75"><circle cx="518.0" cy="567.0" r="6.15"/><circle cx="563.6" cy="558.1" r="6.15"/><circle cx="584.6" cy="557.0" r="6.15"/><circle cx="611.4" cy="543.7" r="6.15"/><circle cx="633.7" cy="558.8" r="6.15"/><circle cx="638.3" cy="561.2" r="6.15"/><circle cx="644.2" cy="560.0" r="6.15"/><circle cx="650.0" cy="555.3" r="6.15"/><circle cx="654.7" cy="550.7" r="6.15"/><circle cx="660.5" cy="558.3" r="6.15"/><circle cx="640.7" cy="564.7" r="6.15"/><circle cx="639.5" cy="571.7" r="6.15"/><circle cx="638.9" cy="578.1" r="6.15"/><circle cx="638.9" cy="585.7" r="6.15"/><circle cx="680.3" cy="534.3" r="6.15"/><circle cx="670.4" cy="541.3" r="6.15"/><circle cx="686.2" cy="572.3" r="6.15"/><circle cx="722.3" cy="576.9" r="6.15"/><circle cx="636.0" cy="553.0" r="6.15"/><circle cx="648.0" cy="563.0" r="6.15"/></g><g fill="#dc4541" stroke="#000" stroke-width="1.75"><circle cx="638.3" cy="550.7" r="6.15"/><circle cx="639.5" cy="546.0" r="6.15"/><circle cx="639.5" cy="541.3" r="6.15"/><circle cx="640.1" cy="535.5" r="6.15"/><circle cx="639.5" cy="529.7" r="6.15"/><circle cx="638.3" cy="525.0" r="6.15"/><circle cx="639.5" cy="519.2" r="6.15"/><circle cx="644.2" cy="515.1" r="6.15"/><circle cx="647.7" cy="513.3" r="6.15"/><circle cx="654.7" cy="520.9" r="6.15"/><circle cx="654.7" cy="512.8" r="6.15"/><circle cx="690.3" cy="523.8" r="6.15"/><circle cx="697.8" cy="518.0" r="6.15"/><circle cx="702.5" cy="512.8" r="6.15"/><circle cx="694.9" cy="511.0" r="6.15"/><circle cx="678.0" cy="510.4" r="6.15"/></g><g fill="#a03cd6" stroke="#000" stroke-width="1.75"><rect x="663.2" y="503.2" width="11.0" height="11.0"/></g>
</g>
<path d="M149.8 548.5H2035.0" stroke="#bebebe" stroke-width="4.4" stroke-dasharray="21.6 21.82" fill="none"/>
<path d="M149.3 489.7V658.2H2035.0" stroke="#000" stroke-width="2.3" fill="none"/>
<path d="M142 650.2H149.3" stroke="#333333" stroke-width="2.3"/>
<text x="61.80" y="663.80" font-family="'Liberation Sans',Arial,sans-serif" font-size="38.00" font-weight="bold" textLength="73.96" lengthAdjust="spacingAndGlyphs" fill="#4d4d4d">0.00</text>
<path d="M142 608.4H149.3" stroke="#333333" stroke-width="2.3"/>
<text x="61.80" y="622.00" font-family="'Liberation Sans',Arial,sans-serif" font-size="38.00" font-weight="bold" textLength="73.96" lengthAdjust="spacingAndGlyphs" fill="#4d4d4d">3.00</text>
<path d="M142 567.0H149.3" stroke="#333333" stroke-width="2.3"/>
<text x="61.80" y="580.60" font-family="'Liberation Sans',Arial,sans-serif" font-size="38.00" font-weight="bold" textLength="73.96" lengthAdjust="spacingAndGlyphs" fill="#4d4d4d">6.00</text>
<path d="M142 525.1H149.3" stroke="#333333" stroke-width="2.3"/>
<text x="61.80" y="538.70" font-family="'Liberation Sans',Arial,sans-serif" font-size="38.00" font-weight="bold" textLength="73.96" lengthAdjust="spacingAndGlyphs" fill="#4d4d4d">9.00</text>
<path d="M602.3 658.2v6.3" stroke="#333333" stroke-width="2.3"/>
<path d="M1092.0 658.2v6.3" stroke="#333333" stroke-width="2.3"/>
<path d="M1581.6 658.2v6.3" stroke="#333333" stroke-width="2.3"/>
<text x="170.11" y="526.70" font-family="Carlito,'Liberation Sans',sans-serif" font-size="45.03" font-weight="bold" textLength="201.65" lengthAdjust="spacingAndGlyphs" stroke="#000" stroke-width="0.6" style="font-kerning:normal">AFR GWAS</text>
<g transform="translate(37.2 406.65) rotate(-90)"><text x="-252.44" y="3.88" font-family="'Liberation Sans',Arial,sans-serif" font-size="37.50" textLength="21.76" lengthAdjust="spacingAndGlyphs">−</text><text x="-225.82" y="0.00" font-family="'Liberation Sans',Arial,sans-serif" font-size="39.00" font-weight="bold" textLength="56.34" lengthAdjust="spacingAndGlyphs">log</text><text x="-167.80" y="6.20" font-family="'Liberation Sans',Arial,sans-serif" font-size="25.30" textLength="27.78" lengthAdjust="spacingAndGlyphs">10</text><text x="-139.67" y="0.00" font-family="'Liberation Sans',Arial,sans-serif" font-size="46.00" textLength="14.32" lengthAdjust="spacingAndGlyphs" font-weight="normal">(</text><text x="-122.89" y="0.00" font-family="'Liberation Sans',Arial,sans-serif" font-size="39.00" font-weight="bold" textLength="24.87" lengthAdjust="spacingAndGlyphs">P</text><text x="-95.34" y="0.00" font-family="'Liberation Sans',Arial,sans-serif" font-size="46.00" textLength="13.56" lengthAdjust="spacingAndGlyphs">)</text></g>
<clipPath id="c3"><rect x="149.3" y="693.6" width="1885.7" height="167.8"/></clipPath>
<g clip-path="url(#c3)">
<g fill="#6ba0f2" stroke="#000" stroke-width="1.5"><circle cx="635.4" cy="852.8" r="5.5"/><circle cx="636.5" cy="852.5" r="5.5"/><circle cx="638.1" cy="852.2" r="5.5"/><circle cx="640.8" cy="853.5" r="5.5"/><circle cx="646.3" cy="844.0" r="5.5"/><circle cx="649.0" cy="852.2" r="5.5"/><circle cx="652.4" cy="848.8" r="5.5"/><circle cx="654.8" cy="841.6" r="5.5"/><circle cx="679.6" cy="853.2" r="5.5"/><circle cx="690.5" cy="851.5" r="5.5"/><circle cx="699.4" cy="849.4" r="5.5"/><circle cx="695.3" cy="839.2" r="5.5"/><circle cx="702.8" cy="842.0" r="5.5"/></g><g fill="#6ba0f2" stroke="#000" stroke-width="1.5"><circle cx="678.3" cy="837.9" r="5.5"/></g><g fill="#6ba0f2" stroke="#000" stroke-width="1.75" stroke-linejoin="miter"><path d="M669.8 818.8L680.7 829.7L669.8 840.6L658.9 829.7Z"/></g>
</g>
<path d="M149.3 693.6V861.4H2035.0" stroke="#000" stroke-width="2.3" fill="none"/>
<path d="M142 854.1H149.3" stroke="#333333" stroke-width="2.3"/>
<text x="61.80" y="867.70" font-family="'Liberation Sans',Arial,sans-serif" font-size="38.00" font-weight="bold" textLength="73.96" lengthAdjust="spacingAndGlyphs" fill="#4d4d4d">0.00</text>
<path d="M142 817.6H149.3" stroke="#333333" stroke-width="2.3"/>
<text x="61.30" y="831.20" font-family="'Liberation Sans',Arial,sans-serif" font-size="38.00" font-weight="bold" textLength="73.96" lengthAdjust="spacingAndGlyphs" fill="#4d4d4d">0.25</text>
<path d="M142 781.0H149.3" stroke="#333333" stroke-width="2.3"/>
<text x="61.80" y="794.60" font-family="'Liberation Sans',Arial,sans-serif" font-size="38.00" font-weight="bold" textLength="73.96" lengthAdjust="spacingAndGlyphs" fill="#4d4d4d">0.50</text>
<path d="M142 744.5H149.3" stroke="#333333" stroke-width="2.3"/>
<text x="61.30" y="758.10" font-family="'Liberation Sans',Arial,sans-serif" font-size="38.00" font-weight="bold" textLength="73.96" lengthAdjust="spacingAndGlyphs" fill="#4d4d4d">0.75</text>
<path d="M142 707.9H149.3" stroke="#333333" stroke-width="2.3"/>
<text x="61.80" y="721.50" font-family="'Liberation Sans',Arial,sans-serif" font-size="38.00" font-weight="bold" textLength="73.96" lengthAdjust="spacingAndGlyphs" fill="#4d4d4d">1.00</text>
<path d="M602.3 861.4v6.3" stroke="#333333" stroke-width="2.3"/>
<path d="M1092.0 861.4v6.3" stroke="#333333" stroke-width="2.3"/>
<path d="M1581.6 861.4v6.3" stroke="#333333" stroke-width="2.3"/>
<text x="169.91" y="741.90" font-family="Carlito,'Liberation Sans',sans-serif" font-size="45.03" font-weight="bold" textLength="185.65" lengthAdjust="spacingAndGlyphs" stroke="#000" stroke-width="0.6" style="font-kerning:normal">AFR SuSiE</text>
<g transform="translate(38.7 0) rotate(-90)"><text x="-808.63" y="0.00" font-family="'Liberation Sans',Arial,sans-serif" font-size="39.30" font-weight="bold" textLength="61.03" lengthAdjust="spacingAndGlyphs">PIP</text></g>
<clipPath id="c4"><rect x="149.3" y="897.0" width="1885.7" height="167.9"/></clipPath>
<g clip-path="url(#c4)">
<g transform="translate(0 1057.5) scale(.5)"><path d="M284-1l1-30 0 30 0-22 1 20 0 2 0-3 2-15 0 13 0-13 1 14 0 1 1-4 0-2 0-5 1-12 1 8 0 11 0-23 1 29 0 1 0-7 1-8 0 1 0 9 1-27 1 28 0-18 1 21 1-3 0-1 0-27 2 28 1-15 1 19 0-2 0 2 0 1 2-9 0-1 0-2 1 7 1-7 1 2 0 9 0-15 1 7 1-2 1 3 0-24 1 8 1 4 0-15 0 32 1 1 1-2 4 3 0 1 1-2 0-14 1 9 1 4 0-7 0-8 1 10 0-14 1 13 1-15 0 15 0 4 0 3 1-30 0 30 0-4 1-4 0-1 0 1 0 9 2-7 0 1 0-7 2-16 0 25 3-24 1 26 0-24 0 19 0-4 2 2 0 4 0-26 2 17 0 5 1-7 1 6 2-13 2 22 1-2 0-2 3-2 1-2 0 3 0 7 0-4 1-24 1 21 1 5 0-12 3-1 1 9 0 5 1-3 1-14 1 14 0-10 1 7 2 1 0-3 0 5 0-4 1 3 2-5 1 5 0-5 2 6 0 1 0-23 0 19 2 6 1-6 1 6 1-16 0 15 3-4 2-8 3 13 1-34 0 13 1 6 1 7 1-25 3 26 0-14 1 22 0-1 0 1 1-5 1 3 1-7 1 8 0-15 1 4 0-9 6 15 1-20 1 7 1 5 0 12 0 2 0-2 2-7 3 2 1 4 2 1 0-10 0-15 2 23 1-8 1-6 2 17 0-2 0-14 2 14 1-11 3-16 0 17 0 10 2-4 1 4 2-7 1 4 0 4 1-7 1-5 1 14 1-17 2-2 1 4 0 2 2 6 0-10 0 14 1 2 4-6 2 6 1-6 1 3 2 0 0 3 2 1 0-4 1-11 3 10 2-22 1 25 0-7 1 6 2-13 0 13 1-2 1-7 2 4 0 6 1-1 3 3 1-14 0-11 0 24 1-3 2 2 0-1 1-1 1 4 1-1 0-6 2 2 0-1 1-1 0 3 0-4 2 6 1-6 1 4 0-7 1 5 2 5 0 1 0-10 0-3 0 5 0 2 1-1 4 2 0 3 1-4 0 1 4-6 1 9 0 0 2-8 1 5 1-1 2 5 0 0 1-3 0 3 0-4 2 2 0-7 2 0 2 9 1-21 1 17 0 0 2 3 0 1 0-3 1 0 0 3 1-6 1 1 2 3 0-4 0 7 1-7 0 2 1 4 0-5 0 4 1-2 0-3 0 7 1-4 1 1 4-3 0 2 0 2 1 1 1 1 3-6 0 1 2-1 2 5 2-7 0 6 4-21 1 23 0-3 1 0 0 0 1 2 1-7 1 4 1-4 0-3 2-23 0 34 1-13 1-3 0 7 1 6 0-10 1 3 1 4 1-3 0 9 2-2 1-10 1 6 0-2 2 5 0-15 1 17 0-14 0-9 0 22 4-14 0 10 1-3 1 9 1-2 0-12 0 13 1-7 0 3 1-13 1 3 2-4 0 18 1-37 0 21 2 8 0-28 0 37 0-9 1 8 0-16 1 10 0 1 1 3 3 1 0-7 1 7 0-4 1-6 1 4 1 4 0-2 1-4 0 1 1 1 1 7 0-5 2-5 1-5 2 11 1-19 1 19 0-12 1-4 0 13 0-11 0 13 1 5 0-6 0-1 1 4 0 3 0-1 1 1 1 0 0-4 1-6 1 11 0-7 0-22 1 23 0 5 2-10 1 10 0 0 0-5 1-13 0 18 0 1 0-24 1 19 0 3 0 0 2 1 0-2 2-2 1-3 1-1 1 4 1-10 0 15 1 0 1-4 0-4 0-4 0 7 1 1 1-8 3 0 0 10 1-11 0-4 0 3 0 4 1 10 0-8 1 7 0-6 2 6 1 0 0-17 1 13 1 1 1-19 4 21 0 0 0-1 1-5 0 6 1 1 0-5 1 1 0 0 1 4 2 0 0-1 0-3 1-14 0 18 1-1 0-3 2-5 1-17 1 7 0 9 0 10 1 1 0-11 1-15 2 22 0-12 2 15 0-11 1 9 0-16 0 5 4-2 0 15 2-10 0 4 0 1 2 3 0-5 0-4 2 11 1 0 1-2 1-6 1 4 1 1 1 0 1-2 0-2 1 1 0 1 1 6 1-1 2 0 0-2 1-15 1 4 0 11 0-2 2-3 0 1 0-2 1 9 0-8 1 7 1-8 0-2 1 2 0 8 1-5 0 4 1-4 0-16 0 19 1-9 2 7 1 1 0-3 0-2 0 7 1-12 0 6 2 6 1-21 1 6 0 13 1 4 0-12 2-9 0 13 2-1 1-20 0 27 0-13 0 9 1 5 0-17 1 9 1-31 1 25 2 14 0-41 0 25 0 15 0-5 2-4 1 6 0 2 1-1 0-10 0-17 1 19 0-7 1 15 0-9 0 5 1-31 3 38 3-7 1 6 2-12 0-4 1 14 1-21 1 13 0-3 1 14 3-8 3 8 1 0 0-12 1 13 0-7 1-9 2 8 0 2 1 6 1-2 1-25 0 22 0-4 2 7 0-3 0-1 0 5 3-2 0 3 1 0 1-17 0 10 0 4 1-4 0-15 1 20 5-4 1 2 1 2 1-5 2-8 0 12 1-18 0 10 2 6 1-10 1-13 2 5 0 21 0-19 0 7 0 10 1-3 1 6 3-12 0 11 0-1 1-14 1 4 4 1 0-9 0 17 1-11 0 8 2 7 1-1 1-25 0-3 0 24 1-1 0 5 0-3 0-5 1-30 1 38 1-10 0 10 2-5 2 1 1 0 0-6 2-8 0 17 1-1 0-5 1 0 3 3 0 2 1-6 1 4 0-28 1 22 3-8 1 1 1 18 1-1 0-1 0-16 1 17 0 1 1-11 0 9 3-5 2 5 1-16 2 14 2 1 1-4 1-2 2 2 0 4 0-2 1-7 0 9 1-4 0-4 0 1 2-7 1-4 0 16 0-25 2 27 0 2 0-6 0 6 1-20 2 16 1 0 0 3 2-9 2 9 3 1 0-4 1 4 0-19 0 14 0-4 1 6 1-6 1 7 0-3 3 3 0 3 0-15 0 12 0-1 1-20 1 21 2-2 1-3 2 2 1-1 4-1 0 5 1 3 1-1 0-34 0 27 1 5 3 1 0 2 1-2 1-10 1-23 1 18 0 11 0-1 1-4 1 4 0-24 1 29 1 1 3-8 0 6 1-20 0 19 0-4 2 2 0 6 0-3 2-12 3 11 1-9 0 10 2 3 1-6 2 0 1 2 1 1 2 2 0-5 4 5 2-3 2-3 1-2 0 0 0 5 2 1 1-7 1-12 0-2 1 21 0-6 2 3 2 3 0-17 0 4 1 9 0 3 1-1 0 1 1-13 0 15 0 1 1-4 1-1 1 4 1 2 2-22 0 21 1-2 0-19 1 19 0-5 1-20 2 25 1-1 1 2 1-6 1 0 0-2 1 6 1 0 1-4 0 7 2-2 0-2 0 4 1-16 1 8 0 4 0-1 1 6 1-28 0 21 2 4 0-12 1 11 1-2 1-4 0 2 1 2 0-6 1 3 0 4 0-10 2 1 0 5 1-2 1-2 0 10 0-23 2 23 1-7 0 2 2 2 0 4 1-8 0 3 0 4 1-2 1 4 0-10 0 2 1 9 2-14 1 12 1-17 0 18 0-11 0 9 0-3 0-10 1 13 1 1 0 1 0-11 0 2 2 6 0-20 1 14 0-7 0 3 0 4 1 2 0 7 1 0 1-10 0 7 1 0 0-29 3 19 0 0 2 11 1-22 1 7 3 14 1 3 0-16 0 17 1-14 2-22 0 9 1 20 2-5 0 3 1 7 1-13 1-4 0 19 1-2 0-4 1 0 0-8 2 11 2-7 1 4 0 5 2-1 0-3 0 1 0-20 2 24 2-28 0 11 1 14 1 2 0-1 3 0 2-5 1 6 0-3 1 2 0 0 1 0 0-3 1 4 1-3 1 3 0-35 0 35 1-6 0 4 0-4 1-1 0-1 2-7 1 7 0 8 3-32 1 28 1-1 1 5 0-14 1 7 0-2 2-11 1 19 1-17 0 14 0 4 0-1 1-13 1 15 0-5 2-6 1 6 0 4 0-16 1 17 0-3 1-2 0-21 0 20 1 5 1-5 2-7 1 2 0-2 5 13 1-1 0-1 0-2 5-16 0 15 1 0 0-8 1 11 1-30 2 8 2 22 1-2 1-11 1 5 0-6 0 11 0 0 0-10 1 13 1 0 0-1 2 1 1-1 0-1 0-5 0 0 2 4 1 3 2-4 1 5 2 0 0 0 1-1 1 1 1 0 0-1 1 1 2-6 0 5 1 1 0-1 0-2 0-13 1 14 0 0 0 0 2-8 1 8 0-2 0 4 0-6 0 5 1-5 0 5 1-2 2 4 1-2 0 1 3-5 2 3 1 1 0 1 1-5 0-4 1-6 0 14 1-1 0 0 0-5 1-9 1 14 1 1 0-1 1-2 1 4 2-9 1 5 0-1 1 2 0-7 0 11 1-5 1 3 1 2 1 0 0-3 1-9 1 12 0-1 0-5 1-7 0 10 2 2 1-1 2-2 0-12 3 16 1-1 1 1 1-1 0-9 1 4 0 5 1 0 0-3 1-4 0-6 0 12 1-4 1-8 0 5 0 7 1-2 1-9 0-3 1 15 1-10 1 8 1 3 0-9 0 2 0 1 1 3 0-4 2 5 0-4 0 6 1-1 0-3 1 2 1 1 0-10 0 5 1-6 0 6 1-5 1 7 1 2 0 1 0-3 1-4 1-6 1 8 2 2 1 4 0-7 0-2 0 2 0 4 3-1 0-2 1 3 1-6 0 6 0 3 0-3 1-9 1 4 0 5 0-1 1 1 0-3 1 5 0-2 0 2 4 1 1-2 0-2 2 1 1 2 1-4 0-2 0 4 1 3 0-5 3 3 1 2 1-9 0 8 1-2 1-2 0 4 1-3 1 2 0 0 1-3 0 1 1 1 0-2 0 4 1-3 0-2 1-1 2 6 0 0 0-2 0 2 1-13 0 7 1 0 1 1 1-3 0 0 1 5 0 2 1 2 0-1 4-13 0 14 1-10 0-2 0 12 3-11 1 3 0 3 0 3 1-3 1 2 0-4 0 3 2-5 1 4 1 2 0 3 2-19 1 15 1-13 1 3 1-1 0-7 2 20 0 0 3-1 1-4 0 4 0-8 0 8 1-2 1 4 0-14 1 12 0-1 1-9 0 11 1 2 0-20 0 16 0-3 2 1 1-11 0 11 1 4 0 1 1 0 0-2 3-7 0-3 3-20 3 31 1-8 0-1 1 10 0 0 1-4 1-10 0 15 0-5 1 0 0-9 0-11 1 22 0-28 1 6 0 13 0-17 1 17 1 10 0-29 0 0 1 30 2 0 0-5 0 3 0-22 0 23 2-13 0 15 0-6 0-24 1 15 1 8 0-25 1 21 0 4 2 1 0-1 1-15 1-5 1 24 3-5 0-7 1 15 1-4 0 2 2-7 0-8 0 15 2 2 1-19 2-11 1 24 0-4 1 2 3-52 0 51 1-62 0 66 1-3 0 6 1 1 0-1 0-6 0-5 1 8 2-10 1 4 0 10 0 0 1-23 1 23 0-15 1 5 0 5 1 1 0 3 1-2 0 3 0 1 1-10 0 3 3 7 0-5 1 0 1-6 0-4 3 0 1 15 1-3 0-2 0 2 0-2 1 0 0 0 0 4 0-8 1 6 2-8 1 8 0-11 0 3 1-4 0 13 1 1 1-20 0 21 1-3 0 1 0-11 2 10 3-1 0 4 0-3 1-58 0 59 2 1 1-1 1 2 0-5 0 0 1-70 0 67 0 3 1 2 1-2 0-5 2-1 0 8 0-5 1 7 1-16 1 14 0-7 1 8 3 1 0-1 1-9 1 9 1-9 1-10 0 13 0 3 0 4 0-1 1 0 0-1 0 1 0-2 1 0 1 3 1-1 1 0 2 0 1 2 0-1 0-4 2-4 0 5 0-16 2 16 0 3 0-68 0 54 1 5 2 4 1-1 1 3 0 4 0-1 1-3 0-5 0 3 1 1 0 3 1 1 0 1 0 0 1-9 0 2 3 4 1-9 0 12 0-70 1 69 1-7 0 6 1-4 1 2 0 1 0-4 1 7 0-5 1 4 1-12 0 4 1 8 0 1 0-2 0-7 2-4 1 10 0-3 1 5 0-25 0 22 1-15 1 10 0-3 0-15 1 21 0-7 2-18 3 30 0-11 2 5 2 5 0 2 0-6 0-1 1 2 0 4 1 1 4-33 1 21 0 4 0-1 1 6 0 2 0-12 1 11 0-2 0-5 1 6 1-19 2 21 1-1 2-12 1-5 2 17 0 1 1-1 0-1 0-18 1 18 1-2 5-14 1 10 0-2 0 0 0-2 0 7 2 6 0-14 1 0 0 12 1-9 1 0 1 4 1 0 0 6 0-12 2 7 0 3 0-23 0 25 1-5 0 5 0-3 0-9 1 9 0 1 1-3 0 4 0-14 1 14 0-3 0-24 1 23 0-6 1 12 0-2 1-4 0 0 1-5 0 4 1 6 0-6 1 7 0-17 1 1 0 6 1-3 3 9 1 4 2-2 0-2 0 1 0 3 0 0 1-1 0-26 1 25 0-23 1 2 0 16 1 1 2 1 0-11 0 16 0-2 1-7 0 2 1-19 1 22 0-5 0-4 1 12 1 1 1-4 0 0 1-4 0-7 0 9 0 2 1 2 0-27 1 17 1 5 1-7 1 12 0-13 5 8 2 0 1-13 0 11 1 6 0-1 0-9 0 0 2 13 0-11 0 4 1 3 1-1 0-1 1-19 0-1 0 21 1-3 1 6 0-4 1 4 0-7 0 5 1-4 3 0 1 3 0-19 1 18 0-4 1-3 0 6 0 5 2-2 0-26 2 27 0-32 1 32 1-1 2-10 0 12 0 2 0-9 1-6 1-17 1 27 1 4 0-10 1 6 0 3 1-1 0-6 0 9 1-15 0 9 0-1 1 0 0-1 1 7 0-6 1-16 1 23 3-3 1-11 1 10 1-4 1 4 1-23 1 26 1-16 0 15 0 0 1-13 1 12 0-13 0 3 1 11 0 0 1 1 1-12 1 13 0-22 0 19 0-5 2 2 0-16 1 20 0-31 0 12 0 20 1-1 1 0 1-7 1 3 0-14 1 14 0-14 3 15 0-3 2 8 1-3 0-3 0-5 1 10 0-27 1-5 0 22 1 3 0-10 0 13 0-21 0 14 1 4 1-7 0 6 0 8 1-12 1 7 1-4 2 0 1-14 0 19 0-4 2 7 0 1 1-12 2 6 0-13 1 4 0 16 1-18 0 4 0 11 1-1 1-9 0-14 1 26 1-8 1 3 1 2 0 4 0-14 1-13 3 24 0-1 0-10 3 14 0-9 1-9 0 9 0-8 0 16 1-6 0 7 0-1 0-23 3 20 1-1 2 5 1-6 0-20 1 11 1 12 0 0 0 1 2-20 1 8 1 0 2 11 2 1 0 0 2-14 0 5 0 9 2-6 0-6 0 10 1-6 0 6 0-11 0 10 1-1 0-9 1 14 1-11 0 5 1-5 0 5 1 4 0-1 1 1 1-6 0-10 0 0 0 16 0 2 1-6 1-15 0 16 0 6 2-14 0 8 1-20 0 13 1 4 0 6 0-5 1-18 0 26 1-2 1-5 1 6 0-11 0-14 0 15 1 8 0 0 0-5 2-20 0 14 0 13 0-2 1-5 0 2 1-7 0 7 3 5 1 0 0-5 1-7 0 1 2-1 1 11 1-7 0-11 1 18 1-3 0 2 0 1 1 2 1-8 0-17 0 21 2-1 0-2 0 5 1-13 1 5 0 0 0 6 1-1 0 1 1-6 3 7 1-12 1 10 1 2 1-7 1 7 1 1 1 1 1 0 0-6 1 5 0 1 1-6 1 0 0 6 1-9 2 5 0-8 1 7 0-13 0 17 1 0 0-2 1-7 0-2 0 12 2-2 0-5 1 3 0-16 0 18 1-9 0 3 1 6 1 1 1-2 0-3 1-11 3 14 1-4 1 3 3 5 0-17 0 7 1 1 1 3 0-8 0 11 0-3 0 6 1-8 1 0 0 2 1 5 1-3 2-15 0 14 1-2 0 6 1-3 0-9 1 10 1-2 0 3 1 1 0-4 1-2 0 2 0-12 0 16 1-8 1 8 0-10 0 7 1-1 0 4 1-3 0-2 1 1 1 4 0 0 1-6 0 7 1-9 1 8 0-4 0-10 0 11 0-5 0-4 1-9 0 8 0 1 1 10 0-6 0 1 1 1 1 3 0-4 1 7 0-2 0 3 0-4 1-3 0 6 1-1 0 1 0-5 2 6 2-1 0-2 0 2 0-1 0 0 1 1 0 0 1-3 0 2 0-15 0 11 0-14 2 16 1-6 0 4 2-3 1 2 1 4 1-3 2 1 1-18 0 23 1-7 1 6 1 1 0-1 1-22 0 19 0-1 2-12 0 15 1-3 0-1 2 2 2 0 1-18 1 13 1 7 0-4 0 4 0-2 1-4 0 8 0-11 3 8 1-4 1 7 1-1 0-1 1 2 1-4 0-7 1 4 0 7 1-2 2 2 0-13 0 7 3 5 1-1 1-1 1 2 2-1 0-3 1-1 1 6 1-3 0 2 1 1 0-2 1-2 0 3 1 0 0 1 1 0 0-2 0 2 0-1 0-1 2 1 1-6 0 7 1-5 1 3 3-3 1 1 1 3 1 1 0-3 0 3 1-3 0 1 2 1 1 1 1 0 0-8 1 4 1 2 1-28 0 22 0 6 1 1 0 0 1-4 0 4 1-1 1-1 2 1 0-38 0 40 1-2 0-7 2 5 0 3 1-6 0 4 0-1 2-52 0 53 0 1 1 1 1-1 0 0 0-2 1 1 0 1 0-1 1-4 0 4 1-1 0 4 1-2 1 0 1 1 0-4 0-1 1-48 0 53 0-2 1 2 0 0 5 0 1-47 1 46 1-2 1-1 2 2 1-2 0 5 1-1 0 0 0-1 0-1 0-25 2 24 0-58 1 62 0-4 0 0 2-4 0-53 0 53 1 6 3 0 2 2 0-3 1-4 2 6 1 0 0-6 0 7 1-3 1 0 0 3 0 0 2-1 1 1 2 0 0-3 0 0 1 1 0 0 0-3 1 1 2-4 0 0 0-9 1 4 0 2 0-2 0 11 1-17 3 17 2-9 1 11 1-1 0 0 0-3 1-4 1 8 1-6 1-8 0 13 2-1 1 0 0-7 0 5 0 2 1-3 0 2 1 2 1-12 1-5 1 9 1 5 0 2 1-11 2 1 2 9 0 0 2 2 0-1 1-1 0 0 1 3 3-4 0 2 2 2 0-3 1 0 0 2 1 1 1-6 0 2 1 4 1-1 0 1 1-1 0 1 1-2 0 2 0-2 0-4 0 1 1 3 1 0 0 0 1 2 0-1 1-2 0 0 1 2 0 0 3-3 0 2 0-5 2 4 1 0 0 2 0 0 2-1 0-2 1-10 0 1 2 9 1 2 0 1 0-5 0-1 2-5 0 6 0 5 0-2 0 3 2-15 1 14 1-3 0 0 0 4 0-2 2-6 0 7 0-1 1-3 1-2 0 5 1 0 0-3 0 3 1 1 1-3 0 2 0 2 2-1 0-5 1-4 1-3 0 12 1-1 2-2 1-2 1 4 0 0 0-1 1-1 0-10 1 7 0 6 1 1 1-3 2 2 0-5 0-7 1 12 0 1 0-11 1 11 0-1 1 0 1-7 1 5 1-1 0 2 1 2 1-8 1 6 0-1 0-9 3 11 1-7 1 7 0-2 1-4 2 5 1-7 2 8 1-5 0-3 1 5 0 3 0-4 1 3 1-1 0 1 1-3 2 3 0 0 0-2 1 1 0-6 1 9 0-1 0-1 0-4 0 5 2-1 0 1 1-4 1 0 1 5 0-1 0-1 1 2 0-4 0 3 0-3 2-5 2 6 1 1 1-4 0-9 0 4 1 1 0 9 0 0 0-4 0 3 1-1 1-2 0-1 0-4 1 9 3-4 0 4 0 0 1 0 0-15 0 15 2-4 2-6 1 10 0 1 0-10 0 6 2 2 1 0 0 0 0-2 0 3 2 0 0-15 1 13 1 2 0-3 1 3 0-5 0-11 2 13 0-10 3 12 0-2 3-4 0 6 1 2 0-8 1 1 0 1 3-25 1 30 1 0 0-12 1 7 1-12 1 15 0 0 0-7 0 6 0-3 0 3 0-32 3 23 0 10 0 3 0-4 1 3 0-23 1-13 0 25 0 7 0-5 2 9 1 1 0-18 1-1 1 10 1-35 1 39 1-33 1 19 0 8 2-10 1-7 0-5 1 26 1-1 0-12 2-8 0 12 1 12 2 3 1 0 3-4 0-4 1-3 4 11 1-33 1 14 0-3 0 14 0 6 1-11 2-3 1 12 1 4 0-4 0-29 1 34 0 0 0-7 0 2 1-8 0 7 1-3 4 5 1-3 1 7 1-6 0-16 1 18 1-8 0 0 1-5 0 7 2-10 0 9 1 7 2-3 1 1 2 0 0-3 2 0 0 8 0-2 0 2 0-4 2-5 1 1 0-12 0 20 2-4 0 2 0-17 0 9 1-3 1 11 1 0 0 1 1-1 4-17 1 19 2-31 1 17 0 13 0-2 1-6 2-7 0 15 1-1 1-8 0 3 0-14 1 17 1-2 0-11 3 12 1 2 1-4 0-31 1 9 1 25 0-10 0 4 0 9 1-10 2-2 1 12 0 0 1-1 4-2 0-7 2 10 0-5 0-25 0 2 1 17 0 9 1 2 1-9 0 1 1 4 0 5 0-5 0 1 0 4 3-7 2 2 0 0 0 5 2-33 0 18 4 11 1-31 1 21 2 15 0-4 1 4 0-27 0 23 0-22 0 13 1 1 1 2 0 7 2-26 0 15 3 11 3-7 0 5 0-10 1 7 1-15 1 21 2-29 1 1 1 28 1-3 1-2 0-12 1 15 1 3 1-4 0 5 0-3 1-7 1 0 2 1 0 8 0-14 1 5 0 6 1-2 2 3 0-22 1-4 0 28 1-4 0-23 1 20 0-2 1 4 1 5 0 0 2-8 4-24 0 20 0 2 0 2 1 0 0 6 1 3 0-11 1 8 1 2 1-3 0 3 0-16 3-12 0 26 1-3 2 3 2 2 0-2 0-3 0-5 0-5 2-5 1 21 3-13 2-6 0 18 1-29 0 25 0 1 1-9 1 13 0-7 0-27 0 21 1 6 1 2 0-3 0 7 1-11 0 5 2-17 0 14 1-4 1 13 1-7 0 5 0-5 1-5 0 10 1-10 0-5 1 17 1-13 0 10 0 1 0-19 1 15 1 4 1-23 2 21 1 5 0-1 0-12 2 1 0-4 1 15 0-4 2 4 1-27 0 16 0-17 0 29 1-4 0 2 1-19 1 17 0-2 0-6 2 5 0-15 2 21 0-13 1 11 0 2 2-16 2 17 1-8 0 6 0 1 1-5 1-25 1 21 0 6 1 2 1-14 0 4 1 11 1-21 0 19 2 1 1 1 1-4 0 1 0-5 3-6 2 14 0-6 0-18 1 25 0-7 0 3 1 0 0-3 0 0 1 3 1-2 0 2 1-12 0 10 2 6 0-11 1 6 1 0 1-2 1-11 1 10 0 5 2-10 1-1 2-3 1 1 0 9 0-18 0 24 2-11 0 3 1-5 1 11 3 1 2-3 1 5 0-3 0-20 0 16 0 5 1-6 0 4 1 1 1-1 1-4 1 3 0 2 2-1 0 3 0-7 1-2 0-1 1 2 0 8 4-14 0-14 2 19 2 4 0-1 2 6 1-3 0-19 0 23 1 0 0-1 1-3 0 4 1-7 0-17 1 9 2 9 0-2 1-23 0 23 0 6 1-11 1 9 0 2 0-2 1-5 0 7 1-1 0 1 1 0 0-7 1-5 0 4 2 10 0-6 1-3 0 2 1 7 0-31 0 10 1 21 1-10 1-16 0 21 3 4 2-7 0-9 0 15 2 2 0-1 1 0 0-14 1 14 0-7 1 3 0-4 3 5 0-18 0 11 0 3 2 7 1 0 0 0 1-13 0-21 1 23 0 12 0-3 1-3 2 0 0 6 0-8 1 3 1 1 0-3 0 5 1-1 1 1 0 0 1 1 1-3 1 2 0-3 1-16 2 20 2-6 0 2 1 2 1-21 1 16 0-25 2 31 0-14 1 6 0 9 3-9 0 4 2-19 1 21 0 3 2-5 0 4 2-5 1 2 1 1 1-8 1 1 1-5 1 10 1 6 1-9 3-4 0 7 1-5 2 10 1 1 0-9 2-8 1 14 0-2 1-30 1 34 0-10 1 4 0 5 1-2 0-2 0 3 0-17 1 16 0 2 1-3 1-5 1 7 1-19 1 14 1-22 2 5 1 13 1 5 5-4 2 4 1-4 0 1 1-6 0 14 0-2 0 1 1-17 0 2 0 4 3 5 1 9 1-10 1-1 1-21 1 15 1-2 0 5 0-16 0 20 1-1 0-32 1 37 0-6 0-15 0 11 0 14 0-1 3-10 0 1 0-1 1 8 0 3 1-29 1 27 0-20 0 17 2-33 0 40 0-15 1 14 0-19 1 6 3 11 0-5 0-27 1 31 1 1 1-3 3-25 0 22 0-6 0 15 1-3 0-3 0 4 2 1 0-38 0 32 2-10 0 9 0 7 1 0 3-6 3 4 1-8 0 7 1-2 1-31 1 34 0-5 3-19 1 26 0-35 1 14 1 10 0 10 1-7 2-31 0 37 0-2 3-20 1 22 0-33 1 35 0-40 1 39 1-14 0 10 0 3 2 1 1-19 0-9 2 22 1-18 0 11 0 0 1 3 0 5 1-3 0 5 0-17 0 13 0 0 1 7 1-39 0 20 1-6 0 22 2-4 1-28 4 31 1-9 1 10 1-39 0 38 0 1 1 2 0-9 1-15 2 26 0-3 1 2 0-8 0-5 1-9 0 18 1-10 0 3 0 4 1 4 0-12 0 17 1-2 1-19 1 18 2-13 0 4 1 10 0-1 1-8 0-1 0 3 0-4 1 4 0-22 1 27 1-11 0-24 4 24 0 11 1-37 3 28 0 13 1-16 0 7 0-4 0 0 1-8 0 8 3 12 0-30 1 11 0 13 1 4 0-20 1 21 0-21 1-6 0 9 2 6 1-7 4 6 1-3 0 17 5-2 0-2 0-2 2 6 2-17 1 9 2 2 1 4 1 0 1-11 1 14 2-9 1-8 1-26 1 34 0 0 2 4 0-1 1-5 0-25 1 24 1 5 1-3 0 6 1 1 1-3 0-7 1 10 0-24 2 16 0-5 1-15 1 19 1-9 0 11 1 7 0-20 1 23 2-17 0 14 0-9 0-10 1 6 0 12 4 0 0-24 0 25 0 1 0-4 2-4 1-17 0-13 1 14 0 22 0 3 3-13 0 7 0-27 2-10 1 33 3-9 1-1 2 13 0-3 0-9 1 15 1 4 1-6 1-6 0-4 0 7 0-6 2 7 0-2 1 4 1 6 0-12 1 3 0 4 0-21 1 22 0-14 0 11 1 3 0-1 1 5 0-14 1-2 1-1 1 6 1 11 1-16 1-5 3 17 0-8 0 1 0-26 2 19 0 13 0-6 2 11 1-2 1-9 0 7 1-11 0-10 2 25 2-1 0-4 1-6 4 10 1-2 0 3 2-9 3-2 0-7 1 17 1 0 2-4 2-4 0 8 1-15 0 11 0-16 1 16 0-27 3 20 2-18 1 25 0 0 1-8 0 9 0-9 0-1 1 3 1 8 2-17 1 6 0 12 3 0 0-5 0 4 0 3 1-4 1-4 0-9 1 13 0-3 0 6 1-11 0-17 2 26 0 1 0-9 1 2 3 5 0-15 1 16 0-24 1 15 0 8 0-17 0 16 0 0 1 3 1-7 0 8 0-7 1-3 2 8 1-23 2 3 2 23 0-3 1-2 1-8 0 14 1-7 2-23 1 5 1-5 1 30 4-13 0 12 1-39 0 22 0 18 1 0 0-6 0-15 1-21 1 32 0 10 1-12 6 12 0-2 0-16 0 18 5-6 0-4 0-28 0 31 1-19 0 7 0 17 2-49 1 43 0-4 4 12 0-2 1-12 0 4 0-42 1 42 0-31 1 19 0 11 1 4 1-5 1 4 0-5 0-1 1 10 0-4 1-39 3 23 0 18 1-1 0-42 1 37 0 8 1-17 1 9 1-1 0 5 0-21 0 8 0 16 2-11 0-16 0 21 0-1 1 6 1 6 2-5 0-18 0 16 1 6 1 1 1-16 0-5 1-23 0 37 0 5 1-20 0 15 1-29 3 31 1-8 0 8 2-47 0 28 1 22 1-26 0 22 0 4 1-21 0 18 1-46 0 49 0-21 1 18 0-19 2 23 2-2 1-44 0 45 1-6 2-9 1-15 1 18 0-17 1 26 0-3 0-28 1 16 0 12 1 2 2-7 0-42 1 46 1-7 1 16 0 0 1-11 1-9 1 17 2-10 3 1 1 11 2-48 0 25 0 24 0-1 1-20 0 17 2-21 0 2 1 14 0 8 1-10 1 7 1-1 0-16 1 7 0-19 1-14 0 37 0 0 1 0 3 2 1-13 1 10 0-41 1 36 2-13 1 22 0-47 1 29 2 24 0-17 1-8 0 22 4 0 2 3 0-29 1 22 1-5 0-1 0 5 1-11 1 7 1-14 0 9 0 4 0 2 0 11 0-4 3-19 0 2 0 11 7 7 3-33 1 36 1-1 1-2 1-5 0 1 1-3 1 5 0 1 0-11 2 4 1 11 1-40 0 25 0 12 1-16 0 7 0-1 1 14 0 0 1-1 0-36 2 24 0 11 0 1 2 0 1-3 3-38 0 34 2 6 0-14 1 3 2 4 1 5 0 3 3-24 1 18 0-7 1 4 1-8 1 10 2-14 0 9 0-14 1 14 3 7 2 2 0-20 1 19 1-13 0 12 1-2 0-38 0 45 1-20 0 11 2 7 0 3 0-8 1-5 0 11 2 2 0-4 0 1 0-12 1-1 0 14 1-6 2-3 1-19 2 28 0-16 1 15 1-3 0 2 3-1 1-11 0-2 0 17 1-11 0 0 0 11 0-45 2 37 1 6 0-3 1 5 1-30 0 30 0-5 2-5 0-6 0-3 1 17 1 0 2 2 0-7 1-3 0 9 1-7 2 8 0-18 0-7 1 17 0-3 0 4 1 8 0-4 1-18 0 11 0-7 1 17 0-19 0-3 0 13 1-19 0 11 0 16 1-7 0-28 0 34 0-5 2 6 0-5 0-7 1 6 0-3 1 4 0-17 1-10 1 30 1-16 1 14 0-4 2-13 1 12 1 6 0-12 0 5 1-18 1 25 0 4 0-5 1-12 0 17 1-11 0 10 1-1 1-24 0 16 0 5 1 6 0-13 0-20 1 13 1-4 0-8 1 31 1-7 1 7 1 0 0-2 1 1 1 0 1-7 1 8 1-14 0 2 1-19 0 29 1-2 2 4 1-1 1-28 2 12 0 12 2 6 3-9 0-2 0 7 2 3 1-1 2-17 1 10 1-8 1 0 0 9 0-4 2 7 2-24 0 2 1 21 1-12 1 4 0 1 0 9 1-41 0 44 0-10 0 1 1-4 2-16 0 23 2-18 1 15 0 5 3 5 1-18 1 1 1-5 1-14 0 35 1-12 0 10 1 2 1-29 0 29 1-5 0-17 0 8 1-29 1 33 0 6 0-14 0-5 0 18 1-2 1 1 1 4 0-19 3 4 0 13 0 4 1-11 1 8 0-1 0 5 0-7 1-35 1 40 1-11 1 8 1-9 1 1 0 9 1-21 1 14 0-7 0 10 2-2 0 8 4-22 0 24 0-17 0 0 1 14 1-12 3 1 2 11 1-14 2 9 0 7 1-5 1 1 8-9 2-24 0 12 1-6 0 3 1 27 2 1 0-1 2-9 0 1 2-9 0 13 0-14 1-7 0 26 1-10 2 7 1 2 0-13 0 15 1-16 0 7 1-3 0-23 1 11 0 23 3-2 0 2 1-13 0 3 0 8 0-16 0 19 0-2 2-2 0 3 1-2 0-4 1 5 3-20 1 19 0-7 1 9 0-10 0 3 0-7 1 14 0-2 1-21 0 21 1-6 0 5 1-1 1-4 5-6 1 2 0 7 0-6 1-6 4 11 1-2 0-1 0 7 1-7 0 6 2-6 1 8 3-16 2 16 3 1 1 0 1-2 0 2 0 1 1-2 0 2 0-1 0 0 1-2 3-3 0-8 0 13 0-3 0 0 1 0 1-13 1 16 1-17 1 5 0 12 0-1 0 2 1-2 0 1 1 1 0 0 0-11 1 4 0-7 1 8 0 2 1-7 0 10 1-21 1 13 1 7 0-2 1 3 1-22 1 23 0-6 2-17 1 18 0 2 0-9 2 11 1-10 2 4 1 1 0-5 0 5 0-7 1 12 0-11 0 12 0-4 1 1 1-1 0-7 0 10 1-11 1-13 0 24 1-2 1 1 0-11 1 12 0-7 1 6 1-6 0 7 1-4 1 0 1-6 1 3 0 4 3-1 0-18 1 14 0 6 0 1 1 1 1 1 1-11 0-17 0 21 1-9 0 15 0-8 1 4 0 4 2-22 0 19 0 2 1-1 0-10 0 6 1 3 0-6 0 3 0 6 4 0 0-13 1 10 0-11 1-9 0 23 1-6 1 1 1-30 1 35 1 0 1-7 1-16 0 19 1 2 0 2 2-7 5-8 0 2 1-7 2-10 1 10 0 20 1-5 1-16 1 16 0-12 1-6 1 16 0 4 3-24 1 14 0 13 0-6 2-1 2-7 1 10 1-4 0-2 0 7 0-3 0-12 0 18 1-5 1 2 2 4 2-4 1-5 1-12 0 9 0 5 0 5 0-8 1-8 1 17 1 1 0-2 0-3 0 4 1-11 0-6 1-15 0 30 1-10 1 12 1-10 0 7 0-1 0 5 1-13 0 5 0-1 2 0 1-7 0 4 0-14 1 15 0 10 0 1 3-10 1-15 1 25 1-6 2 5 0-8 1-3 1 7 0 1 0-6 2 6 0 3 3 0 1-4 1-18 0 18 0 3 0 0 3-1 0-6 2-11 0 10 1 3 1-7 1 11 2 0 0-18 1 9 0 12 1-4 1 3 0-3 0-15 3 15 0-8 1 5 1-7 0 2 1 6 1-9 0 2 1 7 0-17 0 22 1-3 1 0 1-3 0 6 1-2 0 3 2-3 0 0 1-6 1 9 1 0 1-2 1-3 1-15 1 16 1-23 1 27 1-23 0 18 0-22 1 27 1-2 1-4 1 1 1-5 0 5 1-5 2-2 1 5 2 4 2-27 1 26 0 2 1-2 0-21 1 21 1-3 0-15 1 12 2-2 0 12 1 0 0-7 0-3 1 4 0-1 1-8 1-8 0 17 0 4 1-10 0 12 0-4 1-5 1 1 0 8 0-26 1 15 3-10 0 17 1 3 0-12 3 5 0 7 0-6 0 5 2-8 0 2 1 3 0-18 0-5 1 19 0-17 1 14 3 10 0-10 0 11 1 1 0 0 0-3 1-9 2 9 0-2 0-17 0-5 0-1 1 19 0-2 1-5 0 2 2 7 0-2 0 6 1 2 1-7 2 6 0 1 1-11 1 9 0-3 0-5 2 1 0 5 2 2 0-2 1-3 0 4 0 0 1-12 0 14 1-6 3-15 0 15 1 6 0-21 0 22 1-4 0-6 0 10 0 0 0-6 1-8 0 12 0-1 1 2 0-4 1 6 0-14 0 10 1 2 0-23 1 14 0 11 0-13 1-9 0 17 1-5 1-14 1 15 1 8 2-5 0 4 1-19 0 20 0-5 0 6 1-7 0 5 0 1 1 0 0 0 1 0 0-2 3-8 0 10 2-3 2 1 1 2 0 0 0-17 0 15 2-16 0-4 1 17 0-4 1 7 0 0 0-16 1 13 0 4 1-8 1-2 1 12 2-2 0 0 1-2 0-10 1-8 0 0 2 15 1-5 1-3 1 8 0-4 0-7 0 15 1 0 0-6 4-8 0 16 2-21 1 5 0-6 1 22 1-7 0-1 3-1 0 9 0-2 1-8 0-4 0 7 1 7 2-5 0 5 1 1 1 0 0-1 0 0 1 1 0-1 0 0 2-22 1 20 0 2 0-2 1-7 0 5 0-11 2-6 0 9 1 7 2-1 0 6 0 1 0-1 1 1 1-7 0-7 1 9 1-17 0 17 0 2 1-4 0 1 1-5 2 6 0 4 2-3 0 0 1-4 1-2 0 9 0-2 1-10 1 13 0-12 0 3 1 3 0-14 1 18 0-20 1 19 1-6 1 6 0-4 2-14 1 17 1 0 1 3 2-3 0-3 1-16 1 18 0-12 1 4 0-5 1 15 1-7 0 3 1 3 1-6 3 8 0-3 0-10 0 9 2 2 1-1 2 2 0 2 1-2 0-8 0 6 1 3 2 0 0-3 2-3 0 8 0-3 1-1 0-9 1 11 1-13 1 4 0 3 1-4 0 1 0 9 3-7 1-18 2 1 3 25 1-3 2 1 1 1 1-12 1 7 1-15 2 15 1-56 1 18 0 30 1 7 0 7 0-7 1 2 1-46 0 51 3-2 0-8 1 9 0 1 1-15 0-34 1 41 0-31 2 26 1 12 0-2 0-50 0 50 1-2 0-23 0 17 0 9 1-2 1 2 0-2 1 0 1-4 0-44 1 45 1 4 2 0 1-33 0 4 0 33 1-58 1 51 1 5 0-64 1 63 0-8 0-20 0-19 1 37 0 4 0 6 2-12 0-41 1 3 3 49 1-37 1 39 2-73 0 68 0 4 1 1 1 0 0-25 0 19 0-28 0-15 0 30 1 7 0 2 1-36 1 47 1-15 0 4 0-12 2 8 0 14 2-36 0 25 3-22 0 27 1-8 0 12 1 1 1-3 1 0 0 3 0-17 0 14 1 2 0-8 0-3 0-1 1 2 0-5 1-12 0 24 1-10 0 3 1 6 1 0 0 6 1-11 2 11 1-28 0 28 2-6 0 7 1-3 1-1 0 3 0 0 1-2 1-25 0 17 0-1 1-5 0 14 1-12 0-19 0 27 2 5 1-20 0 4 1 6 3 10 0-10 1 3 0-2 0 10 0-4 1-34 1 35 0-5 0-9 1 12 1-14 0 1 2 14 2-9 1-13 0 25 1-11 1-32 0 43 1-25 0 20 0 0 1-33 1 37 0-4 0 7 0 0 1-42 1 28 0 14 1-13 3 14 2-17 0 13 1-17 3-50 1 67 0 4 1-45 1 43 0-7 4-21 0 24 1-3 0-53 1 58 0-7 1 11 1-5 0-42 1 35 1 11 0-11 0-6 2-17 1 32 0-20 1 11 0-1 0-23 1 30 1 6 1-15 1 3 0 6 1 3 2 2 0-1 1-2 1 3 1-3 1-10 0 12 0-29 0 27 0 4 0-27 1 26 0-76 1 77 0-12 1-1 1-7 0-29 1 38 0-10 4 16 0 3 0 1 0-13 1-40 0 40 1 10 1-14 0 9 1-28 1 27 1 7 0 2 1 1 0-18 0 11 0 2 1-13 0 4 1 6 0-8 1-4 1 20 0-9 1 1 0 7 0-4 1 4 0-2 2 0 1 3 0-2 1-16 0 10 1 4 1-6 0 8 1-16 1 13 0 3 1-5 1 6 0-14 1 5 1 10 2-5 3-14 1 16 1-3 1-3 0-13 0 2 1 9 1 4 0-23 2 27 0 1 1-15 0 14 1 3 0-26 0 24 1 0 0-1 1-65 0 48 1-13 1 30 3-3 1-18 1 21 1-54 0 46 1-59 1 62 2-1 1 5 0-14 2 4 0-9 1-20 0 15 0 24 1 2 0-25 0 7 0 6 0 0 1-15 0 20 1-22 2 31 0 0 1-60 0 60 1-3 0-3 1-29 1 16 1 7 1 4 0-6 0 6 0-12 0 2 0-9 1-3 3 24 0-3 1-3 1 2 1 7 1-1 1-17 2 7 0-2 1 11 0 0 1-29 1 31 0-2 1 1 2-4 0 3 1 3 0-4 1-7 0 3 0 10 1-8 0-1 1 8 1-15 1-7 0 22 2-15 0 9 1 0 2-6 3 9 0-6 2 8 1 1 0-20 4 7 1 8 0 5 0-6 0 6 1-1 1-1 0-5 1-23 1 30 2-21 1 14 1 8 0-8 0-4 1 6 0-10 0 1 2 0 0 8 0-9 1 4 0 4 0-12 2 1 2 11 0 4 1-2 1-7 1-15 0 19 0-10 3 13 0-1 1-5 1 2 1 3 0 6 1-1 2-28 0 29 1 0 0-2 0-2 1-1 0 4 0-15 3 10 1 3 0-2 1-26 1 20 3 9 1-12 0-16 0 8 1 21 0 0 0-7 1-11 0 9 1 2 1-10 1 16 1-1 2-34 3 28 2 9 0-4 1 0 1 0 0 0 0-1 1-5 0 2 1-8 2 14 1-8 1 4 0-4 3 4 1 3 0-5 0 5 1-15 0 2 1-2 0 18 0-25 1 8 1 13 0 5 0-45 1 44 1-2 0-2 1-25 0 17 1-21 0 32 0-19 1-24 2 1 0 40 0 2 0-13 0-2 0 16 1-2 0-37 1 36 1-2 0-2 0-5 1 9 0 4 1-2 0-20 0 16 1 3 1-22 1 23 1-6 0 8 1-15 0 1 1 13 0-1 0-6 1 0 2-37 0 20 0 0 0 20 1-33 0 34 1-5 1 4 0-11 1 14 0-8 0-22 0 32 0-9 1 1 0 3 1-16 1 18 0 2 3-26 2 17 1-13 1 3 0 5 0 7 1-3 0-6 1-18 0 12 1 17 2 0 0-10 0-6 0 20 4-9 2-10 1 10 0 6 1 1 1 2 0-28 1 20 0 8 0 2 1-22 0 15 6 3 0 4 1 0 1-12 1-15 1 24 1-4 0-22 1 20 1-18 1 17 0 8 0-5 1 3 1-28 1 28 0 4 3-1 1-13 0 9 0-7 1 12 0 0 2-26 0 21 0-3 0 8 1-9 0 8 0-8 1-2 2-3 1-8 0 18 0-7 1 2 2 7 1 0 0-40 0 42 1-39 1 38 0-23 0 15 0-12 2 19 1-16 1 7 0 9 1-28 1 23 0 5 1-4 1 2 0 0 2 1 0-16 0 12 0 5 3-27 1 19 2 0 1-8 0 6 0 9 1-9 1 11 0-15 1 6 1-9 0-10 0 22 2-2 0 8 1-20 1 6 1-22 0 14 2 21 1-27 0 26 1 2 0-1 1-3 2-8 2 7 1-2 0 3 3-23 1 24 0-9 1 8 2 3 0 1 0-31 1 25 1-10 1 5 1 11 0-13 1 3 1 8 1 3 1-3 0-16 2 17 0-3 0-3 1 6 0-7 1-7 0 15 1-9 0-8 0 4 0 2 2 12 2-7 0 5 2-2 0 2 1-11 0 4 1-19 0 25 2-13 0 6 2 9 0-28 2 16 0 9 1-16 1 8 1-3 2 8 0-8 1 3 3 2 1 5 3-12 0 12 1 0 0 1 1-3 0 3 1-8 0 3 1 9 1-4 0-11 4 8 0-3 2 3 0 4 1 2 0-2 0-6 2 4 2 4 2-2 0-3 0-7 1 10 1-4 0 5 1-12 0 13 0-21 1 11 0 10 0 0 1-4 0-8 1-5 0 14 1-15 1 4 0 12 0-1 1 3 0 1 1-9 1-11 0 2 0 11 1 6 0-3 1-5 0 5 1-5 0 6 0-5 0 4 1 3 0-17 2 2 1 11 0 1 1 3 0-8 1 4 0 1 0 2 1 0 1-3 0 4 1-5 1 6 3-13 4 11 1-1 0-21 1-2 0 16 2 4 1-7 0-14 1 26 2-12 0 12 1-7 0-9 0 14 1 1 1-3 1 4 0 1 1-1 1-3 0 2 1-16 0 0 1-12 2 18 0 8 0-13 1 11 0-8 0 9 1-16 0 18 0-2 1-2 0 0 0 3 1-3 0 5 2-32 0 18 0-11 0 27 0-13 1 7 0-23 2 18 0 5 0-5 1 7 0 0 3-25 1 25 1-27 1 18 0-6 0 7 3 11 0-2 0-5 0-15 1 20 0-3 1 5 0-8 0 8 1-8 0 1 2 7 0-1 1 2 0-11 2 2 0 8 0-15 1-13 1 18 0-4 1 14 0 1 1-21 0 19 0-14 0 12 1 3 3-5 0 3 0-10" fill="none" stroke="none" marker-start="url(#mb)" marker-mid="url(#mb)" marker-end="url(#mb)"/></g><g fill="#4e8ccb" stroke="#000" stroke-width="1.75"><circle cx="413.0" cy="1020.0" r="6.15"/><circle cx="421.2" cy="1022.4" r="6.15"/><circle cx="291.7" cy="1028.9" r="6.15"/><circle cx="200.7" cy="1032.9" r="6.15"/><circle cx="541.4" cy="1024.2" r="6.15"/><circle cx="546.0" cy="1030.5" r="6.15"/><circle cx="588.0" cy="1026.6" r="6.15"/><circle cx="604.4" cy="1026.6" r="6.15"/><circle cx="598.6" cy="1040.6" r="6.15"/><circle cx="560.0" cy="1035.9" r="6.15"/><circle cx="638.5" cy="1016.5" r="6.15"/><circle cx="656.0" cy="1015.4" r="6.15"/><circle cx="670.0" cy="1013.0" r="6.15"/><circle cx="680.5" cy="1011.9" r="6.15"/><circle cx="685.2" cy="1014.2" r="6.15"/><circle cx="695.7" cy="1023.5" r="6.15"/><circle cx="670.0" cy="1023.5" r="6.15"/><circle cx="662.0" cy="1020.0" r="6.15"/><circle cx="690.0" cy="1019.0" r="6.15"/><circle cx="604.7" cy="1025.9" r="6.15"/><circle cx="763.4" cy="1034.0" r="6.15"/><circle cx="773.9" cy="1028.2" r="6.15"/><circle cx="791.4" cy="1030.5" r="6.15"/><circle cx="812.4" cy="1035.2" r="6.15"/><circle cx="829.9" cy="1030.5" r="6.15"/><circle cx="840.4" cy="1053.9" r="6.15"/><circle cx="850.9" cy="1055.0" r="6.15"/><circle cx="946.6" cy="1041.0" r="6.15"/><circle cx="1354.7" cy="1024.2" r="6.15"/><circle cx="1456.2" cy="1020.7" r="6.15"/><circle cx="1529.7" cy="1027.5" r="6.15"/><circle cx="1259.0" cy="1034.0" r="6.15"/><circle cx="1112.0" cy="1035.9" r="6.15"/><circle cx="1094.5" cy="1035.2" r="6.15"/><circle cx="1654.8" cy="1027.7" r="6.15"/><circle cx="1605.3" cy="1030.5" r="6.15"/><circle cx="1710.8" cy="1038.4" r="6.15"/><circle cx="1723.9" cy="1042.0" r="6.15"/><circle cx="1756.0" cy="1022.9" r="6.15"/><circle cx="1750.0" cy="1026.5" r="6.15"/><circle cx="1774.0" cy="1031.5" r="6.15"/><circle cx="1787.0" cy="1015.8" r="6.15"/><circle cx="1788.2" cy="1022.9" r="6.15"/><circle cx="1800.0" cy="1014.6" r="6.15"/><circle cx="1807.3" cy="1012.2" r="6.15"/><circle cx="1819.2" cy="1017.0" r="6.15"/><circle cx="1829.2" cy="1002.0" r="6.15"/><circle cx="1831.0" cy="1013.4" r="6.15"/><circle cx="1820.4" cy="1027.7" r="6.15"/><circle cx="1859.7" cy="1030.0" r="6.15"/><circle cx="1875.0" cy="1024.1" r="6.15"/><circle cx="1891.8" cy="1030.5" r="6.15"/><circle cx="1899.0" cy="1018.6" r="6.15"/><circle cx="882.0" cy="1030.0" r="6.15"/><circle cx="887.0" cy="1024.0" r="6.15"/><circle cx="893.0" cy="1022.0" r="6.15"/><circle cx="900.0" cy="1026.0" r="6.15"/><circle cx="906.0" cy="1028.0" r="6.15"/><circle cx="912.0" cy="1024.0" r="6.15"/><circle cx="885.0" cy="1034.0" r="6.15"/><circle cx="897.0" cy="1032.0" r="6.15"/></g><g fill="#efa63e" stroke="#000" stroke-width="1.75"><circle cx="1269.5" cy="981.5" r="6.15"/><circle cx="1371.0" cy="988.5" r="6.15"/></g><g fill="#a03cd6" stroke="#000" stroke-width="1.75"><rect x="1241.2" y="942.2" width="11.0" height="11.0"/></g>
</g>
<path d="M149.8 955.7H2035.0" stroke="#bebebe" stroke-width="4.4" stroke-dasharray="21.6 21.82" fill="none"/>
<path d="M149.3 897.0V1064.9H2035.0" stroke="#000" stroke-width="2.3" fill="none"/>
<path d="M142 1057.5H149.3" stroke="#333333" stroke-width="2.3"/>
<text x="61.80" y="1071.10" font-family="'Liberation Sans',Arial,sans-serif" font-size="38.00" font-weight="bold" textLength="73.96" lengthAdjust="spacingAndGlyphs" fill="#4d4d4d">0.00</text>
<path d="M142 1015.6H149.3" stroke="#333333" stroke-width="2.3"/>
<text x="61.80" y="1029.20" font-family="'Liberation Sans',Arial,sans-serif" font-size="38.00" font-weight="bold" textLength="73.96" lengthAdjust="spacingAndGlyphs" fill="#4d4d4d">3.00</text>
<path d="M142 974.0H149.3" stroke="#333333" stroke-width="2.3"/>
<text x="61.80" y="987.60" font-family="'Liberation Sans',Arial,sans-serif" font-size="38.00" font-weight="bold" textLength="73.96" lengthAdjust="spacingAndGlyphs" fill="#4d4d4d">6.00</text>
<path d="M142 931.9H149.3" stroke="#333333" stroke-width="2.3"/>
<text x="61.80" y="945.50" font-family="'Liberation Sans',Arial,sans-serif" font-size="38.00" font-weight="bold" textLength="73.96" lengthAdjust="spacingAndGlyphs" fill="#4d4d4d">9.00</text>
<path d="M602.3 1064.9v6.3" stroke="#333333" stroke-width="2.3"/>
<path d="M1092.0 1064.9v6.3" stroke="#333333" stroke-width="2.3"/>
<path d="M1581.6 1064.9v6.3" stroke="#333333" stroke-width="2.3"/>
<text x="168.89" y="932.50" font-family="Carlito,'Liberation Sans',sans-serif" font-size="45.03" font-weight="bold" textLength="199.98" lengthAdjust="spacingAndGlyphs" stroke="#000" stroke-width="0.6" style="font-kerning:normal">EAS GWAS</text>
<g transform="translate(37.2 813.65) rotate(-90)"><text x="-252.44" y="3.88" font-family="'Liberation Sans',Arial,sans-serif" font-size="37.50" textLength="21.76" lengthAdjust="spacingAndGlyphs">−</text><text x="-225.82" y="0.00" font-family="'Liberation Sans',Arial,sans-serif" font-size="39.00" font-weight="bold" textLength="56.34" lengthAdjust="spacingAndGlyphs">log</text><text x="-167.80" y="6.20" font-family="'Liberation Sans',Arial,sans-serif" font-size="25.30" textLength="27.78" lengthAdjust="spacingAndGlyphs">10</text><text x="-139.67" y="0.00" font-family="'Liberation Sans',Arial,sans-serif" font-size="46.00" textLength="14.32" lengthAdjust="spacingAndGlyphs" font-weight="normal">(</text><text x="-122.89" y="0.00" font-family="'Liberation Sans',Arial,sans-serif" font-size="39.00" font-weight="bold" textLength="24.87" lengthAdjust="spacingAndGlyphs">P</text><text x="-95.34" y="0.00" font-family="'Liberation Sans',Arial,sans-serif" font-size="46.00" textLength="13.56" lengthAdjust="spacingAndGlyphs">)</text></g>
<clipPath id="c5"><rect x="149.3" y="1100.7" width="1885.7" height="168.3"/></clipPath>
<g clip-path="url(#c5)">
<g fill="#4cc44c" stroke="#000" stroke-width="1.75" stroke-linejoin="miter"><path d="M1246.5 1105.4L1257.4 1116.3L1246.5 1127.2L1235.6 1116.3Z"/></g><g fill="#4cc44c" stroke="#000" stroke-width="1.5"><circle cx="1269.3" cy="1260.1" r="5.6"/></g>
</g>
<path d="M149.3 1100.7V1269.0H2035.0" stroke="#000" stroke-width="2.3" fill="none"/>
<path d="M142 1261.1H149.3" stroke="#333333" stroke-width="2.3"/>
<text x="61.80" y="1274.70" font-family="'Liberation Sans',Arial,sans-serif" font-size="38.00" font-weight="bold" textLength="73.96" lengthAdjust="spacingAndGlyphs" fill="#4d4d4d">0.00</text>
<path d="M142 1224.1H149.3" stroke="#333333" stroke-width="2.3"/>
<text x="61.30" y="1237.70" font-family="'Liberation Sans',Arial,sans-serif" font-size="38.00" font-weight="bold" textLength="73.96" lengthAdjust="spacingAndGlyphs" fill="#4d4d4d">0.25</text>
<path d="M142 1187.7H149.3" stroke="#333333" stroke-width="2.3"/>
<text x="61.80" y="1201.30" font-family="'Liberation Sans',Arial,sans-serif" font-size="38.00" font-weight="bold" textLength="73.96" lengthAdjust="spacingAndGlyphs" fill="#4d4d4d">0.50</text>
<path d="M142 1151.2H149.3" stroke="#333333" stroke-width="2.3"/>
<text x="61.30" y="1164.80" font-family="'Liberation Sans',Arial,sans-serif" font-size="38.00" font-weight="bold" textLength="73.96" lengthAdjust="spacingAndGlyphs" fill="#4d4d4d">0.75</text>
<path d="M142 1115.2H149.3" stroke="#333333" stroke-width="2.3"/>
<text x="61.80" y="1128.80" font-family="'Liberation Sans',Arial,sans-serif" font-size="38.00" font-weight="bold" textLength="73.96" lengthAdjust="spacingAndGlyphs" fill="#4d4d4d">1.00</text>
<path d="M602.3 1269.0v6.3" stroke="#333333" stroke-width="2.3"/>
<path d="M1092.0 1269.0v6.3" stroke="#333333" stroke-width="2.3"/>
<path d="M1581.6 1269.0v6.3" stroke="#333333" stroke-width="2.3"/>
<text x="168.77" y="1144.40" font-family="Carlito,'Liberation Sans',sans-serif" font-size="45.03" font-weight="bold" textLength="182.79" lengthAdjust="spacingAndGlyphs" stroke="#000" stroke-width="0.6" style="font-kerning:normal">EAS SuSiE</text>
<g transform="translate(38.7 0) rotate(-90)"><text x="-1215.98" y="0.00" font-family="'Liberation Sans',Arial,sans-serif" font-size="39.30" font-weight="bold" textLength="61.03" lengthAdjust="spacingAndGlyphs">PIP</text></g>
<clipPath id="c6"><rect x="149.3" y="1304.1" width="1885.7" height="168.1"/></clipPath>
<g clip-path="url(#c6)">
<g fill="#6ba0f2" stroke="#000" stroke-width="1.5"><circle cx="635.4" cy="1463.0" r="5.5"/><circle cx="636.5" cy="1462.7" r="5.5"/><circle cx="638.1" cy="1462.4" r="5.5"/><circle cx="640.8" cy="1463.7" r="5.5"/><circle cx="646.3" cy="1454.2" r="5.5"/><circle cx="649.0" cy="1462.4" r="5.5"/><circle cx="652.4" cy="1459.0" r="5.5"/><circle cx="654.8" cy="1451.8" r="5.5"/><circle cx="679.6" cy="1463.4" r="5.5"/><circle cx="690.5" cy="1461.7" r="5.5"/><circle cx="699.4" cy="1459.6" r="5.5"/><circle cx="695.3" cy="1449.4" r="5.5"/><circle cx="702.8" cy="1452.2" r="5.5"/></g><g fill="#6ba0f2" stroke="#000" stroke-width="1.5"><circle cx="678.3" cy="1448.1" r="5.5"/></g><g fill="#6ba0f2" stroke="#000" stroke-width="1.75" stroke-linejoin="miter"><path d="M669.8 1428.3L680.7 1439.2L669.8 1450.1L658.9 1439.2Z"/></g><path d="M149.7 1461.6L152 1462L155 1460.5L158 1463.5L165 1462.8L172 1461.5L180 1461.8L183 1462L184 1456.3L185.5 1456.3L186.5 1463.5L200 1463.6L248 1462.5L249 1460L250 1463L252 1460L254 1463L258 1463L258.6 1454.8L259.5 1463.5L262 1463.5L270 1463L273.2 1463L273.7 1450.2L274.6 1463.3L280 1463L281 1420.8L282.2 1420.8L283 1463L285 1462L286 1463.5L300 1463.5L315 1463L318.7 1460L321 1463L328 1463L330.8 1455L332 1462L336 1462.5L343 1463L345.4 1441L348 1439.5L351.5 1441L354 1463.5L400 1463.5L440 1462.5L465.7 1463L471 1445.8L479 1445.8L484 1463.5L530 1463.8L585 1462.5L590 1461L600 1461.5L606 1463.5L614 1463L615.3 1455.2L617 1455.2L617.8 1434.1L618.5 1455L620 1463L622 1463L623.5 1455L625 1455L625.9 1463L634.7 1455L635 1407.6L637.3 1407.6L644.6 1416L644.6 1463.4L660 1463.5L675 1463.5L679.5 1463.5L680 1444.7L680.5 1463.5L700 1463.5L710.3 1461L717.8 1433.8L720.8 1327L723 1325.7L724.9 1327L727 1463.5L740 1463.5L743 1461L745.2 1459.4L747 1463L753 1462L756.8 1459L759 1463.5L770 1463.5L800 1463.8L850 1463.5L865 1463L869 1458L871.9 1455.2L875 1458L878 1463.5L892.9 1463.5L903.4 1427.9L916.2 1427.9L916.2 1463.5L926.7 1459.8L927.9 1436.5L929 1463.5L934 1463L935 1455L937 1455L938 1463.5L950 1463.5L953 1458L954 1463.5L960 1463L963 1461L968.7 1463L968.7 1435.4L975.7 1435.4L976 1443.5L988.6 1443.5L991 1457.5L994.4 1457.5L996 1463.5L1010 1463L1014 1460L1016.5 1463L1017.7 1419.5L1019 1463.5L1024 1463L1026.6 1448.2L1028 1463.5L1030 1460L1032.4 1423.2L1033.5 1463.5L1045 1463.5L1049 1463L1050.4 1408.5L1051.4 1463L1053.9 1452.9L1055 1463.5L1070 1463.5L1080 1463.5L1090 1463L1094 1460L1095.7 1454L1098 1454.5L1099 1463L1108 1463L1110.8 1457L1112 1463.5L1127 1463.5L1128.8 1442.8L1130 1463.5L1140 1463.5L1168 1463L1169.9 1456L1171 1463.5L1195 1463.5L1197 1459L1199 1463.2L1201 1455L1204 1454L1206 1459.4L1221.2 1459.4L1223 1463.5L1240 1463.5L1260 1462L1264 1461L1265.6 1407.4L1267 1463.5L1275 1463.5L1282 1460L1288 1461L1292 1463.5L1305 1459L1308 1453L1311 1463.5L1318 1457L1322 1452L1325 1463.5L1335 1463.5L1360 1463.5L1390 1462.5L1404 1461L1407.2 1417.4L1411 1417.4L1413 1427.2L1418 1427.2L1419.4 1463.5L1422 1463L1422.9 1448.7L1423.8 1463.5L1440 1463.5L1447 1458L1449.2 1455L1452 1463.5L1466 1463L1470 1459L1471.9 1449L1473 1463.5L1500 1463.5L1525 1463.5L1528 1459L1531 1446.6L1536.7 1446.6L1538 1463.5L1543 1463.5L1544.5 1383L1545.6 1381.2L1547 1400L1548 1440L1549 1441.7L1550 1463L1551 1441.7L1552.5 1463L1560 1463.5L1563 1459L1564.3 1454.5L1565.5 1463.5L1572 1463L1574 1448.7L1575.5 1463L1592 1463.5L1593.5 1459L1595 1463.5L1600 1463.5L1602 1439L1606 1446L1610 1452L1613 1462.9L1617 1461L1621 1458L1622.2 1389.5L1625 1440L1627.5 1458L1630 1458L1647 1458.5L1651 1455L1654.2 1453.9L1658 1455L1662 1458L1670 1460L1685.8 1462.9L1700 1462.5L1705.3 1460L1710 1462L1720 1462L1745 1461L1751.5 1454.7L1754 1461L1760 1464L1768.5 1464L1785.5 1451.9L1800 1458L1805 1458L1807 1463.5L1825 1463.5L1827 1426.4L1831 1426.4L1833 1463L1850 1463.5L1870 1462.5L1872 1395.5L1876 1395.5L1879 1462L1881.5 1449L1883 1464L1900 1464L1940 1463.5L1960 1463L1980 1464L1999 1464L2000 1349.8L2004 1349.8L2006 1463.5L2015 1462.5L2020 1462L2027.4 1457L2035 1463" fill="none" stroke="#000" stroke-width="1.5" stroke-linejoin="round"/><g fill="#4cc44c" stroke="#000" stroke-width="1.75" stroke-linejoin="miter"><path d="M1246.7 1309.4L1257.6 1320.3L1246.7 1331.2L1235.8 1320.3Z"/></g><g fill="#e8706c" stroke="#000" stroke-width="1.75" stroke-linejoin="miter"><path d="M1828.8 1308.1L1839.7 1319.0L1828.8 1329.9L1817.9 1319.0Z"/></g>
</g>
<path d="M149.3 1304.1V1472.2H2035.0" stroke="#000" stroke-width="2.3" fill="none"/>
<path d="M142 1464.5H149.3" stroke="#333333" stroke-width="2.3"/>
<text x="61.80" y="1478.10" font-family="'Liberation Sans',Arial,sans-serif" font-size="38.00" font-weight="bold" textLength="73.96" lengthAdjust="spacingAndGlyphs" fill="#4d4d4d">0.00</text>
<path d="M142 1428.1H149.3" stroke="#333333" stroke-width="2.3"/>
<text x="61.30" y="1441.70" font-family="'Liberation Sans',Arial,sans-serif" font-size="38.00" font-weight="bold" textLength="73.96" lengthAdjust="spacingAndGlyphs" fill="#4d4d4d">0.25</text>
<path d="M142 1391.6H149.3" stroke="#333333" stroke-width="2.3"/>
<text x="61.80" y="1405.20" font-family="'Liberation Sans',Arial,sans-serif" font-size="38.00" font-weight="bold" textLength="73.96" lengthAdjust="spacingAndGlyphs" fill="#4d4d4d">0.50</text>
<path d="M142 1354.7H149.3" stroke="#333333" stroke-width="2.3"/>
<text x="61.30" y="1368.30" font-family="'Liberation Sans',Arial,sans-serif" font-size="38.00" font-weight="bold" textLength="73.96" lengthAdjust="spacingAndGlyphs" fill="#4d4d4d">0.75</text>
<path d="M142 1319.0H149.3" stroke="#333333" stroke-width="2.3"/>
<text x="61.80" y="1332.60" font-family="'Liberation Sans',Arial,sans-serif" font-size="38.00" font-weight="bold" textLength="73.96" lengthAdjust="spacingAndGlyphs" fill="#4d4d4d">1.00</text>
<path d="M602.3 1472.2v6.3" stroke="#333333" stroke-width="2.3"/>
<path d="M1092.0 1472.2v6.3" stroke="#333333" stroke-width="2.3"/>
<path d="M1581.6 1472.2v6.3" stroke="#333333" stroke-width="2.3"/>
<text x="168.47" y="1345.70" font-family="Carlito,'Liberation Sans',sans-serif" font-size="45.03" font-weight="bold" textLength="401.69" lengthAdjust="spacingAndGlyphs" stroke="#000" stroke-width="0.6" style="font-kerning:normal">EUR+AFR+EAS SuSiEx</text>
<g transform="translate(38.7 0) rotate(-90)"><text x="-1419.28" y="0.00" font-family="'Liberation Sans',Arial,sans-serif" font-size="39.30" font-weight="bold" textLength="61.03" lengthAdjust="spacingAndGlyphs">PIP</text></g>
<path d="M2034.6 1304.1V1472.7" stroke="#000" stroke-width="2.3" fill="none"/>
<path d="M2034.6 1464.7H2041.7" stroke="#333333" stroke-width="2.3"/>
<text x="2047.00" y="1478.30" font-family="'Liberation Sans',Arial,sans-serif" font-size="38.00" font-weight="bold" textLength="21.13" lengthAdjust="spacingAndGlyphs" fill="#4d4d4d">0</text>
<path d="M2034.6 1425.1H2041.7" stroke="#333333" stroke-width="2.3"/>
<text x="2047.18" y="1438.70" font-family="'Liberation Sans',Arial,sans-serif" font-size="38.00" font-weight="bold" textLength="42.27" lengthAdjust="spacingAndGlyphs" fill="#4d4d4d">20</text>
<path d="M2034.6 1385.8H2041.7" stroke="#333333" stroke-width="2.3"/>
<text x="2047.92" y="1399.40" font-family="'Liberation Sans',Arial,sans-serif" font-size="38.00" font-weight="bold" textLength="42.27" lengthAdjust="spacingAndGlyphs" fill="#4d4d4d">40</text>
<path d="M2034.6 1346.4H2041.7" stroke="#333333" stroke-width="2.3"/>
<text x="2047.11" y="1360.00" font-family="'Liberation Sans',Arial,sans-serif" font-size="38.00" font-weight="bold" textLength="42.27" lengthAdjust="spacingAndGlyphs" fill="#4d4d4d">60</text>
<path d="M2034.6 1306.8H2041.7" stroke="#333333" stroke-width="2.3"/>
<text x="2047.29" y="1320.40" font-family="'Liberation Sans',Arial,sans-serif" font-size="38.00" font-weight="bold" textLength="42.27" lengthAdjust="spacingAndGlyphs" fill="#4d4d4d">80</text>
<g transform="translate(2137.6 0) rotate(90)"><text x="1310.46" y="0.00" font-family="'Liberation Sans',Arial,sans-serif" font-size="37.50" font-weight="bold" textLength="156.40" lengthAdjust="spacingAndGlyphs">Rec Map</text></g>
<g transform="translate(2097.2 0) rotate(90)"><text x="1316.14" y="0.00" font-family="'Liberation Sans',Arial,sans-serif" font-size="37.50" font-weight="bold" textLength="140.92" lengthAdjust="spacingAndGlyphs">(cM/Mb)</text></g>
<path d="M149.3 1507.7V1807.2H2035.0" stroke="#000" stroke-width="2.3" fill="none"/>
<path d="M602.3 1807.2v6.3" stroke="#333333" stroke-width="2.3"/>
<text x="584.87" y="1838.20" font-family="'Liberation Sans',Arial,sans-serif" font-size="22.60" font-weight="bold" textLength="35.09" lengthAdjust="spacingAndGlyphs" fill="#4d4d4d">5.2</text>
<path d="M1092.0 1807.2v6.3" stroke="#333333" stroke-width="2.3"/>
<text x="1074.59" y="1838.20" font-family="'Liberation Sans',Arial,sans-serif" font-size="22.60" font-weight="bold" textLength="34.19" lengthAdjust="spacingAndGlyphs" fill="#4d4d4d">5.4</text>
<path d="M1581.6 1807.2v6.3" stroke="#333333" stroke-width="2.3"/>
<text x="1564.18" y="1838.20" font-family="'Liberation Sans',Arial,sans-serif" font-size="22.60" font-weight="bold" textLength="34.98" lengthAdjust="spacingAndGlyphs" fill="#4d4d4d">5.6</text>
<text x="896.83" y="1877.80" font-family="'Liberation Sans',Arial,sans-serif" font-size="36.50" font-weight="bold" textLength="390.37" lengthAdjust="spacingAndGlyphs">Chromosome 11 (Mb)</text>
<text x="592.92" y="1551.50" font-family="'Liberation Sans',Arial,sans-serif" font-size="32.56" font-weight="bold" font-style="italic" textLength="124.43" lengthAdjust="spacingAndGlyphs">OR51V1</text>
<rect x="652.30" y="1552.30" width="5.00" height="24" fill="#000"/>
<text x="781.34" y="1551.50" font-family="'Liberation Sans',Arial,sans-serif" font-size="32.56" font-weight="bold" font-style="italic" textLength="85.69" lengthAdjust="spacingAndGlyphs">HBE1</text>
<rect x="821.35" y="1553.45" width="4.70" height="21.70" fill="#f0b9b9" stroke="#000" stroke-width="2.3"/>
<text x="1054.41" y="1551.50" font-family="'Liberation Sans',Arial,sans-serif" font-size="32.56" font-weight="bold" font-style="italic" textLength="130.44" lengthAdjust="spacingAndGlyphs">OR51M1</text>
<rect x="1116.50" y="1552.30" width="5.00" height="24" fill="#000"/>
<text x="1343.11" y="1551.50" font-family="'Liberation Sans',Arial,sans-serif" font-size="32.56" font-weight="bold" font-style="italic" textLength="133.55" lengthAdjust="spacingAndGlyphs">UBQLN3</text>
<rect x="1406.85" y="1553.45" width="5.60" height="21.70" fill="#f0b9b9" stroke="#000" stroke-width="2.3"/>
<text x="1656.14" y="1551.50" font-family="'Liberation Sans',Arial,sans-serif" font-size="32.56" font-weight="bold" font-style="italic" textLength="113.71" lengthAdjust="spacingAndGlyphs">TRIM34</text>
<rect x="1682.25" y="1553.45" width="60.20" height="21.70" fill="#f0b9b9" stroke="#000" stroke-width="2.3"/>
<text x="474.74" y="1606.00" font-family="'Liberation Sans',Arial,sans-serif" font-size="32.56" font-weight="bold" font-style="italic" textLength="124.38" lengthAdjust="spacingAndGlyphs">OR52A1</text>
<rect x="533.60" y="1606.80" width="5.00" height="24" fill="#000"/>
<text x="741.94" y="1606.00" font-family="'Liberation Sans',Arial,sans-serif" font-size="32.56" font-weight="bold" font-style="italic" textLength="89.29" lengthAdjust="spacingAndGlyphs">HBG2</text>
<rect x="784.75" y="1607.95" width="3.90" height="21.70" fill="#f0b9b9" stroke="#000" stroke-width="2.3"/>
<text x="963.43" y="1606.00" font-family="'Liberation Sans',Arial,sans-serif" font-size="32.56" font-weight="bold" font-style="italic" textLength="125.40" lengthAdjust="spacingAndGlyphs">OR51B6</text>
<rect x="1023.20" y="1606.80" width="5.00" height="24" fill="#000"/>
<text x="1300.34" y="1606.00" font-family="'Liberation Sans',Arial,sans-serif" font-size="32.56" font-weight="bold" font-style="italic" textLength="124.58" lengthAdjust="spacingAndGlyphs">OR52D1</text>
<rect x="1359.50" y="1606.80" width="5.00" height="24" fill="#000"/>
<text x="1597.74" y="1606.00" font-family="'Liberation Sans',Arial,sans-serif" font-size="32.56" font-weight="bold" font-style="italic" textLength="95.58" lengthAdjust="spacingAndGlyphs">TRIM6</text>
<rect x="1624.75" y="1607.95" width="40.10" height="21.70" fill="#f0b9b9" stroke="#000" stroke-width="2.3"/>
<text x="426.65" y="1660.40" font-family="'Liberation Sans',Arial,sans-serif" font-size="32.56" font-weight="bold" font-style="italic" textLength="123.68" lengthAdjust="spacingAndGlyphs">OR52A5</text>
<rect x="485.50" y="1661.20" width="5.00" height="24" fill="#000"/>
<text x="729.42" y="1660.40" font-family="'Liberation Sans',Arial,sans-serif" font-size="32.56" font-weight="bold" font-style="italic" textLength="90.93" lengthAdjust="spacingAndGlyphs">HBG1</text>
<rect x="772.85" y="1662.35" width="3.70" height="21.70" fill="#f0b9b9" stroke="#000" stroke-width="2.3"/>
<text x="943.62" y="1660.40" font-family="'Liberation Sans',Arial,sans-serif" font-size="32.56" font-weight="bold" font-style="italic" textLength="126.00" lengthAdjust="spacingAndGlyphs">OR51B5</text>
<rect x="999.75" y="1662.35" width="13.70" height="21.70" fill="#f0b9b9" stroke="#000" stroke-width="2.3"/>
<text x="1220.92" y="1660.40" font-family="'Liberation Sans',Arial,sans-serif" font-size="32.56" font-weight="bold" font-style="italic" textLength="111.41" lengthAdjust="spacingAndGlyphs">OR51I2</text>
<rect x="1273.10" y="1661.20" width="5.00" height="24" fill="#000"/>
<text x="1524.92" y="1660.40" font-family="'Liberation Sans',Arial,sans-serif" font-size="32.56" font-weight="bold" font-style="italic" textLength="126.21" lengthAdjust="spacingAndGlyphs">OR52B6</text>
<rect x="1585.20" y="1661.20" width="5.00" height="24" fill="#000"/>
<text x="247.82" y="1715.00" font-family="'Liberation Sans',Arial,sans-serif" font-size="32.56" font-weight="bold" font-style="italic" textLength="123.81" lengthAdjust="spacingAndGlyphs">OR52E2</text>
<rect x="307.00" y="1715.80" width="5.00" height="24" fill="#000"/>
<text x="702.83" y="1715.00" font-family="'Liberation Sans',Arial,sans-serif" font-size="32.56" font-weight="bold" font-style="italic" textLength="70.08" lengthAdjust="spacingAndGlyphs">HBD</text>
<rect x="735.15" y="1716.95" width="4.10" height="21.70" fill="#f0b9b9" stroke="#000" stroke-width="2.3"/>
<text x="894.92" y="1715.00" font-family="'Liberation Sans',Arial,sans-serif" font-size="32.56" font-weight="bold" font-style="italic" textLength="125.91" lengthAdjust="spacingAndGlyphs">OR51B2</text>
<rect x="954.40" y="1715.80" width="5.00" height="24" fill="#000"/>
<text x="1189.42" y="1715.00" font-family="'Liberation Sans',Arial,sans-serif" font-size="32.56" font-weight="bold" font-style="italic" textLength="111.52" lengthAdjust="spacingAndGlyphs">OR51I1</text>
<rect x="1241.60" y="1715.80" width="5.00" height="24" fill="#000"/>
<text x="1436.21" y="1715.00" font-family="'Liberation Sans',Arial,sans-serif" font-size="32.56" font-weight="bold" font-style="italic" textLength="126.53" lengthAdjust="spacingAndGlyphs">OR52H1</text>
<rect x="1496.30" y="1715.80" width="5.00" height="24" fill="#000"/>
<text x="1822.41" y="1715.00" font-family="'Liberation Sans',Arial,sans-serif" font-size="32.56" font-weight="bold" font-style="italic" textLength="114.92" lengthAdjust="spacingAndGlyphs">TRIM22</text>
<rect x="1853.55" y="1716.95" width="50.80" height="21.70" fill="#f0b9b9" stroke="#000" stroke-width="2.3"/>
<text x="219.41" y="1769.70" font-family="'Liberation Sans',Arial,sans-serif" font-size="32.56" font-weight="bold" font-style="italic" textLength="121.66" lengthAdjust="spacingAndGlyphs">OR52J3</text>
<rect x="276.90" y="1770.50" width="5.00" height="24" fill="#000"/>
<text x="684.43" y="1769.70" font-family="'Liberation Sans',Arial,sans-serif" font-size="32.56" font-weight="bold" font-style="italic" textLength="70.38" lengthAdjust="spacingAndGlyphs">HBB</text>
<rect x="716.75" y="1771.65" width="4.10" height="21.70" fill="#f0b9b9" stroke="#000" stroke-width="2.3"/>
<text x="840.41" y="1769.70" font-family="'Liberation Sans',Arial,sans-serif" font-size="32.56" font-weight="bold" font-style="italic" textLength="126.65" lengthAdjust="spacingAndGlyphs">OR51B4</text>
<rect x="899.80" y="1770.50" width="5.00" height="24" fill="#000"/>
<text x="1136.42" y="1769.70" font-family="'Liberation Sans',Arial,sans-serif" font-size="32.56" font-weight="bold" font-style="italic" textLength="127.31" lengthAdjust="spacingAndGlyphs">OR51Q1</text>
<rect x="1196.70" y="1770.50" width="5.00" height="24" fill="#000"/>
<text x="1359.11" y="1769.70" font-family="'Liberation Sans',Arial,sans-serif" font-size="32.56" font-weight="bold" font-style="italic" textLength="135.19" lengthAdjust="spacingAndGlyphs">UBQLNL</text>
<rect x="1424.35" y="1771.65" width="5.00" height="21.70" fill="#f0b9b9" stroke="#000" stroke-width="2.3"/>
<text x="1758.22" y="1769.70" font-family="'Liberation Sans',Arial,sans-serif" font-size="32.56" font-weight="bold" font-style="italic" textLength="96.70" lengthAdjust="spacingAndGlyphs">TRIM5</text>
<rect x="1770.45" y="1771.65" width="70.60" height="21.70" fill="#f0b9b9" stroke="#000" stroke-width="2.3"/>
</svg>
</body></html>
